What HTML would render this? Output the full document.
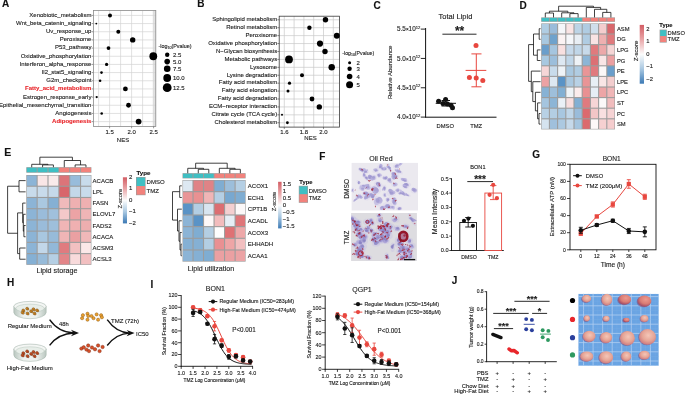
<!DOCTYPE html>
<html><head><meta charset="utf-8"><style>
html,body{margin:0;padding:0;background:#fff;width:685px;height:395px;overflow:hidden;}
svg{display:block;font-family:"Liberation Sans", sans-serif;will-change:transform;}
text{stroke:currentColor;stroke-width:0.12px;paint-order:stroke;}
</style></head><body>
<svg width="685" height="395" viewBox="0 0 685 395">
<rect x="0" y="0" width="685" height="395" fill="#fff"/>
<text x="2.00" y="6.90" font-size="10" text-anchor="start" fill="#111" color="#111" font-weight="bold" >A</text>
<rect x="93.40" y="10.50" width="62.40" height="116.00" fill="#ffffff" stroke="none" stroke-width="0.8" />
<defs><linearGradient id="gA" x1="0" x2="1" y1="0" y2="0"><stop offset="0" stop-color="#ffffff"/><stop offset="1" stop-color="#d6d6d6"/></linearGradient></defs>
<rect x="151.80" y="10.50" width="4.00" height="116.00" fill="url(#gA)" stroke="none" stroke-width="0.8" />
<line x1="98.60" y1="10.50" x2="98.60" y2="126.50" stroke="#d4d4d4" stroke-width="0.7" />
<line x1="109.60" y1="10.50" x2="109.60" y2="126.50" stroke="#d4d4d4" stroke-width="0.7" />
<line x1="120.60" y1="10.50" x2="120.60" y2="126.50" stroke="#d4d4d4" stroke-width="0.7" />
<line x1="131.60" y1="10.50" x2="131.60" y2="126.50" stroke="#d4d4d4" stroke-width="0.7" />
<line x1="142.60" y1="10.50" x2="142.60" y2="126.50" stroke="#d4d4d4" stroke-width="0.7" />
<line x1="153.60" y1="10.50" x2="153.60" y2="126.50" stroke="#d4d4d4" stroke-width="0.7" />
<line x1="93.40" y1="15.40" x2="155.80" y2="15.40" stroke="#d4d4d4" stroke-width="0.7" />
<line x1="91.60" y1="15.40" x2="93.40" y2="15.40" stroke="#555" stroke-width="0.6" />
<text x="91.40" y="16.80" font-size="6.0" text-anchor="end" fill="#1a1a1a" color="#1a1a1a" font-weight="normal" >Xenobiotic_metabolism</text>
<line x1="93.40" y1="23.57" x2="155.80" y2="23.57" stroke="#d4d4d4" stroke-width="0.7" />
<line x1="91.60" y1="23.57" x2="93.40" y2="23.57" stroke="#555" stroke-width="0.6" />
<text x="91.40" y="24.97" font-size="6.0" text-anchor="end" fill="#1a1a1a" color="#1a1a1a" font-weight="normal" >Wnt_beta_catenin_signaling</text>
<line x1="93.40" y1="31.74" x2="155.80" y2="31.74" stroke="#d4d4d4" stroke-width="0.7" />
<line x1="91.60" y1="31.74" x2="93.40" y2="31.74" stroke="#555" stroke-width="0.6" />
<text x="91.40" y="33.14" font-size="6.0" text-anchor="end" fill="#1a1a1a" color="#1a1a1a" font-weight="normal" >Uv_response_up</text>
<line x1="93.40" y1="39.91" x2="155.80" y2="39.91" stroke="#d4d4d4" stroke-width="0.7" />
<line x1="91.60" y1="39.91" x2="93.40" y2="39.91" stroke="#555" stroke-width="0.6" />
<text x="91.40" y="41.31" font-size="6.0" text-anchor="end" fill="#1a1a1a" color="#1a1a1a" font-weight="normal" >Peroxisome</text>
<line x1="93.40" y1="48.08" x2="155.80" y2="48.08" stroke="#d4d4d4" stroke-width="0.7" />
<line x1="91.60" y1="48.08" x2="93.40" y2="48.08" stroke="#555" stroke-width="0.6" />
<text x="91.40" y="49.48" font-size="6.0" text-anchor="end" fill="#1a1a1a" color="#1a1a1a" font-weight="normal" >P53_pathway</text>
<line x1="93.40" y1="56.25" x2="155.80" y2="56.25" stroke="#d4d4d4" stroke-width="0.7" />
<line x1="91.60" y1="56.25" x2="93.40" y2="56.25" stroke="#555" stroke-width="0.6" />
<text x="91.40" y="57.65" font-size="6.0" text-anchor="end" fill="#1a1a1a" color="#1a1a1a" font-weight="normal" >Oxidative_phosphorylation</text>
<line x1="93.40" y1="64.42" x2="155.80" y2="64.42" stroke="#d4d4d4" stroke-width="0.7" />
<line x1="91.60" y1="64.42" x2="93.40" y2="64.42" stroke="#555" stroke-width="0.6" />
<text x="91.40" y="65.82" font-size="6.0" text-anchor="end" fill="#1a1a1a" color="#1a1a1a" font-weight="normal" >Interferon_alpha_response</text>
<line x1="93.40" y1="72.59" x2="155.80" y2="72.59" stroke="#d4d4d4" stroke-width="0.7" />
<line x1="91.60" y1="72.59" x2="93.40" y2="72.59" stroke="#555" stroke-width="0.6" />
<text x="91.40" y="73.99" font-size="6.0" text-anchor="end" fill="#1a1a1a" color="#1a1a1a" font-weight="normal" >Il2_stat5_signaling</text>
<line x1="93.40" y1="80.76" x2="155.80" y2="80.76" stroke="#d4d4d4" stroke-width="0.7" />
<line x1="91.60" y1="80.76" x2="93.40" y2="80.76" stroke="#555" stroke-width="0.6" />
<text x="91.40" y="82.16" font-size="6.0" text-anchor="end" fill="#1a1a1a" color="#1a1a1a" font-weight="normal" >G2m_checkpoint</text>
<line x1="93.40" y1="88.93" x2="155.80" y2="88.93" stroke="#d4d4d4" stroke-width="0.7" />
<line x1="91.60" y1="88.93" x2="93.40" y2="88.93" stroke="#555" stroke-width="0.6" />
<text x="91.40" y="90.33" font-size="6.0" text-anchor="end" fill="#e8262b" color="#e8262b" font-weight="bold" >Fatty_acid_metabolism</text>
<line x1="93.40" y1="97.10" x2="155.80" y2="97.10" stroke="#d4d4d4" stroke-width="0.7" />
<line x1="91.60" y1="97.10" x2="93.40" y2="97.10" stroke="#555" stroke-width="0.6" />
<text x="91.40" y="98.50" font-size="6.0" text-anchor="end" fill="#1a1a1a" color="#1a1a1a" font-weight="normal" >Estrogen_response_early</text>
<line x1="93.40" y1="105.27" x2="155.80" y2="105.27" stroke="#d4d4d4" stroke-width="0.7" />
<line x1="91.60" y1="105.27" x2="93.40" y2="105.27" stroke="#555" stroke-width="0.6" />
<text x="91.40" y="106.67" font-size="6.0" text-anchor="end" fill="#1a1a1a" color="#1a1a1a" font-weight="normal" >Epithelial_mesenchymal_transition</text>
<line x1="93.40" y1="113.44" x2="155.80" y2="113.44" stroke="#d4d4d4" stroke-width="0.7" />
<line x1="91.60" y1="113.44" x2="93.40" y2="113.44" stroke="#555" stroke-width="0.6" />
<text x="91.40" y="114.84" font-size="6.0" text-anchor="end" fill="#1a1a1a" color="#1a1a1a" font-weight="normal" >Angiogenesis</text>
<line x1="93.40" y1="121.61" x2="155.80" y2="121.61" stroke="#d4d4d4" stroke-width="0.7" />
<line x1="91.60" y1="121.61" x2="93.40" y2="121.61" stroke="#555" stroke-width="0.6" />
<text x="91.40" y="123.01" font-size="6.0" text-anchor="end" fill="#e8262b" color="#e8262b" font-weight="bold" >Adipogenesis</text>
<rect x="93.40" y="10.50" width="62.40" height="116.00" fill="none" stroke="#8a8a8a" stroke-width="0.8" />
<circle cx="110.00" cy="15.40" r="2.00" fill="#000" stroke="none" stroke-width="0.8"/>
<circle cx="96.30" cy="23.57" r="0.90" fill="#000" stroke="none" stroke-width="0.8"/>
<circle cx="118.30" cy="31.74" r="2.00" fill="#000" stroke="none" stroke-width="0.8"/>
<circle cx="132.70" cy="39.91" r="2.70" fill="#000" stroke="none" stroke-width="0.8"/>
<circle cx="108.50" cy="48.08" r="1.90" fill="#000" stroke="none" stroke-width="0.8"/>
<circle cx="153.30" cy="56.25" r="3.90" fill="#000" stroke="none" stroke-width="0.8"/>
<circle cx="106.60" cy="64.42" r="1.60" fill="#000" stroke="none" stroke-width="0.8"/>
<circle cx="101.50" cy="72.59" r="1.30" fill="#000" stroke="none" stroke-width="0.8"/>
<circle cx="100.10" cy="80.76" r="1.30" fill="#000" stroke="none" stroke-width="0.8"/>
<circle cx="125.40" cy="88.93" r="2.40" fill="#000" stroke="none" stroke-width="0.8"/>
<circle cx="96.70" cy="97.10" r="1.10" fill="#000" stroke="none" stroke-width="0.8"/>
<circle cx="128.50" cy="105.27" r="2.40" fill="#000" stroke="none" stroke-width="0.8"/>
<circle cx="101.70" cy="113.44" r="1.30" fill="#000" stroke="none" stroke-width="0.8"/>
<circle cx="138.60" cy="121.61" r="2.90" fill="#000" stroke="none" stroke-width="0.8"/>
<line x1="109.60" y1="126.50" x2="109.60" y2="128.30" stroke="#555" stroke-width="0.6" />
<text x="109.60" y="134.20" font-size="6.0" text-anchor="middle" fill="#1a1a1a" color="#1a1a1a" font-weight="normal" >1.5</text>
<line x1="131.60" y1="126.50" x2="131.60" y2="128.30" stroke="#555" stroke-width="0.6" />
<text x="131.60" y="134.20" font-size="6.0" text-anchor="middle" fill="#1a1a1a" color="#1a1a1a" font-weight="normal" >2.0</text>
<line x1="153.60" y1="126.50" x2="153.60" y2="128.30" stroke="#555" stroke-width="0.6" />
<text x="153.60" y="134.20" font-size="6.0" text-anchor="middle" fill="#1a1a1a" color="#1a1a1a" font-weight="normal" >2.5</text>
<text x="123.00" y="141.90" font-size="6.0" text-anchor="middle" fill="#1a1a1a" color="#1a1a1a" font-weight="normal" >NES</text>
<text x="158.40" y="47.89" font-size="5.4" text-anchor="start" fill="#1a1a1a" color="#1a1a1a" font-weight="normal" >-log<tspan font-size="3.6" dy="1.2">10</tspan><tspan dy="-1.2">(Pvalue)</tspan></text>
<circle cx="167.20" cy="54.80" r="2.20" fill="#000" stroke="none" stroke-width="0.8"/>
<text x="173.00" y="56.90" font-size="6.0" text-anchor="start" fill="#1a1a1a" color="#1a1a1a" font-weight="normal" >2.5</text>
<circle cx="167.20" cy="61.60" r="2.80" fill="#000" stroke="none" stroke-width="0.8"/>
<text x="173.00" y="63.70" font-size="6.0" text-anchor="start" fill="#1a1a1a" color="#1a1a1a" font-weight="normal" >5.0</text>
<circle cx="167.20" cy="68.80" r="3.30" fill="#000" stroke="none" stroke-width="0.8"/>
<text x="173.00" y="70.90" font-size="6.0" text-anchor="start" fill="#1a1a1a" color="#1a1a1a" font-weight="normal" >7.5</text>
<circle cx="167.20" cy="78.00" r="3.90" fill="#000" stroke="none" stroke-width="0.8"/>
<text x="173.00" y="80.10" font-size="6.0" text-anchor="start" fill="#1a1a1a" color="#1a1a1a" font-weight="normal" >10.0</text>
<circle cx="167.20" cy="87.70" r="4.40" fill="#000" stroke="none" stroke-width="0.8"/>
<text x="173.00" y="89.80" font-size="6.0" text-anchor="start" fill="#1a1a1a" color="#1a1a1a" font-weight="normal" >12.5</text>
<text x="197.20" y="6.80" font-size="10" text-anchor="start" fill="#111" color="#111" font-weight="bold" >B</text>
<rect x="279.20" y="16.20" width="60.20" height="110.90" fill="#ffffff" stroke="none" stroke-width="0.8" />
<line x1="284.30" y1="16.20" x2="284.30" y2="127.10" stroke="#c8c8c8" stroke-width="0.7" />
<line x1="294.10" y1="16.20" x2="294.10" y2="127.10" stroke="#c8c8c8" stroke-width="0.7" />
<line x1="303.90" y1="16.20" x2="303.90" y2="127.10" stroke="#c8c8c8" stroke-width="0.7" />
<line x1="313.70" y1="16.20" x2="313.70" y2="127.10" stroke="#c8c8c8" stroke-width="0.7" />
<line x1="323.50" y1="16.20" x2="323.50" y2="127.10" stroke="#c8c8c8" stroke-width="0.7" />
<line x1="333.30" y1="16.20" x2="333.30" y2="127.10" stroke="#c8c8c8" stroke-width="0.7" />
<line x1="279.20" y1="19.80" x2="339.40" y2="19.80" stroke="#c8c8c8" stroke-width="0.7" />
<line x1="277.40" y1="19.80" x2="279.20" y2="19.80" stroke="#333" stroke-width="0.6" />
<text x="277.20" y="21.10" font-size="6.0" text-anchor="end" fill="#1a1a1a" color="#1a1a1a" font-weight="normal" >Sphingolipid metabolism</text>
<line x1="279.20" y1="27.72" x2="339.40" y2="27.72" stroke="#c8c8c8" stroke-width="0.7" />
<line x1="277.40" y1="27.72" x2="279.20" y2="27.72" stroke="#333" stroke-width="0.6" />
<text x="277.20" y="29.02" font-size="6.0" text-anchor="end" fill="#1a1a1a" color="#1a1a1a" font-weight="normal" >Retinol metabolism</text>
<line x1="279.20" y1="35.64" x2="339.40" y2="35.64" stroke="#c8c8c8" stroke-width="0.7" />
<line x1="277.40" y1="35.64" x2="279.20" y2="35.64" stroke="#333" stroke-width="0.6" />
<text x="277.20" y="36.94" font-size="6.0" text-anchor="end" fill="#1a1a1a" color="#1a1a1a" font-weight="normal" >Peroxisome</text>
<line x1="279.20" y1="43.56" x2="339.40" y2="43.56" stroke="#c8c8c8" stroke-width="0.7" />
<line x1="277.40" y1="43.56" x2="279.20" y2="43.56" stroke="#333" stroke-width="0.6" />
<text x="277.20" y="44.86" font-size="6.0" text-anchor="end" fill="#1a1a1a" color="#1a1a1a" font-weight="normal" >Oxidative phosphorylation</text>
<line x1="279.20" y1="51.48" x2="339.40" y2="51.48" stroke="#c8c8c8" stroke-width="0.7" />
<line x1="277.40" y1="51.48" x2="279.20" y2="51.48" stroke="#333" stroke-width="0.6" />
<text x="277.20" y="52.78" font-size="6.0" text-anchor="end" fill="#1a1a1a" color="#1a1a1a" font-weight="normal" >N−Glycan biosynthesis</text>
<line x1="279.20" y1="59.40" x2="339.40" y2="59.40" stroke="#c8c8c8" stroke-width="0.7" />
<line x1="277.40" y1="59.40" x2="279.20" y2="59.40" stroke="#333" stroke-width="0.6" />
<text x="277.20" y="60.70" font-size="6.0" text-anchor="end" fill="#1a1a1a" color="#1a1a1a" font-weight="normal" >Metabolic pathways</text>
<line x1="279.20" y1="67.32" x2="339.40" y2="67.32" stroke="#c8c8c8" stroke-width="0.7" />
<line x1="277.40" y1="67.32" x2="279.20" y2="67.32" stroke="#333" stroke-width="0.6" />
<text x="277.20" y="68.62" font-size="6.0" text-anchor="end" fill="#1a1a1a" color="#1a1a1a" font-weight="normal" >Lysosome</text>
<line x1="279.20" y1="75.24" x2="339.40" y2="75.24" stroke="#c8c8c8" stroke-width="0.7" />
<line x1="277.40" y1="75.24" x2="279.20" y2="75.24" stroke="#333" stroke-width="0.6" />
<text x="277.20" y="76.54" font-size="6.0" text-anchor="end" fill="#1a1a1a" color="#1a1a1a" font-weight="normal" >Lysine degradation</text>
<line x1="279.20" y1="83.16" x2="339.40" y2="83.16" stroke="#c8c8c8" stroke-width="0.7" />
<line x1="277.40" y1="83.16" x2="279.20" y2="83.16" stroke="#333" stroke-width="0.6" />
<text x="277.20" y="84.46" font-size="6.0" text-anchor="end" fill="#1a1a1a" color="#1a1a1a" font-weight="normal" >Fatty acid metabolism</text>
<line x1="279.20" y1="91.08" x2="339.40" y2="91.08" stroke="#c8c8c8" stroke-width="0.7" />
<line x1="277.40" y1="91.08" x2="279.20" y2="91.08" stroke="#333" stroke-width="0.6" />
<text x="277.20" y="92.38" font-size="6.0" text-anchor="end" fill="#1a1a1a" color="#1a1a1a" font-weight="normal" >Fatty acid elongation</text>
<line x1="279.20" y1="99.00" x2="339.40" y2="99.00" stroke="#c8c8c8" stroke-width="0.7" />
<line x1="277.40" y1="99.00" x2="279.20" y2="99.00" stroke="#333" stroke-width="0.6" />
<text x="277.20" y="100.30" font-size="6.0" text-anchor="end" fill="#1a1a1a" color="#1a1a1a" font-weight="normal" >Fatty acid degradation</text>
<line x1="279.20" y1="106.92" x2="339.40" y2="106.92" stroke="#c8c8c8" stroke-width="0.7" />
<line x1="277.40" y1="106.92" x2="279.20" y2="106.92" stroke="#333" stroke-width="0.6" />
<text x="277.20" y="108.22" font-size="6.0" text-anchor="end" fill="#1a1a1a" color="#1a1a1a" font-weight="normal" >ECM−receptor interaction</text>
<line x1="279.20" y1="114.84" x2="339.40" y2="114.84" stroke="#c8c8c8" stroke-width="0.7" />
<line x1="277.40" y1="114.84" x2="279.20" y2="114.84" stroke="#333" stroke-width="0.6" />
<text x="277.20" y="116.14" font-size="6.0" text-anchor="end" fill="#1a1a1a" color="#1a1a1a" font-weight="normal" >Citrate cycle (TCA cycle)</text>
<line x1="279.20" y1="122.76" x2="339.40" y2="122.76" stroke="#c8c8c8" stroke-width="0.7" />
<line x1="277.40" y1="122.76" x2="279.20" y2="122.76" stroke="#333" stroke-width="0.6" />
<text x="277.20" y="124.06" font-size="6.0" text-anchor="end" fill="#1a1a1a" color="#1a1a1a" font-weight="normal" >Cholesterol metabolism</text>
<rect x="279.20" y="16.20" width="60.20" height="110.90" fill="none" stroke="#3a3a3a" stroke-width="0.8" />
<circle cx="325.50" cy="19.80" r="2.70" fill="#000" stroke="none" stroke-width="0.8"/>
<circle cx="309.40" cy="27.72" r="2.20" fill="#000" stroke="none" stroke-width="0.8"/>
<circle cx="336.80" cy="35.64" r="3.00" fill="#000" stroke="none" stroke-width="0.8"/>
<circle cx="320.00" cy="43.56" r="3.10" fill="#000" stroke="none" stroke-width="0.8"/>
<circle cx="325.00" cy="51.48" r="2.70" fill="#000" stroke="none" stroke-width="0.8"/>
<circle cx="289.00" cy="59.40" r="3.90" fill="#000" stroke="none" stroke-width="0.8"/>
<circle cx="331.70" cy="67.32" r="3.20" fill="#000" stroke="none" stroke-width="0.8"/>
<circle cx="302.00" cy="75.24" r="2.00" fill="#000" stroke="none" stroke-width="0.8"/>
<circle cx="289.50" cy="83.16" r="1.60" fill="#000" stroke="none" stroke-width="0.8"/>
<circle cx="288.00" cy="91.08" r="1.50" fill="#000" stroke="none" stroke-width="0.8"/>
<circle cx="312.00" cy="99.00" r="2.40" fill="#000" stroke="none" stroke-width="0.8"/>
<circle cx="319.30" cy="106.92" r="2.70" fill="#000" stroke="none" stroke-width="0.8"/>
<circle cx="282.00" cy="114.84" r="1.00" fill="#000" stroke="none" stroke-width="0.8"/>
<circle cx="287.40" cy="122.76" r="1.40" fill="#000" stroke="none" stroke-width="0.8"/>
<line x1="284.30" y1="127.10" x2="284.30" y2="128.90" stroke="#333" stroke-width="0.6" />
<text x="284.30" y="133.80" font-size="6.0" text-anchor="middle" fill="#1a1a1a" color="#1a1a1a" font-weight="normal" >1.6</text>
<line x1="303.90" y1="127.10" x2="303.90" y2="128.90" stroke="#333" stroke-width="0.6" />
<text x="303.90" y="133.80" font-size="6.0" text-anchor="middle" fill="#1a1a1a" color="#1a1a1a" font-weight="normal" >1.8</text>
<line x1="323.50" y1="127.10" x2="323.50" y2="128.90" stroke="#333" stroke-width="0.6" />
<text x="323.50" y="133.80" font-size="6.0" text-anchor="middle" fill="#1a1a1a" color="#1a1a1a" font-weight="normal" >2.0</text>
<text x="310.50" y="140.10" font-size="6.0" text-anchor="middle" fill="#1a1a1a" color="#1a1a1a" font-weight="normal" >NES</text>
<text x="342.30" y="54.62" font-size="5.2" text-anchor="start" fill="#1a1a1a" color="#1a1a1a" font-weight="normal" >-log<tspan font-size="3.5" dy="1.2">10</tspan><tspan dy="-1.2">(Pvalue)</tspan></text>
<circle cx="349.60" cy="62.80" r="1.50" fill="#000" stroke="none" stroke-width="0.8"/>
<text x="356.50" y="64.90" font-size="6.0" text-anchor="start" fill="#1a1a1a" color="#1a1a1a" font-weight="normal" >2</text>
<circle cx="349.60" cy="68.80" r="2.20" fill="#000" stroke="none" stroke-width="0.8"/>
<text x="356.50" y="70.90" font-size="6.0" text-anchor="start" fill="#1a1a1a" color="#1a1a1a" font-weight="normal" >3</text>
<circle cx="349.60" cy="76.50" r="2.80" fill="#000" stroke="none" stroke-width="0.8"/>
<text x="356.50" y="78.60" font-size="6.0" text-anchor="start" fill="#1a1a1a" color="#1a1a1a" font-weight="normal" >4</text>
<circle cx="349.60" cy="84.70" r="3.50" fill="#000" stroke="none" stroke-width="0.8"/>
<text x="356.50" y="86.80" font-size="6.0" text-anchor="start" fill="#1a1a1a" color="#1a1a1a" font-weight="normal" >5</text>
<text x="373.50" y="8.80" font-size="10" text-anchor="start" fill="#111" color="#111" font-weight="bold" >C</text>
<text x="455.50" y="19.12" font-size="7.5" text-anchor="middle" fill="#1a1a1a" color="#1a1a1a" font-weight="normal" >Total Lipid</text>
<line x1="425.60" y1="28.00" x2="425.60" y2="117.60" stroke="#111" stroke-width="1.0" />
<line x1="425.20" y1="117.20" x2="496.50" y2="117.20" stroke="#111" stroke-width="1.0" />
<line x1="420.80" y1="29.11" x2="425.60" y2="29.11" stroke="#111" stroke-width="0.9" />
<text x="420.40" y="31.21" font-size="6.4" text-anchor="end" fill="#1a1a1a" color="#1a1a1a" font-weight="normal" >5.5<tspan font-size="4.6">×</tspan>10<tspan font-size="4.2" dy="-2.4">12</tspan></text>
<line x1="420.80" y1="58.44" x2="425.60" y2="58.44" stroke="#111" stroke-width="0.9" />
<text x="420.40" y="60.54" font-size="6.4" text-anchor="end" fill="#1a1a1a" color="#1a1a1a" font-weight="normal" >5.0<tspan font-size="4.6">×</tspan>10<tspan font-size="4.2" dy="-2.4">12</tspan></text>
<line x1="420.80" y1="87.77" x2="425.60" y2="87.77" stroke="#111" stroke-width="0.9" />
<text x="420.40" y="89.87" font-size="6.4" text-anchor="end" fill="#1a1a1a" color="#1a1a1a" font-weight="normal" >4.5<tspan font-size="4.6">×</tspan>10<tspan font-size="4.2" dy="-2.4">12</tspan></text>
<line x1="420.80" y1="117.10" x2="425.60" y2="117.10" stroke="#111" stroke-width="0.9" />
<text x="420.40" y="119.20" font-size="6.4" text-anchor="end" fill="#1a1a1a" color="#1a1a1a" font-weight="normal" >4.0<tspan font-size="4.6">×</tspan>10<tspan font-size="4.2" dy="-2.4">12</tspan></text>
<text transform="translate(391.80,72.30) rotate(-90)" x="0" y="0" font-size="6.0" text-anchor="middle" fill="#1a1a1a" color="#1a1a1a" font-weight="normal">Relative Abundance</text>
<line x1="442.40" y1="34.20" x2="476.50" y2="34.20" stroke="#111" stroke-width="0.9" />
<text x="459.60" y="35.30" font-size="12.0" text-anchor="middle" fill="#1a1a1a" color="#1a1a1a" font-weight="bold" >**</text>
<circle cx="438.60" cy="101.20" r="2.50" fill="#111" stroke="none" stroke-width="0.8"/>
<circle cx="445.60" cy="99.40" r="2.50" fill="#111" stroke="none" stroke-width="0.8"/>
<circle cx="443.00" cy="103.50" r="2.50" fill="#111" stroke="none" stroke-width="0.8"/>
<circle cx="451.00" cy="105.30" r="2.50" fill="#111" stroke="none" stroke-width="0.8"/>
<circle cx="452.50" cy="107.80" r="2.50" fill="#111" stroke="none" stroke-width="0.8"/>
<circle cx="447.50" cy="104.00" r="2.50" fill="#111" stroke="none" stroke-width="0.8"/>
<line x1="435.70" y1="103.30" x2="456.00" y2="103.30" stroke="#111" stroke-width="1.0" />
<line x1="445.80" y1="100.50" x2="445.80" y2="106.00" stroke="#111" stroke-width="1.0" />
<line x1="441.50" y1="100.50" x2="450.00" y2="100.50" stroke="#111" stroke-width="1.0" />
<line x1="441.50" y1="106.00" x2="450.00" y2="106.00" stroke="#111" stroke-width="1.0" />
<line x1="476.30" y1="53.90" x2="476.30" y2="86.80" stroke="#e8473f" stroke-width="1.0" />
<line x1="471.40" y1="53.90" x2="481.50" y2="53.90" stroke="#e8473f" stroke-width="1.0" />
<line x1="471.40" y1="86.80" x2="481.50" y2="86.80" stroke="#e8473f" stroke-width="1.0" />
<line x1="465.60" y1="70.40" x2="486.30" y2="70.40" stroke="#e8473f" stroke-width="1.0" />
<circle cx="476.00" cy="45.60" r="2.50" fill="#e8473f" stroke="none" stroke-width="0.8"/>
<circle cx="469.40" cy="77.50" r="2.50" fill="#e8473f" stroke="none" stroke-width="0.8"/>
<circle cx="476.20" cy="78.00" r="2.50" fill="#e8473f" stroke="none" stroke-width="0.8"/>
<circle cx="482.80" cy="80.50" r="2.50" fill="#e8473f" stroke="none" stroke-width="0.8"/>
<text x="445.30" y="128.03" font-size="5.8" text-anchor="middle" fill="#1a1a1a" color="#1a1a1a" font-weight="normal" >DMSO</text>
<text x="476.20" y="128.03" font-size="5.8" text-anchor="middle" fill="#1a1a1a" color="#1a1a1a" font-weight="normal" >TMZ</text>
<text x="519.60" y="9.00" font-size="10" text-anchor="start" fill="#111" color="#111" font-weight="bold" >D</text>
<rect x="541.20" y="23.40" width="73.80" height="106.00" fill="#9c9c9c" stroke="none" stroke-width="0.8" />
<rect x="541.75" y="23.95" width="7.10" height="9.50" fill="#b0cde3" stroke="none" stroke-width="0.8" />
<rect x="549.95" y="23.95" width="7.10" height="9.50" fill="#9abcda" stroke="none" stroke-width="0.8" />
<rect x="558.15" y="23.95" width="7.10" height="9.50" fill="#f5f7fa" stroke="none" stroke-width="0.8" />
<rect x="566.35" y="23.95" width="7.10" height="9.50" fill="#f9e4e4" stroke="none" stroke-width="0.8" />
<rect x="574.55" y="23.95" width="7.10" height="9.50" fill="#bcd4e6" stroke="none" stroke-width="0.8" />
<rect x="582.75" y="23.95" width="7.10" height="9.50" fill="#b0cce2" stroke="none" stroke-width="0.8" />
<rect x="590.95" y="23.95" width="7.10" height="9.50" fill="#d0dfec" stroke="none" stroke-width="0.8" />
<rect x="599.15" y="23.95" width="7.10" height="9.50" fill="#f4cdcd" stroke="none" stroke-width="0.8" />
<rect x="607.35" y="23.95" width="7.10" height="9.50" fill="#d9686c" stroke="none" stroke-width="0.8" />
<rect x="541.75" y="34.55" width="7.10" height="9.50" fill="#a8c8e0" stroke="none" stroke-width="0.8" />
<rect x="549.95" y="34.55" width="7.10" height="9.50" fill="#6fa2cc" stroke="none" stroke-width="0.8" />
<rect x="558.15" y="34.55" width="7.10" height="9.50" fill="#fbf3f3" stroke="none" stroke-width="0.8" />
<rect x="566.35" y="34.55" width="7.10" height="9.50" fill="#f5f7fa" stroke="none" stroke-width="0.8" />
<rect x="574.55" y="34.55" width="7.10" height="9.50" fill="#e8eef4" stroke="none" stroke-width="0.8" />
<rect x="582.75" y="34.55" width="7.10" height="9.50" fill="#b0cce2" stroke="none" stroke-width="0.8" />
<rect x="590.95" y="34.55" width="7.10" height="9.50" fill="#f9e3e3" stroke="none" stroke-width="0.8" />
<rect x="599.15" y="34.55" width="7.10" height="9.50" fill="#eeb0b0" stroke="none" stroke-width="0.8" />
<rect x="607.35" y="34.55" width="7.10" height="9.50" fill="#e07a7d" stroke="none" stroke-width="0.8" />
<rect x="541.75" y="45.15" width="7.10" height="9.50" fill="#6a9ecb" stroke="none" stroke-width="0.8" />
<rect x="549.95" y="45.15" width="7.10" height="9.50" fill="#a5c5df" stroke="none" stroke-width="0.8" />
<rect x="558.15" y="45.15" width="7.10" height="9.50" fill="#f8e0e0" stroke="none" stroke-width="0.8" />
<rect x="566.35" y="45.15" width="7.10" height="9.50" fill="#c6d9ea" stroke="none" stroke-width="0.8" />
<rect x="574.55" y="45.15" width="7.10" height="9.50" fill="#c0d6e8" stroke="none" stroke-width="0.8" />
<rect x="582.75" y="45.15" width="7.10" height="9.50" fill="#c8daea" stroke="none" stroke-width="0.8" />
<rect x="590.95" y="45.15" width="7.10" height="9.50" fill="#e07a7d" stroke="none" stroke-width="0.8" />
<rect x="599.15" y="45.15" width="7.10" height="9.50" fill="#eca8a9" stroke="none" stroke-width="0.8" />
<rect x="607.35" y="45.15" width="7.10" height="9.50" fill="#f5d5d5" stroke="none" stroke-width="0.8" />
<rect x="541.75" y="55.75" width="7.10" height="9.50" fill="#a8c8e0" stroke="none" stroke-width="0.8" />
<rect x="549.95" y="55.75" width="7.10" height="9.50" fill="#9cbedb" stroke="none" stroke-width="0.8" />
<rect x="558.15" y="55.75" width="7.10" height="9.50" fill="#dde8f2" stroke="none" stroke-width="0.8" />
<rect x="566.35" y="55.75" width="7.10" height="9.50" fill="#c0d6e8" stroke="none" stroke-width="0.8" />
<rect x="574.55" y="55.75" width="7.10" height="9.50" fill="#eef2f6" stroke="none" stroke-width="0.8" />
<rect x="582.75" y="55.75" width="7.10" height="9.50" fill="#8cb5d6" stroke="none" stroke-width="0.8" />
<rect x="590.95" y="55.75" width="7.10" height="9.50" fill="#dc7074" stroke="none" stroke-width="0.8" />
<rect x="599.15" y="55.75" width="7.10" height="9.50" fill="#f9e6e6" stroke="none" stroke-width="0.8" />
<rect x="607.35" y="55.75" width="7.10" height="9.50" fill="#eb9fa1" stroke="none" stroke-width="0.8" />
<rect x="541.75" y="66.35" width="7.10" height="9.50" fill="#f6d6d7" stroke="none" stroke-width="0.8" />
<rect x="549.95" y="66.35" width="7.10" height="9.50" fill="#c8dbeb" stroke="none" stroke-width="0.8" />
<rect x="558.15" y="66.35" width="7.10" height="9.50" fill="#eef3f7" stroke="none" stroke-width="0.8" />
<rect x="566.35" y="66.35" width="7.10" height="9.50" fill="#a9c8e0" stroke="none" stroke-width="0.8" />
<rect x="574.55" y="66.35" width="7.10" height="9.50" fill="#b0cce2" stroke="none" stroke-width="0.8" />
<rect x="582.75" y="66.35" width="7.10" height="9.50" fill="#e99597" stroke="none" stroke-width="0.8" />
<rect x="590.95" y="66.35" width="7.10" height="9.50" fill="#e07a7e" stroke="none" stroke-width="0.8" />
<rect x="599.15" y="66.35" width="7.10" height="9.50" fill="#fbf8f8" stroke="none" stroke-width="0.8" />
<rect x="607.35" y="66.35" width="7.10" height="9.50" fill="#6a9ecb" stroke="none" stroke-width="0.8" />
<rect x="541.75" y="76.95" width="7.10" height="9.50" fill="#eca2a4" stroke="none" stroke-width="0.8" />
<rect x="549.95" y="76.95" width="7.10" height="9.50" fill="#dde8f2" stroke="none" stroke-width="0.8" />
<rect x="558.15" y="76.95" width="7.10" height="9.50" fill="#5a93c6" stroke="none" stroke-width="0.8" />
<rect x="566.35" y="76.95" width="7.10" height="9.50" fill="#aac8e0" stroke="none" stroke-width="0.8" />
<rect x="574.55" y="76.95" width="7.10" height="9.50" fill="#b8d1e5" stroke="none" stroke-width="0.8" />
<rect x="582.75" y="76.95" width="7.10" height="9.50" fill="#e99496" stroke="none" stroke-width="0.8" />
<rect x="590.95" y="76.95" width="7.10" height="9.50" fill="#e8eff5" stroke="none" stroke-width="0.8" />
<rect x="599.15" y="76.95" width="7.10" height="9.50" fill="#f9e6e6" stroke="none" stroke-width="0.8" />
<rect x="607.35" y="76.95" width="7.10" height="9.50" fill="#f3cdce" stroke="none" stroke-width="0.8" />
<rect x="541.75" y="87.55" width="7.10" height="9.50" fill="#87b2d5" stroke="none" stroke-width="0.8" />
<rect x="549.95" y="87.55" width="7.10" height="9.50" fill="#9ebfdb" stroke="none" stroke-width="0.8" />
<rect x="558.15" y="87.55" width="7.10" height="9.50" fill="#82afd3" stroke="none" stroke-width="0.8" />
<rect x="566.35" y="87.55" width="7.10" height="9.50" fill="#eef3f7" stroke="none" stroke-width="0.8" />
<rect x="574.55" y="87.55" width="7.10" height="9.50" fill="#fbecec" stroke="none" stroke-width="0.8" />
<rect x="582.75" y="87.55" width="7.10" height="9.50" fill="#e99092" stroke="none" stroke-width="0.8" />
<rect x="590.95" y="87.55" width="7.10" height="9.50" fill="#e6eef5" stroke="none" stroke-width="0.8" />
<rect x="599.15" y="87.55" width="7.10" height="9.50" fill="#eda5a6" stroke="none" stroke-width="0.8" />
<rect x="607.35" y="87.55" width="7.10" height="9.50" fill="#f0b6b7" stroke="none" stroke-width="0.8" />
<rect x="541.75" y="98.15" width="7.10" height="9.50" fill="#a5c5df" stroke="none" stroke-width="0.8" />
<rect x="549.95" y="98.15" width="7.10" height="9.50" fill="#8cb5d6" stroke="none" stroke-width="0.8" />
<rect x="558.15" y="98.15" width="7.10" height="9.50" fill="#eaf0f6" stroke="none" stroke-width="0.8" />
<rect x="566.35" y="98.15" width="7.10" height="9.50" fill="#f8dddd" stroke="none" stroke-width="0.8" />
<rect x="574.55" y="98.15" width="7.10" height="9.50" fill="#82afd3" stroke="none" stroke-width="0.8" />
<rect x="582.75" y="98.15" width="7.10" height="9.50" fill="#e07a7e" stroke="none" stroke-width="0.8" />
<rect x="590.95" y="98.15" width="7.10" height="9.50" fill="#f7d5d6" stroke="none" stroke-width="0.8" />
<rect x="599.15" y="98.15" width="7.10" height="9.50" fill="#fbf9f9" stroke="none" stroke-width="0.8" />
<rect x="607.35" y="98.15" width="7.10" height="9.50" fill="#f1bcbd" stroke="none" stroke-width="0.8" />
<rect x="541.75" y="108.75" width="7.10" height="9.50" fill="#b8d1e5" stroke="none" stroke-width="0.8" />
<rect x="549.95" y="108.75" width="7.10" height="9.50" fill="#b3cee3" stroke="none" stroke-width="0.8" />
<rect x="558.15" y="108.75" width="7.10" height="9.50" fill="#a8c7e0" stroke="none" stroke-width="0.8" />
<rect x="566.35" y="108.75" width="7.10" height="9.50" fill="#c0d6e8" stroke="none" stroke-width="0.8" />
<rect x="574.55" y="108.75" width="7.10" height="9.50" fill="#9abcda" stroke="none" stroke-width="0.8" />
<rect x="582.75" y="108.75" width="7.10" height="9.50" fill="#dc6a6e" stroke="none" stroke-width="0.8" />
<rect x="590.95" y="108.75" width="7.10" height="9.50" fill="#f3c6c7" stroke="none" stroke-width="0.8" />
<rect x="599.15" y="108.75" width="7.10" height="9.50" fill="#f8dfe0" stroke="none" stroke-width="0.8" />
<rect x="607.35" y="108.75" width="7.10" height="9.50" fill="#f6d3d4" stroke="none" stroke-width="0.8" />
<rect x="541.75" y="119.35" width="7.10" height="9.50" fill="#d5e3ef" stroke="none" stroke-width="0.8" />
<rect x="549.95" y="119.35" width="7.10" height="9.50" fill="#a0c0dc" stroke="none" stroke-width="0.8" />
<rect x="558.15" y="119.35" width="7.10" height="9.50" fill="#acc9e1" stroke="none" stroke-width="0.8" />
<rect x="566.35" y="119.35" width="7.10" height="9.50" fill="#c5d9ea" stroke="none" stroke-width="0.8" />
<rect x="574.55" y="119.35" width="7.10" height="9.50" fill="#a5c5df" stroke="none" stroke-width="0.8" />
<rect x="582.75" y="119.35" width="7.10" height="9.50" fill="#dc6a6e" stroke="none" stroke-width="0.8" />
<rect x="590.95" y="119.35" width="7.10" height="9.50" fill="#fdf8f8" stroke="none" stroke-width="0.8" />
<rect x="599.15" y="119.35" width="7.10" height="9.50" fill="#f6d0d1" stroke="none" stroke-width="0.8" />
<rect x="607.35" y="119.35" width="7.10" height="9.50" fill="#f5cdce" stroke="none" stroke-width="0.8" />
<rect x="541.20" y="17.40" width="73.80" height="4.40" fill="#9c9c9c" stroke="none" stroke-width="0.8" />
<rect x="541.70" y="17.90" width="7.20" height="3.40" fill="#3fbfc3" stroke="none" stroke-width="0.8" />
<rect x="549.90" y="17.90" width="7.20" height="3.40" fill="#3fbfc3" stroke="none" stroke-width="0.8" />
<rect x="558.10" y="17.90" width="7.20" height="3.40" fill="#3fbfc3" stroke="none" stroke-width="0.8" />
<rect x="566.30" y="17.90" width="7.20" height="3.40" fill="#3fbfc3" stroke="none" stroke-width="0.8" />
<rect x="574.50" y="17.90" width="7.20" height="3.40" fill="#3fbfc3" stroke="none" stroke-width="0.8" />
<rect x="582.70" y="17.90" width="7.20" height="3.40" fill="#f2827c" stroke="none" stroke-width="0.8" />
<rect x="590.90" y="17.90" width="7.20" height="3.40" fill="#f2827c" stroke="none" stroke-width="0.8" />
<rect x="599.10" y="17.90" width="7.20" height="3.40" fill="#f2827c" stroke="none" stroke-width="0.8" />
<rect x="607.30" y="17.90" width="7.20" height="3.40" fill="#f2827c" stroke="none" stroke-width="0.8" />
<path d="M545.30,17.40 V13.00 H553.50 V17.40" stroke="#111" stroke-width="0.8" fill="none" />
<path d="M569.90,17.40 V13.60 H578.10 V17.40" stroke="#111" stroke-width="0.8" fill="none" />
<path d="M561.70,17.40 V12.80 H574.00 V13.60" stroke="#111" stroke-width="0.8" fill="none" />
<path d="M549.40,13.00 V11.20 H567.85 V12.80" stroke="#111" stroke-width="0.8" fill="none" />
<path d="M602.70,17.40 V12.40 H610.90 V17.40" stroke="#111" stroke-width="0.8" fill="none" />
<path d="M594.50,17.40 V9.30 H606.80 V12.40" stroke="#111" stroke-width="0.8" fill="none" />
<path d="M586.30,17.40 V7.40 H600.65 V9.30" stroke="#111" stroke-width="0.8" fill="none" />
<path d="M558.62,11.20 V6.20 H593.48 V7.40" stroke="#111" stroke-width="0.8" fill="none" />
<path d="M540.60,28.70 H539.20 V39.30 H540.60" stroke="#111" stroke-width="0.8" fill="none" />
<path d="M540.60,49.90 H537.30 V60.50 H540.60" stroke="#111" stroke-width="0.8" fill="none" />
<path d="M539.20,34.00 H533.50 V55.20 H537.30" stroke="#111" stroke-width="0.8" fill="none" />
<path d="M540.60,113.50 H539.00 V124.10 H540.60" stroke="#111" stroke-width="0.8" fill="none" />
<path d="M540.60,102.90 H537.60 V118.80 H539.00" stroke="#111" stroke-width="0.8" fill="none" />
<path d="M540.60,92.30 H535.40 V110.85 H537.60" stroke="#111" stroke-width="0.8" fill="none" />
<path d="M540.60,81.70 H532.80 V101.57 H535.40" stroke="#111" stroke-width="0.8" fill="none" />
<path d="M540.60,71.10 H531.30 V91.64 H532.80" stroke="#111" stroke-width="0.8" fill="none" />
<path d="M533.50,44.60 H528.60 V81.37 H531.30" stroke="#111" stroke-width="0.8" fill="none" />
<text x="617.00" y="30.73" font-size="5.8" text-anchor="start" fill="#1a1a1a" color="#1a1a1a" font-weight="normal" >ASM</text>
<text x="617.00" y="41.33" font-size="5.8" text-anchor="start" fill="#1a1a1a" color="#1a1a1a" font-weight="normal" >DG</text>
<text x="617.00" y="51.93" font-size="5.8" text-anchor="start" fill="#1a1a1a" color="#1a1a1a" font-weight="normal" >LPG</text>
<text x="617.00" y="62.53" font-size="5.8" text-anchor="start" fill="#1a1a1a" color="#1a1a1a" font-weight="normal" >PG</text>
<text x="617.00" y="73.13" font-size="5.8" text-anchor="start" fill="#1a1a1a" color="#1a1a1a" font-weight="normal" >PE</text>
<text x="617.00" y="83.73" font-size="5.8" text-anchor="start" fill="#1a1a1a" color="#1a1a1a" font-weight="normal" >LPE</text>
<text x="617.00" y="94.33" font-size="5.8" text-anchor="start" fill="#1a1a1a" color="#1a1a1a" font-weight="normal" >LPC</text>
<text x="617.00" y="104.93" font-size="5.8" text-anchor="start" fill="#1a1a1a" color="#1a1a1a" font-weight="normal" >ST</text>
<text x="617.00" y="115.53" font-size="5.8" text-anchor="start" fill="#1a1a1a" color="#1a1a1a" font-weight="normal" >PC</text>
<text x="617.00" y="126.13" font-size="5.8" text-anchor="start" fill="#1a1a1a" color="#1a1a1a" font-weight="normal" >SM</text>
<defs><linearGradient id="gD" x1="0" y1="0" x2="0" y2="1"><stop offset="0" stop-color="#d35d64"/><stop offset="0.25" stop-color="#e9a6a8"/><stop offset="0.5" stop-color="#fcfcfc"/><stop offset="0.75" stop-color="#a9c8e1"/><stop offset="1" stop-color="#3b79b5"/></linearGradient></defs>
<rect x="639.70" y="24.90" width="4.30" height="58.80" fill="url(#gD)" stroke="none" stroke-width="0.8" />
<text x="646.30" y="30.73" font-size="5.8" text-anchor="start" fill="#1a1a1a" color="#1a1a1a" font-weight="normal" >2</text>
<text x="646.30" y="43.03" font-size="5.8" text-anchor="start" fill="#1a1a1a" color="#1a1a1a" font-weight="normal" >1</text>
<text x="646.30" y="55.93" font-size="5.8" text-anchor="start" fill="#1a1a1a" color="#1a1a1a" font-weight="normal" >0</text>
<text x="646.30" y="68.23" font-size="5.8" text-anchor="start" fill="#1a1a1a" color="#1a1a1a" font-weight="normal" >−1</text>
<text x="646.30" y="81.03" font-size="5.8" text-anchor="start" fill="#1a1a1a" color="#1a1a1a" font-weight="normal" >−2</text>
<text transform="translate(637.80,51.00) rotate(-90)" x="0" y="0" font-size="6.1" text-anchor="middle" fill="#1a1a1a" color="#1a1a1a" font-weight="normal">Z-score</text>
<text x="659.30" y="27.20" font-size="5.8" text-anchor="start" fill="#111" color="#111" font-weight="bold" >Type</text>
<rect x="659.60" y="29.60" width="7.20" height="13.00" fill="#9c9c9c" stroke="none" stroke-width="0.8" />
<rect x="660.20" y="30.20" width="6.00" height="5.90" fill="#3fbfc3" stroke="none" stroke-width="0.8" />
<rect x="660.20" y="36.10" width="6.00" height="5.90" fill="#f2827c" stroke="none" stroke-width="0.8" />
<text x="667.60" y="35.24" font-size="5.8" text-anchor="start" fill="#1a1a1a" color="#1a1a1a" font-weight="normal" >DMSO</text>
<text x="667.60" y="41.14" font-size="5.8" text-anchor="start" fill="#1a1a1a" color="#1a1a1a" font-weight="normal" >TMZ</text>
<text x="4.30" y="155.80" font-size="10.5" text-anchor="start" fill="#111" color="#111" font-weight="bold" >E</text>
<rect x="26.30" y="175.00" width="65.10" height="89.84" fill="#9c9c9c" stroke="none" stroke-width="0.8" />
<rect x="26.85" y="175.55" width="9.75" height="10.13" fill="#8cb4d6" stroke="none" stroke-width="0.8" />
<rect x="37.70" y="175.55" width="9.75" height="10.13" fill="#f9e6e6" stroke="none" stroke-width="0.8" />
<rect x="48.55" y="175.55" width="9.75" height="10.13" fill="#f9eaea" stroke="none" stroke-width="0.8" />
<rect x="59.40" y="175.55" width="9.75" height="10.13" fill="#dc7479" stroke="none" stroke-width="0.8" />
<rect x="70.25" y="175.55" width="9.75" height="10.13" fill="#98bcdb" stroke="none" stroke-width="0.8" />
<rect x="81.10" y="175.55" width="9.75" height="10.13" fill="#c8dbeb" stroke="none" stroke-width="0.8" />
<rect x="26.85" y="186.78" width="9.75" height="10.13" fill="#c8dbeb" stroke="none" stroke-width="0.8" />
<rect x="37.70" y="186.78" width="9.75" height="10.13" fill="#c8dbeb" stroke="none" stroke-width="0.8" />
<rect x="48.55" y="186.78" width="9.75" height="10.13" fill="#c5d9ea" stroke="none" stroke-width="0.8" />
<rect x="59.40" y="186.78" width="9.75" height="10.13" fill="#d8666b" stroke="none" stroke-width="0.8" />
<rect x="70.25" y="186.78" width="9.75" height="10.13" fill="#c3d8e9" stroke="none" stroke-width="0.8" />
<rect x="81.10" y="186.78" width="9.75" height="10.13" fill="#c8dbeb" stroke="none" stroke-width="0.8" />
<rect x="26.85" y="198.01" width="9.75" height="10.13" fill="#8cb4d6" stroke="none" stroke-width="0.8" />
<rect x="37.70" y="198.01" width="9.75" height="10.13" fill="#aac8e0" stroke="none" stroke-width="0.8" />
<rect x="48.55" y="198.01" width="9.75" height="10.13" fill="#85b0d4" stroke="none" stroke-width="0.8" />
<rect x="59.40" y="198.01" width="9.75" height="10.13" fill="#f0babb" stroke="none" stroke-width="0.8" />
<rect x="70.25" y="198.01" width="9.75" height="10.13" fill="#eeb0b1" stroke="none" stroke-width="0.8" />
<rect x="81.10" y="198.01" width="9.75" height="10.13" fill="#eeb0b1" stroke="none" stroke-width="0.8" />
<rect x="26.85" y="209.24" width="9.75" height="10.13" fill="#8cb4d6" stroke="none" stroke-width="0.8" />
<rect x="37.70" y="209.24" width="9.75" height="10.13" fill="#9abcda" stroke="none" stroke-width="0.8" />
<rect x="48.55" y="209.24" width="9.75" height="10.13" fill="#a0c0dc" stroke="none" stroke-width="0.8" />
<rect x="59.40" y="209.24" width="9.75" height="10.13" fill="#f4c8c9" stroke="none" stroke-width="0.8" />
<rect x="70.25" y="209.24" width="9.75" height="10.13" fill="#eca3a5" stroke="none" stroke-width="0.8" />
<rect x="81.10" y="209.24" width="9.75" height="10.13" fill="#f0b5b6" stroke="none" stroke-width="0.8" />
<rect x="26.85" y="220.47" width="9.75" height="10.13" fill="#8cb4d6" stroke="none" stroke-width="0.8" />
<rect x="37.70" y="220.47" width="9.75" height="10.13" fill="#9abcda" stroke="none" stroke-width="0.8" />
<rect x="48.55" y="220.47" width="9.75" height="10.13" fill="#9ebfdb" stroke="none" stroke-width="0.8" />
<rect x="59.40" y="220.47" width="9.75" height="10.13" fill="#f0b5b6" stroke="none" stroke-width="0.8" />
<rect x="70.25" y="220.47" width="9.75" height="10.13" fill="#f0b0b1" stroke="none" stroke-width="0.8" />
<rect x="81.10" y="220.47" width="9.75" height="10.13" fill="#eeaeaf" stroke="none" stroke-width="0.8" />
<rect x="26.85" y="231.70" width="9.75" height="10.13" fill="#8cb4d6" stroke="none" stroke-width="0.8" />
<rect x="37.70" y="231.70" width="9.75" height="10.13" fill="#a8c7e0" stroke="none" stroke-width="0.8" />
<rect x="48.55" y="231.70" width="9.75" height="10.13" fill="#97bbd9" stroke="none" stroke-width="0.8" />
<rect x="59.40" y="231.70" width="9.75" height="10.13" fill="#f0b5b6" stroke="none" stroke-width="0.8" />
<rect x="70.25" y="231.70" width="9.75" height="10.13" fill="#eba0a2" stroke="none" stroke-width="0.8" />
<rect x="81.10" y="231.70" width="9.75" height="10.13" fill="#f0b8b9" stroke="none" stroke-width="0.8" />
<rect x="26.85" y="242.93" width="9.75" height="10.13" fill="#8cb4d6" stroke="none" stroke-width="0.8" />
<rect x="37.70" y="242.93" width="9.75" height="10.13" fill="#c2d7e9" stroke="none" stroke-width="0.8" />
<rect x="48.55" y="242.93" width="9.75" height="10.13" fill="#92b8d8" stroke="none" stroke-width="0.8" />
<rect x="59.40" y="242.93" width="9.75" height="10.13" fill="#e07b7f" stroke="none" stroke-width="0.8" />
<rect x="70.25" y="242.93" width="9.75" height="10.13" fill="#f2c0c1" stroke="none" stroke-width="0.8" />
<rect x="81.10" y="242.93" width="9.75" height="10.13" fill="#fbe8e8" stroke="none" stroke-width="0.8" />
<rect x="26.85" y="254.16" width="9.75" height="10.13" fill="#85b0d4" stroke="none" stroke-width="0.8" />
<rect x="37.70" y="254.16" width="9.75" height="10.13" fill="#97bbd9" stroke="none" stroke-width="0.8" />
<rect x="48.55" y="254.16" width="9.75" height="10.13" fill="#b5cfe4" stroke="none" stroke-width="0.8" />
<rect x="59.40" y="254.16" width="9.75" height="10.13" fill="#e38588" stroke="none" stroke-width="0.8" />
<rect x="70.25" y="254.16" width="9.75" height="10.13" fill="#f8dadb" stroke="none" stroke-width="0.8" />
<rect x="81.10" y="254.16" width="9.75" height="10.13" fill="#f2bfc0" stroke="none" stroke-width="0.8" />
<rect x="26.30" y="167.20" width="65.10" height="5.50" fill="#9c9c9c" stroke="none" stroke-width="0.8" />
<rect x="26.80" y="167.70" width="9.85" height="4.50" fill="#3fbfc3" stroke="none" stroke-width="0.8" />
<rect x="37.65" y="167.70" width="9.85" height="4.50" fill="#3fbfc3" stroke="none" stroke-width="0.8" />
<rect x="48.50" y="167.70" width="9.85" height="4.50" fill="#3fbfc3" stroke="none" stroke-width="0.8" />
<rect x="59.35" y="167.70" width="9.85" height="4.50" fill="#f2827c" stroke="none" stroke-width="0.8" />
<rect x="70.20" y="167.70" width="9.85" height="4.50" fill="#f2827c" stroke="none" stroke-width="0.8" />
<rect x="81.05" y="167.70" width="9.85" height="4.50" fill="#f2827c" stroke="none" stroke-width="0.8" />
<path d="M42.58,167.20 V164.90 H53.42 V167.20" stroke="#111" stroke-width="0.8" fill="none" />
<path d="M31.73,167.20 V164.30 H48.00 V164.90" stroke="#111" stroke-width="0.8" fill="none" />
<path d="M75.12,167.20 V164.90 H85.97 V167.20" stroke="#111" stroke-width="0.8" fill="none" />
<path d="M64.28,167.20 V160.50 H80.55 V164.90" stroke="#111" stroke-width="0.8" fill="none" />
<path d="M39.86,164.30 V157.20 H72.41 V160.50" stroke="#111" stroke-width="0.8" fill="none" />
<path d="M25.60,180.62 H19.00 V191.84 H25.60" stroke="#111" stroke-width="0.8" fill="none" />
<path d="M25.60,225.53 H23.90 V236.76 H25.60" stroke="#111" stroke-width="0.8" fill="none" />
<path d="M25.60,214.31 H23.30 V231.15 H23.90" stroke="#111" stroke-width="0.8" fill="none" />
<path d="M25.60,203.07 H22.70 V222.73 H23.30" stroke="#111" stroke-width="0.8" fill="none" />
<path d="M25.60,248.00 H19.70 V259.23 H25.60" stroke="#111" stroke-width="0.8" fill="none" />
<path d="M22.70,212.90 H17.60 V253.61 H19.70" stroke="#111" stroke-width="0.8" fill="none" />
<path d="M19.00,186.23 H7.60 V233.26 H17.60" stroke="#111" stroke-width="0.8" fill="none" />
<text x="92.60" y="182.72" font-size="6.0" text-anchor="start" fill="#1a1a1a" color="#1a1a1a" font-weight="normal" >ACACB</text>
<text x="92.60" y="193.94" font-size="6.0" text-anchor="start" fill="#1a1a1a" color="#1a1a1a" font-weight="normal" >LPL</text>
<text x="92.60" y="205.17" font-size="6.0" text-anchor="start" fill="#1a1a1a" color="#1a1a1a" font-weight="normal" >FASN</text>
<text x="92.60" y="216.41" font-size="6.0" text-anchor="start" fill="#1a1a1a" color="#1a1a1a" font-weight="normal" >ELOVL7</text>
<text x="92.60" y="227.63" font-size="6.0" text-anchor="start" fill="#1a1a1a" color="#1a1a1a" font-weight="normal" >FADS2</text>
<text x="92.60" y="238.86" font-size="6.0" text-anchor="start" fill="#1a1a1a" color="#1a1a1a" font-weight="normal" >ACACA</text>
<text x="92.60" y="250.09" font-size="6.0" text-anchor="start" fill="#1a1a1a" color="#1a1a1a" font-weight="normal" >ACSM3</text>
<text x="92.60" y="261.33" font-size="6.0" text-anchor="start" fill="#1a1a1a" color="#1a1a1a" font-weight="normal" >ACSL3</text>
<text x="57.00" y="272.52" font-size="7.2" text-anchor="middle" fill="#1a1a1a" color="#1a1a1a" font-weight="normal" >Lipid storage</text>
<defs><linearGradient id="gE1" x1="0" y1="0" x2="0" y2="1"><stop offset="0" stop-color="#d35d64"/><stop offset="0.25" stop-color="#e9a6a8"/><stop offset="0.5" stop-color="#fcfcfc"/><stop offset="0.75" stop-color="#a9c8e1"/><stop offset="1" stop-color="#3b79b5"/></linearGradient></defs>
<rect x="122.90" y="177.30" width="4.10" height="46.10" fill="url(#gE1)" stroke="none" stroke-width="0.8" />
<text x="129.00" y="179.00" font-size="6.0" text-anchor="start" fill="#1a1a1a" color="#1a1a1a" font-weight="normal" >2</text>
<text x="129.00" y="190.40" font-size="6.0" text-anchor="start" fill="#1a1a1a" color="#1a1a1a" font-weight="normal" >1</text>
<text x="129.00" y="201.90" font-size="6.0" text-anchor="start" fill="#1a1a1a" color="#1a1a1a" font-weight="normal" >0</text>
<text x="129.00" y="213.30" font-size="6.0" text-anchor="start" fill="#1a1a1a" color="#1a1a1a" font-weight="normal" >−1</text>
<text x="129.00" y="224.70" font-size="6.0" text-anchor="start" fill="#1a1a1a" color="#1a1a1a" font-weight="normal" >−2</text>
<text transform="translate(121.60,198.70) rotate(-90)" x="0" y="0" font-size="5.8" text-anchor="middle" fill="#1a1a1a" color="#1a1a1a" font-weight="normal">Z-score</text>
<text x="136.40" y="175.30" font-size="6.2" text-anchor="start" fill="#111" color="#111" font-weight="bold" >Type</text>
<rect x="136.00" y="177.00" width="9.60" height="18.20" fill="#9c9c9c" stroke="none" stroke-width="0.8" />
<rect x="136.60" y="177.60" width="8.40" height="8.50" fill="#3fbfc3" stroke="none" stroke-width="0.8" />
<rect x="136.60" y="186.10" width="8.40" height="8.50" fill="#f2827c" stroke="none" stroke-width="0.8" />
<text x="146.60" y="184.01" font-size="6.0" text-anchor="start" fill="#1a1a1a" color="#1a1a1a" font-weight="normal" >DMSO</text>
<text x="146.60" y="192.51" font-size="6.0" text-anchor="start" fill="#1a1a1a" color="#1a1a1a" font-weight="normal" >TMZ</text>
<rect x="182.50" y="180.00" width="63.12" height="81.62" fill="#9c9c9c" stroke="none" stroke-width="0.8" />
<rect x="183.05" y="180.55" width="9.42" height="10.56" fill="#dde8f2" stroke="none" stroke-width="0.8" />
<rect x="193.57" y="180.55" width="9.42" height="10.56" fill="#e08386" stroke="none" stroke-width="0.8" />
<rect x="204.09" y="180.55" width="9.42" height="10.56" fill="#e08386" stroke="none" stroke-width="0.8" />
<rect x="214.61" y="180.55" width="9.42" height="10.56" fill="#7fadd2" stroke="none" stroke-width="0.8" />
<rect x="225.13" y="180.55" width="9.42" height="10.56" fill="#9cbedb" stroke="none" stroke-width="0.8" />
<rect x="235.65" y="180.55" width="9.42" height="10.56" fill="#b5cfe4" stroke="none" stroke-width="0.8" />
<rect x="183.05" y="192.21" width="9.42" height="10.56" fill="#e99597" stroke="none" stroke-width="0.8" />
<rect x="193.57" y="192.21" width="9.42" height="10.56" fill="#e99192" stroke="none" stroke-width="0.8" />
<rect x="204.09" y="192.21" width="9.42" height="10.56" fill="#f0b5b6" stroke="none" stroke-width="0.8" />
<rect x="214.61" y="192.21" width="9.42" height="10.56" fill="#b5cfe4" stroke="none" stroke-width="0.8" />
<rect x="225.13" y="192.21" width="9.42" height="10.56" fill="#78a8d0" stroke="none" stroke-width="0.8" />
<rect x="235.65" y="192.21" width="9.42" height="10.56" fill="#7fadd2" stroke="none" stroke-width="0.8" />
<rect x="183.05" y="203.87" width="9.42" height="10.56" fill="#5a93c6" stroke="none" stroke-width="0.8" />
<rect x="193.57" y="203.87" width="9.42" height="10.56" fill="#b3cee3" stroke="none" stroke-width="0.8" />
<rect x="204.09" y="203.87" width="9.42" height="10.56" fill="#d8e5f0" stroke="none" stroke-width="0.8" />
<rect x="214.61" y="203.87" width="9.42" height="10.56" fill="#dc6e72" stroke="none" stroke-width="0.8" />
<rect x="225.13" y="203.87" width="9.42" height="10.56" fill="#f4cfd0" stroke="none" stroke-width="0.8" />
<rect x="235.65" y="203.87" width="9.42" height="10.56" fill="#fcf8f8" stroke="none" stroke-width="0.8" />
<rect x="183.05" y="215.53" width="9.42" height="10.56" fill="#8cb4d6" stroke="none" stroke-width="0.8" />
<rect x="193.57" y="215.53" width="9.42" height="10.56" fill="#5a93c6" stroke="none" stroke-width="0.8" />
<rect x="204.09" y="215.53" width="9.42" height="10.56" fill="#fdf8f8" stroke="none" stroke-width="0.8" />
<rect x="214.61" y="215.53" width="9.42" height="10.56" fill="#f2bcbd" stroke="none" stroke-width="0.8" />
<rect x="225.13" y="215.53" width="9.42" height="10.56" fill="#e6eef5" stroke="none" stroke-width="0.8" />
<rect x="235.65" y="215.53" width="9.42" height="10.56" fill="#df7679" stroke="none" stroke-width="0.8" />
<rect x="183.05" y="227.19" width="9.42" height="10.56" fill="#8cb4d6" stroke="none" stroke-width="0.8" />
<rect x="193.57" y="227.19" width="9.42" height="10.56" fill="#7fadd2" stroke="none" stroke-width="0.8" />
<rect x="204.09" y="227.19" width="9.42" height="10.56" fill="#b3cee3" stroke="none" stroke-width="0.8" />
<rect x="214.61" y="227.19" width="9.42" height="10.56" fill="#fdfdfd" stroke="none" stroke-width="0.8" />
<rect x="225.13" y="227.19" width="9.42" height="10.56" fill="#df7174" stroke="none" stroke-width="0.8" />
<rect x="235.65" y="227.19" width="9.42" height="10.56" fill="#eea8a9" stroke="none" stroke-width="0.8" />
<rect x="183.05" y="238.85" width="9.42" height="10.56" fill="#85b0d4" stroke="none" stroke-width="0.8" />
<rect x="193.57" y="238.85" width="9.42" height="10.56" fill="#85b0d4" stroke="none" stroke-width="0.8" />
<rect x="204.09" y="238.85" width="9.42" height="10.56" fill="#b3cee3" stroke="none" stroke-width="0.8" />
<rect x="214.61" y="238.85" width="9.42" height="10.56" fill="#e99092" stroke="none" stroke-width="0.8" />
<rect x="225.13" y="238.85" width="9.42" height="10.56" fill="#eea5a6" stroke="none" stroke-width="0.8" />
<rect x="235.65" y="238.85" width="9.42" height="10.56" fill="#f2bfc0" stroke="none" stroke-width="0.8" />
<rect x="183.05" y="250.51" width="9.42" height="10.56" fill="#8cb4d6" stroke="none" stroke-width="0.8" />
<rect x="193.57" y="250.51" width="9.42" height="10.56" fill="#85b0d4" stroke="none" stroke-width="0.8" />
<rect x="204.09" y="250.51" width="9.42" height="10.56" fill="#7fadd2" stroke="none" stroke-width="0.8" />
<rect x="214.61" y="250.51" width="9.42" height="10.56" fill="#eba0a2" stroke="none" stroke-width="0.8" />
<rect x="225.13" y="250.51" width="9.42" height="10.56" fill="#eba0a2" stroke="none" stroke-width="0.8" />
<rect x="235.65" y="250.51" width="9.42" height="10.56" fill="#eca3a5" stroke="none" stroke-width="0.8" />
<rect x="182.50" y="173.20" width="63.12" height="5.20" fill="#9c9c9c" stroke="none" stroke-width="0.8" />
<rect x="183.00" y="173.70" width="9.52" height="4.20" fill="#3fbfc3" stroke="none" stroke-width="0.8" />
<rect x="193.52" y="173.70" width="9.52" height="4.20" fill="#3fbfc3" stroke="none" stroke-width="0.8" />
<rect x="204.04" y="173.70" width="9.52" height="4.20" fill="#3fbfc3" stroke="none" stroke-width="0.8" />
<rect x="214.56" y="173.70" width="9.52" height="4.20" fill="#f2827c" stroke="none" stroke-width="0.8" />
<rect x="225.08" y="173.70" width="9.52" height="4.20" fill="#f2827c" stroke="none" stroke-width="0.8" />
<rect x="235.60" y="173.70" width="9.52" height="4.20" fill="#f2827c" stroke="none" stroke-width="0.8" />
<path d="M198.28,173.20 V169.30 H208.80 V173.20" stroke="#111" stroke-width="0.8" fill="none" />
<path d="M187.76,173.20 V168.30 H203.54 V169.30" stroke="#111" stroke-width="0.8" fill="none" />
<path d="M229.84,173.20 V169.30 H240.36 V173.20" stroke="#111" stroke-width="0.8" fill="none" />
<path d="M219.32,173.20 V168.30 H235.10 V169.30" stroke="#111" stroke-width="0.8" fill="none" />
<path d="M195.65,168.30 V163.20 H227.21 V168.30" stroke="#111" stroke-width="0.8" fill="none" />
<path d="M181.80,185.83 H179.70 V197.49 H181.80" stroke="#111" stroke-width="0.8" fill="none" />
<path d="M181.80,244.13 H181.00 V255.79 H181.80" stroke="#111" stroke-width="0.8" fill="none" />
<path d="M181.80,232.47 H180.00 V249.96 H181.00" stroke="#111" stroke-width="0.8" fill="none" />
<path d="M181.80,220.81 H179.00 V241.22 H180.00" stroke="#111" stroke-width="0.8" fill="none" />
<path d="M181.80,209.15 H177.50 V231.01 H179.00" stroke="#111" stroke-width="0.8" fill="none" />
<path d="M179.70,191.66 H172.50 V220.08 H177.50" stroke="#111" stroke-width="0.8" fill="none" />
<text x="247.80" y="187.93" font-size="6.0" text-anchor="start" fill="#1a1a1a" color="#1a1a1a" font-weight="normal" >ACOX1</text>
<text x="247.80" y="199.59" font-size="6.0" text-anchor="start" fill="#1a1a1a" color="#1a1a1a" font-weight="normal" >ECH1</text>
<text x="247.80" y="211.25" font-size="6.0" text-anchor="start" fill="#1a1a1a" color="#1a1a1a" font-weight="normal" >CPT1B</text>
<text x="247.80" y="222.91" font-size="6.0" text-anchor="start" fill="#1a1a1a" color="#1a1a1a" font-weight="normal" >ACADL</text>
<text x="247.80" y="234.57" font-size="6.0" text-anchor="start" fill="#1a1a1a" color="#1a1a1a" font-weight="normal" >ACOX3</text>
<text x="247.80" y="246.23" font-size="6.0" text-anchor="start" fill="#1a1a1a" color="#1a1a1a" font-weight="normal" >EHHADH</text>
<text x="247.80" y="257.89" font-size="6.0" text-anchor="start" fill="#1a1a1a" color="#1a1a1a" font-weight="normal" >ACAA1</text>
<text x="211.00" y="271.49" font-size="7.1" text-anchor="middle" fill="#1a1a1a" color="#1a1a1a" font-weight="normal" >Lipid utilization</text>
<defs><linearGradient id="gE2" x1="0" y1="0" x2="0" y2="1"><stop offset="0" stop-color="#d35d64"/><stop offset="0.25" stop-color="#e9a6a8"/><stop offset="0.5" stop-color="#fcfcfc"/><stop offset="0.75" stop-color="#a9c8e1"/><stop offset="1" stop-color="#3b79b5"/></linearGradient></defs>
<rect x="278.10" y="181.80" width="3.50" height="46.60" fill="url(#gE2)" stroke="none" stroke-width="0.8" />
<text x="282.80" y="185.90" font-size="6.0" text-anchor="start" fill="#1a1a1a" color="#1a1a1a" font-weight="normal" >1.5</text>
<text x="282.80" y="192.70" font-size="6.0" text-anchor="start" fill="#1a1a1a" color="#1a1a1a" font-weight="normal" >1</text>
<text x="282.80" y="199.60" font-size="6.0" text-anchor="start" fill="#1a1a1a" color="#1a1a1a" font-weight="normal" >0.5</text>
<text x="282.80" y="206.70" font-size="6.0" text-anchor="start" fill="#1a1a1a" color="#1a1a1a" font-weight="normal" >0</text>
<text x="282.80" y="213.50" font-size="6.0" text-anchor="start" fill="#1a1a1a" color="#1a1a1a" font-weight="normal" >−0.5</text>
<text x="282.80" y="220.70" font-size="6.0" text-anchor="start" fill="#1a1a1a" color="#1a1a1a" font-weight="normal" >−1</text>
<text x="282.80" y="227.60" font-size="6.0" text-anchor="start" fill="#1a1a1a" color="#1a1a1a" font-weight="normal" >−1.5</text>
<text transform="translate(275.60,201.50) rotate(-90)" x="0" y="0" font-size="5.8" text-anchor="middle" fill="#1a1a1a" color="#1a1a1a" font-weight="normal">Z-score</text>
<text x="299.30" y="183.80" font-size="5.8" text-anchor="start" fill="#111" color="#111" font-weight="bold" >Type</text>
<rect x="298.80" y="185.80" width="9.20" height="17.00" fill="#9c9c9c" stroke="none" stroke-width="0.8" />
<rect x="299.40" y="186.40" width="8.00" height="7.90" fill="#3fbfc3" stroke="none" stroke-width="0.8" />
<rect x="299.40" y="194.30" width="8.00" height="7.90" fill="#f2827c" stroke="none" stroke-width="0.8" />
<text x="308.70" y="192.51" font-size="6.0" text-anchor="start" fill="#1a1a1a" color="#1a1a1a" font-weight="normal" >DMSO</text>
<text x="308.70" y="200.41" font-size="6.0" text-anchor="start" fill="#1a1a1a" color="#1a1a1a" font-weight="normal" >TMZ</text>
<text x="319.20" y="160.30" font-size="10" text-anchor="start" fill="#111" color="#111" font-weight="bold" >F</text>
<text x="380.90" y="160.75" font-size="7.0" text-anchor="middle" fill="#1a1a1a" color="#1a1a1a" font-weight="normal" >Oil Red</text>
<text transform="translate(349.20,188.80) rotate(-90)" x="0" y="0" font-size="6.6" text-anchor="middle" fill="#1a1a1a" color="#1a1a1a" font-weight="normal">DMSO</text>
<text transform="translate(349.10,237.50) rotate(-90)" x="0" y="0" font-size="6.6" text-anchor="middle" fill="#1a1a1a" color="#1a1a1a" font-weight="normal">TMZ</text>
<defs><filter id="bl1" x="-20%" y="-20%" width="140%" height="140%"><feGaussianBlur stdDeviation="0.65"/></filter><filter id="bl2" x="-20%" y="-20%" width="140%" height="140%"><feGaussianBlur stdDeviation="0.55"/></filter><clipPath id="cpD"><rect x="351.6" y="162.9" width="66.4" height="47.6"/></clipPath><clipPath id="cpT"><rect x="351.1" y="213.0" width="65.8" height="48.0"/></clipPath></defs>
<rect x="351.60" y="162.90" width="66.40" height="47.60" fill="#ebe9ef" stroke="none" stroke-width="0.8" />
<g clip-path="url(#cpD)"><g filter="url(#bl1)"><ellipse cx="362.5" cy="170.3" rx="4.5" ry="2.4" transform="rotate(20 362.5 170.3)" fill="#d0cbe8" opacity="0.3"/><ellipse cx="365.5" cy="171.8" rx="3.5" ry="2.0" transform="rotate(0 365.5 171.8)" fill="#d0cbe8" opacity="0.3"/><ellipse cx="364.5" cy="175.5" rx="3.1" ry="2.1" transform="rotate(60 364.5 175.5)" fill="#d0cbe8" opacity="0.3"/><ellipse cx="366.5" cy="178.2" rx="2.8" ry="2.0" transform="rotate(40 366.5 178.2)" fill="#d0cbe8" opacity="0.3"/><ellipse cx="371.0" cy="177.8" rx="4.2" ry="3.3" transform="rotate(0 371.0 177.8)" fill="#d0cbe8" opacity="0.3"/><ellipse cx="373.6" cy="177.5" rx="3.5" ry="2.9" transform="rotate(0 373.6 177.5)" fill="#d0cbe8" opacity="0.3"/><ellipse cx="376.0" cy="170.6" rx="3.6" ry="2.1" transform="rotate(-20 376.0 170.6)" fill="#d0cbe8" opacity="0.3"/><ellipse cx="380.0" cy="166.6" rx="3.6" ry="2.1" transform="rotate(-30 380.0 166.6)" fill="#d0cbe8" opacity="0.3"/><ellipse cx="382.6" cy="168.8" rx="3.1" ry="2.1" transform="rotate(0 382.6 168.8)" fill="#d0cbe8" opacity="0.3"/><ellipse cx="379.3" cy="175.2" rx="3.4" ry="2.4" transform="rotate(30 379.3 175.2)" fill="#d0cbe8" opacity="0.3"/><ellipse cx="362.8" cy="186.3" rx="3.5" ry="2.4" transform="rotate(0 362.8 186.3)" fill="#d0cbe8" opacity="0.3"/><ellipse cx="367.4" cy="186.3" rx="3.9" ry="2.7" transform="rotate(0 367.4 186.3)" fill="#d0cbe8" opacity="0.3"/><ellipse cx="377.3" cy="183.7" rx="3.6" ry="2.7" transform="rotate(0 377.3 183.7)" fill="#d0cbe8" opacity="0.3"/><ellipse cx="379.3" cy="185.3" rx="3.4" ry="2.4" transform="rotate(0 379.3 185.3)" fill="#d0cbe8" opacity="0.3"/><ellipse cx="358.5" cy="182.5" rx="2.8" ry="1.6" transform="rotate(60 358.5 182.5)" fill="#d0cbe8" opacity="0.3"/><ellipse cx="389.2" cy="167.9" rx="5.0" ry="1.6" transform="rotate(55 389.2 167.9)" fill="#d0cbe8" opacity="0.3"/><ellipse cx="396.5" cy="166.0" rx="3.6" ry="2.4" transform="rotate(-20 396.5 166.0)" fill="#d0cbe8" opacity="0.3"/><ellipse cx="398.5" cy="171.5" rx="4.9" ry="1.9" transform="rotate(30 398.5 171.5)" fill="#d0cbe8" opacity="0.3"/><ellipse cx="395.2" cy="175.8" rx="4.2" ry="3.7" transform="rotate(0 395.2 175.8)" fill="#d0cbe8" opacity="0.3"/><ellipse cx="393.5" cy="174.0" rx="2.8" ry="2.4" transform="rotate(0 393.5 174.0)" fill="#d0cbe8" opacity="0.3"/><ellipse cx="389.9" cy="180.4" rx="3.4" ry="2.7" transform="rotate(0 389.9 180.4)" fill="#d0cbe8" opacity="0.3"/><ellipse cx="385.3" cy="168.6" rx="2.8" ry="2.1" transform="rotate(0 385.3 168.6)" fill="#d0cbe8" opacity="0.3"/><ellipse cx="385.3" cy="177.8" rx="2.8" ry="2.4" transform="rotate(0 385.3 177.8)" fill="#d0cbe8" opacity="0.3"/><ellipse cx="404.4" cy="180.1" rx="4.5" ry="1.9" transform="rotate(20 404.4 180.1)" fill="#d0cbe8" opacity="0.3"/><ellipse cx="406.4" cy="185.0" rx="4.8" ry="2.4" transform="rotate(-10 406.4 185.0)" fill="#d0cbe8" opacity="0.3"/><ellipse cx="394.5" cy="184.4" rx="3.4" ry="2.4" transform="rotate(0 394.5 184.4)" fill="#d0cbe8" opacity="0.3"/><ellipse cx="400.0" cy="164.2" rx="2.8" ry="1.3" transform="rotate(-40 400.0 164.2)" fill="#d0cbe8" opacity="0.3"/><ellipse cx="362.2" cy="188.3" rx="3.6" ry="2.7" transform="rotate(0 362.2 188.3)" fill="#d0cbe8" opacity="0.3"/><ellipse cx="367.4" cy="187.5" rx="3.6" ry="2.7" transform="rotate(0 367.4 187.5)" fill="#d0cbe8" opacity="0.3"/><ellipse cx="375.3" cy="190.0" rx="5.9" ry="5.1" transform="rotate(0 375.3 190.0)" fill="#d0cbe8" opacity="0.3"/><ellipse cx="366.1" cy="193.9" rx="4.2" ry="3.2" transform="rotate(0 366.1 193.9)" fill="#d0cbe8" opacity="0.3"/><ellipse cx="370.7" cy="194.6" rx="3.6" ry="3.2" transform="rotate(0 370.7 194.6)" fill="#d0cbe8" opacity="0.3"/><ellipse cx="373.4" cy="196.5" rx="3.4" ry="2.7" transform="rotate(0 373.4 196.5)" fill="#d0cbe8" opacity="0.3"/><ellipse cx="358.2" cy="196.5" rx="3.4" ry="2.4" transform="rotate(-20 358.2 196.5)" fill="#d0cbe8" opacity="0.3"/><ellipse cx="366.8" cy="197.8" rx="3.4" ry="2.7" transform="rotate(0 366.8 197.8)" fill="#d0cbe8" opacity="0.3"/><ellipse cx="378.0" cy="201.1" rx="4.8" ry="5.3" transform="rotate(0 378.0 201.1)" fill="#d0cbe8" opacity="0.3"/><ellipse cx="382.6" cy="207.7" rx="3.6" ry="2.7" transform="rotate(0 382.6 207.7)" fill="#d0cbe8" opacity="0.3"/><ellipse cx="352.5" cy="190.0" rx="1.4" ry="2.7" transform="rotate(0 352.5 190.0)" fill="#d0cbe8" opacity="0.3"/><ellipse cx="355.5" cy="199.5" rx="3.6" ry="1.1" transform="rotate(-40 355.5 199.5)" fill="#d0cbe8" opacity="0.3"/><ellipse cx="360.6" cy="196.8" rx="2.5" ry="2.0" transform="rotate(0 360.6 196.8)" fill="#d0cbe8" opacity="0.3"/><ellipse cx="391.2" cy="193.2" rx="5.0" ry="3.7" transform="rotate(0 391.2 193.2)" fill="#d0cbe8" opacity="0.3"/><ellipse cx="397.8" cy="190.6" rx="2.8" ry="2.7" transform="rotate(0 397.8 190.6)" fill="#d0cbe8" opacity="0.3"/><ellipse cx="402.0" cy="193.0" rx="4.9" ry="2.1" transform="rotate(15 402.0 193.0)" fill="#d0cbe8" opacity="0.3"/><ellipse cx="407.5" cy="195.0" rx="3.5" ry="1.2" transform="rotate(20 407.5 195.0)" fill="#d0cbe8" opacity="0.3"/><ellipse cx="414.3" cy="190.6" rx="3.6" ry="2.9" transform="rotate(0 414.3 190.6)" fill="#d0cbe8" opacity="0.3"/><ellipse cx="393.9" cy="201.8" rx="3.6" ry="4.5" transform="rotate(0 393.9 201.8)" fill="#d0cbe8" opacity="0.3"/><ellipse cx="388.0" cy="199.2" rx="3.1" ry="2.1" transform="rotate(-30 388.0 199.2)" fill="#d0cbe8" opacity="0.3"/><ellipse cx="387.3" cy="205.7" rx="5.0" ry="3.7" transform="rotate(0 387.3 205.7)" fill="#d0cbe8" opacity="0.3"/><ellipse cx="399.1" cy="208.4" rx="3.1" ry="2.1" transform="rotate(0 399.1 208.4)" fill="#d0cbe8" opacity="0.3"/><ellipse cx="405.7" cy="186.7" rx="3.4" ry="1.9" transform="rotate(0 405.7 186.7)" fill="#d0cbe8" opacity="0.3"/><ellipse cx="384.5" cy="188.0" rx="2.1" ry="3.3" transform="rotate(0 384.5 188.0)" fill="#d0cbe8" opacity="0.3"/><ellipse cx="384.5" cy="195.0" rx="2.0" ry="2.7" transform="rotate(0 384.5 195.0)" fill="#d0cbe8" opacity="0.3"/><ellipse cx="392.0" cy="207.5" rx="3.4" ry="2.1" transform="rotate(0 392.0 207.5)" fill="#d0cbe8" opacity="0.3"/><ellipse cx="363.9" cy="170.1" rx="2.0" ry="1.5" transform="rotate(-12 362.5 170.3)" fill="#c2bce3" opacity="0.85"/><ellipse cx="363.8" cy="169.8" rx="2.0" ry="1.3" transform="rotate(-1 362.5 170.3)" fill="#b9b2de" opacity="0.85"/><ellipse cx="361.1" cy="170.4" rx="2.8" ry="1.4" transform="rotate(27 362.5 170.3)" fill="#a59dd3" opacity="0.85"/><ellipse cx="362.0" cy="170.4" rx="1.9" ry="1.1" transform="rotate(20 362.5 170.3)" fill="#9189c8" opacity="0.5"/><ellipse cx="366.7" cy="171.1" rx="2.1" ry="1.0" transform="rotate(-28 365.5 171.8)" fill="#b9b2de" opacity="0.85"/><ellipse cx="365.7" cy="171.9" rx="2.0" ry="0.9" transform="rotate(6 365.5 171.8)" fill="#b9b2de" opacity="0.85"/><ellipse cx="365.2" cy="171.9" rx="1.5" ry="0.9" transform="rotate(-24 365.5 171.8)" fill="#ada6d8" opacity="0.85"/><ellipse cx="365.7" cy="171.7" rx="1.5" ry="0.9" transform="rotate(0 365.5 171.8)" fill="#9189c8" opacity="0.5"/><ellipse cx="364.4" cy="176.2" rx="1.6" ry="1.1" transform="rotate(34 364.5 175.5)" fill="#c2bce3" opacity="0.85"/><ellipse cx="363.6" cy="175.2" rx="1.6" ry="1.1" transform="rotate(56 364.5 175.5)" fill="#ada6d8" opacity="0.85"/><ellipse cx="363.7" cy="175.4" rx="1.8" ry="1.0" transform="rotate(59 364.5 175.5)" fill="#b9b2de" opacity="0.85"/><ellipse cx="363.9" cy="175.7" rx="1.3" ry="1.0" transform="rotate(60 364.5 175.5)" fill="#9189c8" opacity="0.5"/><ellipse cx="366.2" cy="178.0" rx="1.5" ry="1.3" transform="rotate(6 366.5 178.2)" fill="#c2bce3" opacity="0.85"/><ellipse cx="367.4" cy="178.2" rx="1.6" ry="0.9" transform="rotate(56 366.5 178.2)" fill="#b9b2de" opacity="0.85"/><ellipse cx="366.1" cy="178.0" rx="1.6" ry="0.9" transform="rotate(37 366.5 178.2)" fill="#a59dd3" opacity="0.85"/><ellipse cx="366.1" cy="177.7" rx="1.2" ry="0.9" transform="rotate(40 366.5 178.2)" fill="#9189c8" opacity="0.5"/><ellipse cx="370.2" cy="177.3" rx="2.5" ry="1.8" transform="rotate(33 371.0 177.8)" fill="#b9b2de" opacity="0.85"/><ellipse cx="369.7" cy="177.7" rx="2.3" ry="2.2" transform="rotate(26 371.0 177.8)" fill="#a59dd3" opacity="0.85"/><ellipse cx="371.6" cy="179.0" rx="2.4" ry="1.8" transform="rotate(-22 371.0 177.8)" fill="#c2bce3" opacity="0.85"/><ellipse cx="370.5" cy="177.4" rx="1.8" ry="1.5" transform="rotate(0 371.0 177.8)" fill="#9189c8" opacity="0.5"/><ellipse cx="372.4" cy="178.2" rx="1.6" ry="1.5" transform="rotate(-28 373.6 177.5)" fill="#ada6d8" opacity="0.85"/><ellipse cx="373.9" cy="177.1" rx="1.6" ry="1.9" transform="rotate(36 373.6 177.5)" fill="#c2bce3" opacity="0.85"/><ellipse cx="373.5" cy="178.3" rx="2.2" ry="1.8" transform="rotate(5 373.6 177.5)" fill="#b9b2de" opacity="0.85"/><ellipse cx="373.5" cy="177.4" rx="1.5" ry="1.3" transform="rotate(0 373.6 177.5)" fill="#9189c8" opacity="0.5"/><ellipse cx="376.3" cy="169.9" rx="1.6" ry="1.1" transform="rotate(-47 376.0 170.6)" fill="#a59dd3" opacity="0.85"/><ellipse cx="376.3" cy="170.0" rx="2.0" ry="1.2" transform="rotate(16 376.0 170.6)" fill="#c2bce3" opacity="0.85"/><ellipse cx="374.9" cy="170.1" rx="1.9" ry="1.3" transform="rotate(16 376.0 170.6)" fill="#b9b2de" opacity="0.85"/><ellipse cx="376.1" cy="170.6" rx="1.6" ry="1.0" transform="rotate(-20 376.0 170.6)" fill="#9189c8" opacity="0.5"/><ellipse cx="380.9" cy="167.4" rx="1.9" ry="1.2" transform="rotate(-63 380.0 166.6)" fill="#b9b2de" opacity="0.85"/><ellipse cx="380.6" cy="167.0" rx="1.9" ry="1.3" transform="rotate(-29 380.0 166.6)" fill="#b9b2de" opacity="0.85"/><ellipse cx="381.2" cy="166.6" rx="1.7" ry="1.2" transform="rotate(-68 380.0 166.6)" fill="#ada6d8" opacity="0.85"/><ellipse cx="380.0" cy="167.2" rx="1.6" ry="1.0" transform="rotate(-30 380.0 166.6)" fill="#9189c8" opacity="0.5"/><ellipse cx="383.0" cy="168.4" rx="1.6" ry="1.0" transform="rotate(22 382.6 168.8)" fill="#b9b2de" opacity="0.85"/><ellipse cx="382.9" cy="169.0" rx="1.8" ry="1.3" transform="rotate(-24 382.6 168.8)" fill="#c2bce3" opacity="0.85"/><ellipse cx="383.3" cy="169.2" rx="1.5" ry="1.2" transform="rotate(-12 382.6 168.8)" fill="#ada6d8" opacity="0.85"/><ellipse cx="382.0" cy="168.2" rx="1.3" ry="1.0" transform="rotate(0 382.6 168.8)" fill="#9189c8" opacity="0.5"/><ellipse cx="379.2" cy="174.6" rx="1.9" ry="1.3" transform="rotate(55 379.3 175.2)" fill="#c2bce3" opacity="0.85"/><ellipse cx="380.4" cy="175.0" rx="1.6" ry="1.2" transform="rotate(6 379.3 175.2)" fill="#c2bce3" opacity="0.85"/><ellipse cx="379.3" cy="176.1" rx="1.9" ry="1.1" transform="rotate(63 379.3 175.2)" fill="#ada6d8" opacity="0.85"/><ellipse cx="379.1" cy="175.4" rx="1.4" ry="1.1" transform="rotate(30 379.3 175.2)" fill="#9189c8" opacity="0.5"/><ellipse cx="363.8" cy="186.8" rx="2.1" ry="1.3" transform="rotate(-26 362.8 186.3)" fill="#b9b2de" opacity="0.85"/><ellipse cx="361.8" cy="187.1" rx="2.0" ry="1.3" transform="rotate(19 362.8 186.3)" fill="#c2bce3" opacity="0.85"/><ellipse cx="363.4" cy="185.7" rx="1.6" ry="1.2" transform="rotate(32 362.8 186.3)" fill="#b9b2de" opacity="0.85"/><ellipse cx="363.2" cy="185.9" rx="1.5" ry="1.1" transform="rotate(0 362.8 186.3)" fill="#9189c8" opacity="0.5"/><ellipse cx="367.8" cy="186.0" rx="2.1" ry="1.3" transform="rotate(-39 367.4 186.3)" fill="#a59dd3" opacity="0.85"/><ellipse cx="367.5" cy="187.2" rx="2.0" ry="1.7" transform="rotate(26 367.4 186.3)" fill="#b9b2de" opacity="0.85"/><ellipse cx="366.1" cy="185.7" rx="2.1" ry="1.7" transform="rotate(-14 367.4 186.3)" fill="#ada6d8" opacity="0.85"/><ellipse cx="367.5" cy="186.7" rx="1.7" ry="1.2" transform="rotate(0 367.4 186.3)" fill="#9189c8" opacity="0.5"/><ellipse cx="378.4" cy="183.4" rx="1.9" ry="1.6" transform="rotate(32 377.3 183.7)" fill="#b9b2de" opacity="0.85"/><ellipse cx="378.2" cy="184.5" rx="1.7" ry="1.3" transform="rotate(1 377.3 183.7)" fill="#a59dd3" opacity="0.85"/><ellipse cx="378.0" cy="183.9" rx="2.2" ry="1.3" transform="rotate(-29 377.3 183.7)" fill="#a59dd3" opacity="0.85"/><ellipse cx="377.4" cy="183.2" rx="1.6" ry="1.2" transform="rotate(0 377.3 183.7)" fill="#9189c8" opacity="0.5"/><ellipse cx="378.9" cy="185.3" rx="1.8" ry="1.5" transform="rotate(-32 379.3 185.3)" fill="#b9b2de" opacity="0.85"/><ellipse cx="378.7" cy="184.9" rx="2.0" ry="1.4" transform="rotate(5 379.3 185.3)" fill="#b9b2de" opacity="0.85"/><ellipse cx="379.2" cy="185.5" rx="1.8" ry="1.4" transform="rotate(15 379.3 185.3)" fill="#b9b2de" opacity="0.85"/><ellipse cx="379.2" cy="185.3" rx="1.4" ry="1.1" transform="rotate(0 379.3 185.3)" fill="#9189c8" opacity="0.5"/><ellipse cx="358.5" cy="182.2" rx="1.5" ry="1.0" transform="rotate(94 358.5 182.5)" fill="#a59dd3" opacity="0.85"/><ellipse cx="359.2" cy="182.1" rx="1.3" ry="0.9" transform="rotate(26 358.5 182.5)" fill="#ada6d8" opacity="0.85"/><ellipse cx="358.4" cy="182.2" rx="1.4" ry="0.8" transform="rotate(82 358.5 182.5)" fill="#ada6d8" opacity="0.85"/><ellipse cx="359.0" cy="182.7" rx="1.2" ry="0.7" transform="rotate(60 358.5 182.5)" fill="#9189c8" opacity="0.5"/><ellipse cx="387.9" cy="168.4" rx="3.2" ry="0.8" transform="rotate(91 389.2 167.9)" fill="#c2bce3" opacity="0.85"/><ellipse cx="390.6" cy="167.5" rx="2.9" ry="0.8" transform="rotate(72 389.2 167.9)" fill="#a59dd3" opacity="0.85"/><ellipse cx="388.6" cy="167.5" rx="2.5" ry="1.0" transform="rotate(17 389.2 167.9)" fill="#a59dd3" opacity="0.85"/><ellipse cx="389.3" cy="167.8" rx="2.2" ry="0.7" transform="rotate(55 389.2 167.9)" fill="#9189c8" opacity="0.5"/><ellipse cx="396.2" cy="166.0" rx="1.8" ry="1.6" transform="rotate(-51 396.5 166.0)" fill="#b9b2de" opacity="0.85"/><ellipse cx="397.7" cy="165.3" rx="1.8" ry="1.1" transform="rotate(2 396.5 166.0)" fill="#ada6d8" opacity="0.85"/><ellipse cx="397.2" cy="166.6" rx="2.2" ry="1.4" transform="rotate(16 396.5 166.0)" fill="#c2bce3" opacity="0.85"/><ellipse cx="396.4" cy="166.0" rx="1.6" ry="1.1" transform="rotate(-20 396.5 166.0)" fill="#9189c8" opacity="0.5"/><ellipse cx="399.2" cy="170.9" rx="2.2" ry="1.1" transform="rotate(24 398.5 171.5)" fill="#a59dd3" opacity="0.85"/><ellipse cx="397.7" cy="170.8" rx="2.2" ry="0.9" transform="rotate(39 398.5 171.5)" fill="#b9b2de" opacity="0.85"/><ellipse cx="397.0" cy="172.0" rx="2.6" ry="1.0" transform="rotate(34 398.5 171.5)" fill="#ada6d8" opacity="0.85"/><ellipse cx="399.0" cy="171.2" rx="2.1" ry="0.8" transform="rotate(30 398.5 171.5)" fill="#9189c8" opacity="0.5"/><ellipse cx="393.8" cy="176.4" rx="2.6" ry="2.5" transform="rotate(-19 395.2 175.8)" fill="#ada6d8" opacity="0.85"/><ellipse cx="394.3" cy="175.3" rx="2.1" ry="2.3" transform="rotate(-17 395.2 175.8)" fill="#ada6d8" opacity="0.85"/><ellipse cx="394.5" cy="176.7" rx="2.7" ry="1.7" transform="rotate(-39 395.2 175.8)" fill="#ada6d8" opacity="0.85"/><ellipse cx="395.2" cy="176.4" rx="1.8" ry="1.7" transform="rotate(0 395.2 175.8)" fill="#9189c8" opacity="0.5"/><ellipse cx="393.0" cy="173.9" rx="1.6" ry="1.4" transform="rotate(13 393.5 174.0)" fill="#a59dd3" opacity="0.85"/><ellipse cx="394.4" cy="173.7" rx="1.3" ry="1.2" transform="rotate(-24 393.5 174.0)" fill="#a59dd3" opacity="0.85"/><ellipse cx="393.3" cy="173.7" rx="1.2" ry="1.2" transform="rotate(-34 393.5 174.0)" fill="#ada6d8" opacity="0.85"/><ellipse cx="393.8" cy="173.7" rx="1.2" ry="1.1" transform="rotate(0 393.5 174.0)" fill="#9189c8" opacity="0.5"/><ellipse cx="388.8" cy="180.7" rx="1.7" ry="1.5" transform="rotate(38 389.9 180.4)" fill="#ada6d8" opacity="0.85"/><ellipse cx="390.4" cy="179.5" rx="1.6" ry="1.4" transform="rotate(-40 389.9 180.4)" fill="#ada6d8" opacity="0.85"/><ellipse cx="391.0" cy="181.3" rx="1.8" ry="1.3" transform="rotate(37 389.9 180.4)" fill="#c2bce3" opacity="0.85"/><ellipse cx="389.7" cy="180.2" rx="1.4" ry="1.2" transform="rotate(0 389.9 180.4)" fill="#9189c8" opacity="0.5"/><ellipse cx="385.0" cy="167.9" rx="1.4" ry="1.3" transform="rotate(-20 385.3 168.6)" fill="#b9b2de" opacity="0.85"/><ellipse cx="384.5" cy="169.1" rx="1.3" ry="1.2" transform="rotate(-8 385.3 168.6)" fill="#b9b2de" opacity="0.85"/><ellipse cx="384.9" cy="168.2" rx="1.6" ry="1.2" transform="rotate(20 385.3 168.6)" fill="#c2bce3" opacity="0.85"/><ellipse cx="385.5" cy="168.9" rx="1.2" ry="1.0" transform="rotate(0 385.3 168.6)" fill="#9189c8" opacity="0.5"/><ellipse cx="385.8" cy="178.2" rx="1.5" ry="1.2" transform="rotate(9 385.3 177.8)" fill="#a59dd3" opacity="0.85"/><ellipse cx="384.4" cy="178.4" rx="1.7" ry="1.4" transform="rotate(19 385.3 177.8)" fill="#ada6d8" opacity="0.85"/><ellipse cx="386.1" cy="178.3" rx="1.5" ry="1.5" transform="rotate(-39 385.3 177.8)" fill="#ada6d8" opacity="0.85"/><ellipse cx="385.5" cy="178.2" rx="1.2" ry="1.1" transform="rotate(0 385.3 177.8)" fill="#9189c8" opacity="0.5"/><ellipse cx="403.1" cy="179.5" rx="2.5" ry="1.2" transform="rotate(10 404.4 180.1)" fill="#ada6d8" opacity="0.85"/><ellipse cx="404.6" cy="180.3" rx="2.5" ry="1.1" transform="rotate(19 404.4 180.1)" fill="#a59dd3" opacity="0.85"/><ellipse cx="404.3" cy="179.5" rx="2.8" ry="1.2" transform="rotate(-13 404.4 180.1)" fill="#b9b2de" opacity="0.85"/><ellipse cx="404.4" cy="180.4" rx="1.9" ry="0.8" transform="rotate(20 404.4 180.1)" fill="#9189c8" opacity="0.5"/><ellipse cx="405.6" cy="184.2" rx="2.3" ry="1.5" transform="rotate(-34 406.4 185.0)" fill="#a59dd3" opacity="0.85"/><ellipse cx="406.4" cy="184.8" rx="2.5" ry="1.4" transform="rotate(11 406.4 185.0)" fill="#a59dd3" opacity="0.85"/><ellipse cx="405.0" cy="184.4" rx="2.3" ry="1.5" transform="rotate(-26 406.4 185.0)" fill="#ada6d8" opacity="0.85"/><ellipse cx="406.5" cy="184.4" rx="2.0" ry="1.1" transform="rotate(-10 406.4 185.0)" fill="#9189c8" opacity="0.5"/><ellipse cx="394.5" cy="185.3" rx="1.5" ry="1.2" transform="rotate(-1 394.5 184.4)" fill="#b9b2de" opacity="0.85"/><ellipse cx="394.4" cy="184.3" rx="1.5" ry="1.6" transform="rotate(-24 394.5 184.4)" fill="#c2bce3" opacity="0.85"/><ellipse cx="395.5" cy="183.5" rx="1.8" ry="1.5" transform="rotate(37 394.5 184.4)" fill="#b9b2de" opacity="0.85"/><ellipse cx="394.4" cy="184.1" rx="1.4" ry="1.1" transform="rotate(0 394.5 184.4)" fill="#9189c8" opacity="0.5"/><ellipse cx="400.8" cy="164.6" rx="1.2" ry="0.6" transform="rotate(-20 400.0 164.2)" fill="#ada6d8" opacity="0.85"/><ellipse cx="400.9" cy="163.8" rx="1.7" ry="0.8" transform="rotate(-9 400.0 164.2)" fill="#c2bce3" opacity="0.85"/><ellipse cx="399.5" cy="164.6" rx="1.5" ry="0.6" transform="rotate(-80 400.0 164.2)" fill="#c2bce3" opacity="0.85"/><ellipse cx="400.0" cy="164.1" rx="1.2" ry="0.6" transform="rotate(-40 400.0 164.2)" fill="#9189c8" opacity="0.5"/><ellipse cx="362.8" cy="188.1" rx="1.9" ry="1.3" transform="rotate(-13 362.2 188.3)" fill="#c2bce3" opacity="0.85"/><ellipse cx="362.9" cy="189.0" rx="1.7" ry="1.8" transform="rotate(17 362.2 188.3)" fill="#c2bce3" opacity="0.85"/><ellipse cx="361.6" cy="187.4" rx="1.9" ry="1.7" transform="rotate(-34 362.2 188.3)" fill="#c2bce3" opacity="0.85"/><ellipse cx="362.7" cy="188.6" rx="1.6" ry="1.2" transform="rotate(0 362.2 188.3)" fill="#9189c8" opacity="0.5"/><ellipse cx="366.8" cy="186.6" rx="2.1" ry="1.6" transform="rotate(-28 367.4 187.5)" fill="#b9b2de" opacity="0.85"/><ellipse cx="367.2" cy="187.1" rx="2.2" ry="1.7" transform="rotate(-6 367.4 187.5)" fill="#c2bce3" opacity="0.85"/><ellipse cx="368.2" cy="187.8" rx="2.3" ry="1.8" transform="rotate(4 367.4 187.5)" fill="#b9b2de" opacity="0.85"/><ellipse cx="367.7" cy="187.0" rx="1.6" ry="1.2" transform="rotate(0 367.4 187.5)" fill="#9189c8" opacity="0.5"/><ellipse cx="375.1" cy="191.0" rx="3.3" ry="2.6" transform="rotate(-36 375.3 190.0)" fill="#a59dd3" opacity="0.85"/><ellipse cx="373.9" cy="189.7" rx="2.9" ry="2.6" transform="rotate(19 375.3 190.0)" fill="#ada6d8" opacity="0.85"/><ellipse cx="374.9" cy="189.0" rx="3.1" ry="3.0" transform="rotate(-30 375.3 190.0)" fill="#c2bce3" opacity="0.85"/><ellipse cx="375.5" cy="189.5" rx="2.5" ry="2.3" transform="rotate(0 375.3 190.0)" fill="#9189c8" opacity="0.5"/><ellipse cx="366.3" cy="193.8" rx="2.1" ry="2.0" transform="rotate(-6 366.1 193.9)" fill="#a59dd3" opacity="0.85"/><ellipse cx="365.3" cy="193.1" rx="2.3" ry="1.7" transform="rotate(-11 366.1 193.9)" fill="#ada6d8" opacity="0.85"/><ellipse cx="367.3" cy="194.5" rx="2.2" ry="1.7" transform="rotate(2 366.1 193.9)" fill="#ada6d8" opacity="0.85"/><ellipse cx="366.0" cy="193.7" rx="1.8" ry="1.4" transform="rotate(0 366.1 193.9)" fill="#9189c8" opacity="0.5"/><ellipse cx="370.7" cy="194.8" rx="1.8" ry="1.9" transform="rotate(2 370.7 194.6)" fill="#b9b2de" opacity="0.85"/><ellipse cx="369.6" cy="195.6" rx="1.9" ry="1.9" transform="rotate(-5 370.7 194.6)" fill="#ada6d8" opacity="0.85"/><ellipse cx="371.6" cy="195.5" rx="1.6" ry="1.5" transform="rotate(17 370.7 194.6)" fill="#c2bce3" opacity="0.85"/><ellipse cx="371.2" cy="194.6" rx="1.6" ry="1.4" transform="rotate(0 370.7 194.6)" fill="#9189c8" opacity="0.5"/><ellipse cx="372.2" cy="196.3" rx="2.1" ry="1.7" transform="rotate(28 373.4 196.5)" fill="#a59dd3" opacity="0.85"/><ellipse cx="372.8" cy="195.7" rx="1.6" ry="1.5" transform="rotate(15 373.4 196.5)" fill="#a59dd3" opacity="0.85"/><ellipse cx="372.4" cy="197.1" rx="1.4" ry="1.3" transform="rotate(6 373.4 196.5)" fill="#a59dd3" opacity="0.85"/><ellipse cx="372.8" cy="196.8" rx="1.4" ry="1.2" transform="rotate(0 373.4 196.5)" fill="#9189c8" opacity="0.5"/><ellipse cx="358.5" cy="196.6" rx="1.8" ry="1.5" transform="rotate(-52 358.2 196.5)" fill="#ada6d8" opacity="0.85"/><ellipse cx="358.3" cy="196.6" rx="1.7" ry="1.2" transform="rotate(-12 358.2 196.5)" fill="#c2bce3" opacity="0.85"/><ellipse cx="358.3" cy="197.4" rx="1.6" ry="1.3" transform="rotate(7 358.2 196.5)" fill="#b9b2de" opacity="0.85"/><ellipse cx="357.9" cy="196.5" rx="1.4" ry="1.1" transform="rotate(-20 358.2 196.5)" fill="#9189c8" opacity="0.5"/><ellipse cx="365.7" cy="197.6" rx="1.9" ry="1.2" transform="rotate(-24 366.8 197.8)" fill="#ada6d8" opacity="0.85"/><ellipse cx="365.8" cy="197.3" rx="1.7" ry="1.4" transform="rotate(-1 366.8 197.8)" fill="#a59dd3" opacity="0.85"/><ellipse cx="367.3" cy="197.5" rx="1.7" ry="1.2" transform="rotate(-17 366.8 197.8)" fill="#c2bce3" opacity="0.85"/><ellipse cx="367.2" cy="197.3" rx="1.4" ry="1.2" transform="rotate(0 366.8 197.8)" fill="#9189c8" opacity="0.5"/><ellipse cx="379.6" cy="200.3" rx="2.9" ry="2.7" transform="rotate(-22 378.0 201.1)" fill="#a59dd3" opacity="0.85"/><ellipse cx="376.7" cy="201.6" rx="2.7" ry="3.5" transform="rotate(-1 378.0 201.1)" fill="#c2bce3" opacity="0.85"/><ellipse cx="379.5" cy="199.7" rx="2.4" ry="2.7" transform="rotate(38 378.0 201.1)" fill="#b9b2de" opacity="0.85"/><ellipse cx="377.6" cy="200.6" rx="2.0" ry="2.4" transform="rotate(0 378.0 201.1)" fill="#9189c8" opacity="0.5"/><ellipse cx="381.8" cy="207.6" rx="2.1" ry="1.4" transform="rotate(-31 382.6 207.7)" fill="#b9b2de" opacity="0.85"/><ellipse cx="383.7" cy="207.4" rx="1.7" ry="1.8" transform="rotate(20 382.6 207.7)" fill="#b9b2de" opacity="0.85"/><ellipse cx="382.1" cy="208.2" rx="2.2" ry="1.8" transform="rotate(-5 382.6 207.7)" fill="#b9b2de" opacity="0.85"/><ellipse cx="382.1" cy="207.2" rx="1.6" ry="1.2" transform="rotate(0 382.6 207.7)" fill="#9189c8" opacity="0.5"/><ellipse cx="352.4" cy="190.9" rx="0.6" ry="1.8" transform="rotate(-23 352.5 190.0)" fill="#b9b2de" opacity="0.85"/><ellipse cx="352.8" cy="189.6" rx="0.8" ry="1.3" transform="rotate(16 352.5 190.0)" fill="#c2bce3" opacity="0.85"/><ellipse cx="352.4" cy="190.8" rx="0.7" ry="1.4" transform="rotate(32 352.5 190.0)" fill="#ada6d8" opacity="0.85"/><ellipse cx="351.9" cy="189.9" rx="0.6" ry="1.2" transform="rotate(0 352.5 190.0)" fill="#9189c8" opacity="0.5"/><ellipse cx="354.3" cy="199.1" rx="1.6" ry="0.7" transform="rotate(-59 355.5 199.5)" fill="#a59dd3" opacity="0.85"/><ellipse cx="356.5" cy="199.4" rx="1.8" ry="0.7" transform="rotate(-31 355.5 199.5)" fill="#b9b2de" opacity="0.85"/><ellipse cx="356.1" cy="199.7" rx="2.3" ry="0.6" transform="rotate(-22 355.5 199.5)" fill="#c2bce3" opacity="0.85"/><ellipse cx="355.6" cy="199.9" rx="1.6" ry="0.5" transform="rotate(-40 355.5 199.5)" fill="#9189c8" opacity="0.5"/><ellipse cx="359.7" cy="196.4" rx="1.3" ry="1.3" transform="rotate(36 360.6 196.8)" fill="#b9b2de" opacity="0.85"/><ellipse cx="361.1" cy="197.4" rx="1.5" ry="1.0" transform="rotate(-0 360.6 196.8)" fill="#a59dd3" opacity="0.85"/><ellipse cx="361.1" cy="197.2" rx="1.5" ry="1.2" transform="rotate(9 360.6 196.8)" fill="#b9b2de" opacity="0.85"/><ellipse cx="360.4" cy="196.6" rx="1.1" ry="0.9" transform="rotate(0 360.6 196.8)" fill="#9189c8" opacity="0.5"/><ellipse cx="392.2" cy="193.5" rx="2.7" ry="2.0" transform="rotate(-27 391.2 193.2)" fill="#c2bce3" opacity="0.85"/><ellipse cx="389.6" cy="191.9" rx="2.8" ry="2.0" transform="rotate(38 391.2 193.2)" fill="#a59dd3" opacity="0.85"/><ellipse cx="393.0" cy="192.5" rx="2.3" ry="1.8" transform="rotate(-0 391.2 193.2)" fill="#b9b2de" opacity="0.85"/><ellipse cx="391.5" cy="193.1" rx="2.2" ry="1.7" transform="rotate(0 391.2 193.2)" fill="#9189c8" opacity="0.5"/><ellipse cx="397.1" cy="190.5" rx="1.7" ry="1.3" transform="rotate(3 397.8 190.6)" fill="#ada6d8" opacity="0.85"/><ellipse cx="398.4" cy="190.2" rx="1.4" ry="1.4" transform="rotate(-20 397.8 190.6)" fill="#b9b2de" opacity="0.85"/><ellipse cx="397.2" cy="190.1" rx="1.3" ry="1.3" transform="rotate(31 397.8 190.6)" fill="#c2bce3" opacity="0.85"/><ellipse cx="397.9" cy="190.4" rx="1.2" ry="1.2" transform="rotate(0 397.8 190.6)" fill="#9189c8" opacity="0.5"/><ellipse cx="401.1" cy="192.6" rx="2.7" ry="1.3" transform="rotate(-17 402.0 193.0)" fill="#a59dd3" opacity="0.85"/><ellipse cx="403.7" cy="192.4" rx="2.6" ry="1.4" transform="rotate(42 402.0 193.0)" fill="#a59dd3" opacity="0.85"/><ellipse cx="400.4" cy="192.7" rx="2.2" ry="1.1" transform="rotate(53 402.0 193.0)" fill="#c2bce3" opacity="0.85"/><ellipse cx="402.1" cy="193.5" rx="2.1" ry="1.0" transform="rotate(15 402.0 193.0)" fill="#9189c8" opacity="0.5"/><ellipse cx="407.5" cy="194.7" rx="2.0" ry="0.7" transform="rotate(33 407.5 195.0)" fill="#c2bce3" opacity="0.85"/><ellipse cx="406.5" cy="195.1" rx="2.0" ry="0.6" transform="rotate(9 407.5 195.0)" fill="#b9b2de" opacity="0.85"/><ellipse cx="406.4" cy="195.4" rx="1.5" ry="0.7" transform="rotate(53 407.5 195.0)" fill="#ada6d8" opacity="0.85"/><ellipse cx="407.9" cy="195.4" rx="1.5" ry="0.5" transform="rotate(20 407.5 195.0)" fill="#9189c8" opacity="0.5"/><ellipse cx="414.8" cy="189.9" rx="1.8" ry="1.5" transform="rotate(24 414.3 190.6)" fill="#a59dd3" opacity="0.85"/><ellipse cx="413.2" cy="189.7" rx="1.9" ry="1.7" transform="rotate(11 414.3 190.6)" fill="#a59dd3" opacity="0.85"/><ellipse cx="414.7" cy="190.4" rx="1.8" ry="2.0" transform="rotate(13 414.3 190.6)" fill="#b9b2de" opacity="0.85"/><ellipse cx="414.2" cy="190.1" rx="1.6" ry="1.3" transform="rotate(0 414.3 190.6)" fill="#9189c8" opacity="0.5"/><ellipse cx="393.7" cy="200.2" rx="2.2" ry="2.9" transform="rotate(12 393.9 201.8)" fill="#c2bce3" opacity="0.85"/><ellipse cx="394.5" cy="200.8" rx="1.6" ry="3.0" transform="rotate(-6 393.9 201.8)" fill="#a59dd3" opacity="0.85"/><ellipse cx="393.7" cy="203.1" rx="1.9" ry="2.2" transform="rotate(-39 393.9 201.8)" fill="#b9b2de" opacity="0.85"/><ellipse cx="394.0" cy="202.0" rx="1.6" ry="2.0" transform="rotate(0 393.9 201.8)" fill="#9189c8" opacity="0.5"/><ellipse cx="387.1" cy="199.4" rx="1.6" ry="1.2" transform="rotate(-58 388.0 199.2)" fill="#a59dd3" opacity="0.85"/><ellipse cx="387.3" cy="198.7" rx="1.4" ry="1.1" transform="rotate(-10 388.0 199.2)" fill="#c2bce3" opacity="0.85"/><ellipse cx="387.6" cy="199.7" rx="1.3" ry="1.4" transform="rotate(-45 388.0 199.2)" fill="#ada6d8" opacity="0.85"/><ellipse cx="388.1" cy="199.4" rx="1.3" ry="1.0" transform="rotate(-30 388.0 199.2)" fill="#9189c8" opacity="0.5"/><ellipse cx="388.8" cy="206.0" rx="3.1" ry="1.8" transform="rotate(23 387.3 205.7)" fill="#b9b2de" opacity="0.85"/><ellipse cx="387.7" cy="206.0" rx="2.4" ry="2.1" transform="rotate(5 387.3 205.7)" fill="#ada6d8" opacity="0.85"/><ellipse cx="386.9" cy="205.8" rx="2.6" ry="1.8" transform="rotate(-20 387.3 205.7)" fill="#b9b2de" opacity="0.85"/><ellipse cx="387.6" cy="206.2" rx="2.2" ry="1.7" transform="rotate(0 387.3 205.7)" fill="#9189c8" opacity="0.5"/><ellipse cx="399.9" cy="208.9" rx="1.8" ry="1.3" transform="rotate(-14 399.1 208.4)" fill="#b9b2de" opacity="0.85"/><ellipse cx="399.3" cy="208.5" rx="1.7" ry="1.1" transform="rotate(-6 399.1 208.4)" fill="#a59dd3" opacity="0.85"/><ellipse cx="398.9" cy="208.7" rx="1.6" ry="1.2" transform="rotate(-38 399.1 208.4)" fill="#ada6d8" opacity="0.85"/><ellipse cx="399.2" cy="208.4" rx="1.3" ry="1.0" transform="rotate(0 399.1 208.4)" fill="#9189c8" opacity="0.5"/><ellipse cx="405.6" cy="186.9" rx="2.0" ry="1.2" transform="rotate(25 405.7 186.7)" fill="#ada6d8" opacity="0.85"/><ellipse cx="404.8" cy="186.2" rx="1.8" ry="0.9" transform="rotate(-5 405.7 186.7)" fill="#a59dd3" opacity="0.85"/><ellipse cx="404.6" cy="186.2" rx="2.1" ry="1.0" transform="rotate(18 405.7 186.7)" fill="#b9b2de" opacity="0.85"/><ellipse cx="405.2" cy="187.0" rx="1.4" ry="0.8" transform="rotate(0 405.7 186.7)" fill="#9189c8" opacity="0.5"/><ellipse cx="384.7" cy="188.7" rx="0.9" ry="1.5" transform="rotate(9 384.5 188.0)" fill="#a59dd3" opacity="0.85"/><ellipse cx="384.0" cy="189.2" rx="1.1" ry="2.2" transform="rotate(33 384.5 188.0)" fill="#b9b2de" opacity="0.85"/><ellipse cx="384.8" cy="188.6" rx="1.0" ry="2.1" transform="rotate(9 384.5 188.0)" fill="#ada6d8" opacity="0.85"/><ellipse cx="384.2" cy="187.8" rx="0.9" ry="1.5" transform="rotate(0 384.5 188.0)" fill="#9189c8" opacity="0.5"/><ellipse cx="385.1" cy="194.9" rx="0.9" ry="1.8" transform="rotate(-2 384.5 195.0)" fill="#c2bce3" opacity="0.85"/><ellipse cx="384.7" cy="194.5" rx="1.0" ry="1.3" transform="rotate(-8 384.5 195.0)" fill="#c2bce3" opacity="0.85"/><ellipse cx="384.8" cy="195.8" rx="0.9" ry="1.7" transform="rotate(-31 384.5 195.0)" fill="#c2bce3" opacity="0.85"/><ellipse cx="384.5" cy="195.2" rx="0.8" ry="1.2" transform="rotate(0 384.5 195.0)" fill="#9189c8" opacity="0.5"/><ellipse cx="393.1" cy="207.4" rx="1.8" ry="1.3" transform="rotate(32 392.0 207.5)" fill="#c2bce3" opacity="0.85"/><ellipse cx="393.2" cy="207.7" rx="1.7" ry="1.3" transform="rotate(-19 392.0 207.5)" fill="#c2bce3" opacity="0.85"/><ellipse cx="392.2" cy="207.3" rx="2.0" ry="1.2" transform="rotate(-26 392.0 207.5)" fill="#c2bce3" opacity="0.85"/><ellipse cx="392.3" cy="207.0" rx="1.4" ry="1.0" transform="rotate(0 392.0 207.5)" fill="#9189c8" opacity="0.5"/></g><g filter="url(#bl2)"><circle cx="362.0" cy="169.4" r="0.55" fill="#a32236" opacity="0.65"/><circle cx="362.3" cy="169.9" r="0.56" fill="#a32236" opacity="0.65"/><circle cx="361.2" cy="169.0" r="0.41" fill="#a32236" opacity="0.65"/><circle cx="368.7" cy="180.6" r="0.63" fill="#a32236" opacity="0.65"/><circle cx="369.4" cy="181.2" r="0.54" fill="#a32236" opacity="0.65"/><circle cx="368.9" cy="180.7" r="0.51" fill="#a32236" opacity="0.65"/><circle cx="369.5" cy="180.7" r="0.37" fill="#a32236" opacity="0.65"/><circle cx="370.0" cy="180.5" r="0.47" fill="#a32236" opacity="0.65"/><circle cx="370.3" cy="180.5" r="0.48" fill="#a32236" opacity="0.65"/><circle cx="379.3" cy="183.9" r="0.70" fill="#a32236" opacity="0.65"/><circle cx="378.8" cy="184.0" r="0.48" fill="#a32236" opacity="0.65"/><circle cx="379.5" cy="185.3" r="0.66" fill="#a32236" opacity="0.65"/><circle cx="371.8" cy="189.4" r="0.60" fill="#a32236" opacity="0.65"/><circle cx="372.3" cy="190.1" r="0.73" fill="#a32236" opacity="0.65"/><circle cx="372.3" cy="189.9" r="0.94" fill="#a32236" opacity="0.65"/><circle cx="373.2" cy="188.7" r="0.69" fill="#a32236" opacity="0.65"/><circle cx="372.0" cy="189.3" r="0.56" fill="#a32236" opacity="0.65"/><circle cx="372.3" cy="188.4" r="0.66" fill="#a32236" opacity="0.65"/><circle cx="364.0" cy="193.3" r="0.63" fill="#a32236" opacity="0.65"/><circle cx="364.2" cy="192.7" r="0.55" fill="#a32236" opacity="0.65"/><circle cx="364.8" cy="193.4" r="0.60" fill="#a32236" opacity="0.65"/><circle cx="367.6" cy="194.9" r="0.47" fill="#a32236" opacity="0.65"/><circle cx="367.4" cy="195.8" r="0.59" fill="#a32236" opacity="0.65"/><circle cx="368.4" cy="194.4" r="0.60" fill="#a32236" opacity="0.65"/><circle cx="357.3" cy="195.8" r="0.65" fill="#a32236" opacity="0.65"/><circle cx="356.8" cy="195.4" r="0.48" fill="#a32236" opacity="0.65"/><circle cx="356.4" cy="195.1" r="0.54" fill="#a32236" opacity="0.65"/><circle cx="373.1" cy="199.5" r="0.60" fill="#a32236" opacity="0.65"/><circle cx="373.0" cy="198.8" r="0.53" fill="#a32236" opacity="0.65"/><circle cx="372.6" cy="199.7" r="0.53" fill="#a32236" opacity="0.65"/><circle cx="375.4" cy="206.6" r="0.55" fill="#a32236" opacity="0.65"/><circle cx="375.3" cy="206.9" r="0.35" fill="#a32236" opacity="0.65"/><circle cx="375.4" cy="206.0" r="0.51" fill="#a32236" opacity="0.65"/><circle cx="383.9" cy="209.4" r="0.48" fill="#a32236" opacity="0.65"/><circle cx="383.8" cy="208.7" r="0.46" fill="#a32236" opacity="0.65"/><circle cx="383.9" cy="209.2" r="0.57" fill="#a32236" opacity="0.65"/><circle cx="387.5" cy="165.2" r="0.38" fill="#a32236" opacity="0.65"/><circle cx="387.7" cy="164.8" r="0.45" fill="#a32236" opacity="0.65"/><circle cx="387.2" cy="164.9" r="0.40" fill="#a32236" opacity="0.65"/><circle cx="390.9" cy="170.8" r="0.48" fill="#a32236" opacity="0.65"/><circle cx="390.6" cy="171.8" r="0.38" fill="#a32236" opacity="0.65"/><circle cx="390.5" cy="170.6" r="0.55" fill="#a32236" opacity="0.65"/><circle cx="396.5" cy="177.0" r="0.56" fill="#a32236" opacity="0.65"/><circle cx="395.8" cy="178.2" r="0.76" fill="#a32236" opacity="0.65"/><circle cx="397.2" cy="178.3" r="0.57" fill="#a32236" opacity="0.65"/><circle cx="395.0" cy="173.3" r="0.60" fill="#a32236" opacity="0.65"/><circle cx="395.4" cy="174.1" r="0.42" fill="#a32236" opacity="0.65"/><circle cx="395.5" cy="174.2" r="0.63" fill="#a32236" opacity="0.65"/><circle cx="393.6" cy="182.6" r="0.37" fill="#a32236" opacity="0.65"/><circle cx="393.5" cy="183.5" r="0.52" fill="#a32236" opacity="0.65"/><circle cx="394.4" cy="183.5" r="0.48" fill="#a32236" opacity="0.65"/><circle cx="392.2" cy="198.5" r="0.48" fill="#a32236" opacity="0.65"/><circle cx="393.1" cy="198.7" r="0.54" fill="#a32236" opacity="0.65"/><circle cx="392.5" cy="198.3" r="0.52" fill="#a32236" opacity="0.65"/><circle cx="395.4" cy="200.5" r="0.61" fill="#a32236" opacity="0.65"/><circle cx="395.4" cy="201.0" r="0.65" fill="#a32236" opacity="0.65"/><circle cx="396.5" cy="200.3" r="0.51" fill="#a32236" opacity="0.65"/><circle cx="389.1" cy="206.9" r="0.66" fill="#a32236" opacity="0.65"/><circle cx="389.0" cy="207.4" r="0.60" fill="#a32236" opacity="0.65"/><circle cx="388.8" cy="207.7" r="0.47" fill="#a32236" opacity="0.65"/><circle cx="385.2" cy="208.5" r="0.40" fill="#a32236" opacity="0.65"/><circle cx="384.2" cy="209.4" r="0.63" fill="#a32236" opacity="0.65"/><circle cx="383.9" cy="209.0" r="0.52" fill="#a32236" opacity="0.65"/><circle cx="366.4" cy="187.6" r="0.39" fill="#a32236" opacity="0.65"/><circle cx="365.8" cy="188.4" r="0.35" fill="#a32236" opacity="0.65"/><circle cx="366.5" cy="187.7" r="0.34" fill="#a32236" opacity="0.65"/><circle cx="399.7" cy="169.0" r="0.27" fill="#a32236" opacity="0.65"/><circle cx="399.6" cy="168.6" r="0.37" fill="#a32236" opacity="0.65"/><circle cx="399.7" cy="169.3" r="0.34" fill="#a32236" opacity="0.65"/><circle cx="374.8" cy="194.9" r="0.37" fill="#a32236" opacity="0.65"/><circle cx="375.5" cy="194.5" r="0.46" fill="#a32236" opacity="0.65"/><circle cx="374.4" cy="194.6" r="0.35" fill="#a32236" opacity="0.65"/><circle cx="355.4" cy="190.0" r="0.31" fill="#a32236" opacity="0.65"/><circle cx="355.4" cy="189.7" r="0.32" fill="#a32236" opacity="0.65"/><circle cx="355.0" cy="190.3" r="0.36" fill="#a32236" opacity="0.65"/></g></g>
<rect x="351.10" y="213.00" width="65.80" height="48.00" fill="#dddce0" stroke="none" stroke-width="0.8" />
<g clip-path="url(#cpT)"><g filter="url(#bl1)"><ellipse cx="352.3" cy="218.6" rx="4.4" ry="3.2" transform="rotate(30 352.3 218.6)" fill="#c4bee2" opacity="0.35"/><ellipse cx="355.0" cy="221.5" rx="5.1" ry="3.9" transform="rotate(40 355.0 221.5)" fill="#c4bee2" opacity="0.35"/><ellipse cx="357.6" cy="225.2" rx="5.1" ry="4.2" transform="rotate(40 357.6 225.2)" fill="#c4bee2" opacity="0.35"/><ellipse cx="356.3" cy="229.1" rx="4.4" ry="3.9" transform="rotate(0 356.3 229.1)" fill="#c4bee2" opacity="0.35"/><ellipse cx="359.6" cy="233.7" rx="5.1" ry="4.2" transform="rotate(30 359.6 233.7)" fill="#c4bee2" opacity="0.35"/><ellipse cx="362.0" cy="236.0" rx="5.1" ry="4.0" transform="rotate(30 362.0 236.0)" fill="#c4bee2" opacity="0.35"/><ellipse cx="364.2" cy="237.0" rx="4.2" ry="4.0" transform="rotate(0 364.2 237.0)" fill="#c4bee2" opacity="0.35"/><ellipse cx="360.5" cy="229.5" rx="3.7" ry="3.2" transform="rotate(0 360.5 229.5)" fill="#c4bee2" opacity="0.35"/><ellipse cx="354.5" cy="226.0" rx="3.4" ry="2.6" transform="rotate(0 354.5 226.0)" fill="#c4bee2" opacity="0.35"/><ellipse cx="358.5" cy="222.0" rx="3.4" ry="2.4" transform="rotate(0 358.5 222.0)" fill="#c4bee2" opacity="0.35"/><ellipse cx="367.4" cy="221.9" rx="4.4" ry="3.2" transform="rotate(0 367.4 221.9)" fill="#c4bee2" opacity="0.35"/><ellipse cx="370.7" cy="220.6" rx="3.7" ry="2.6" transform="rotate(0 370.7 220.6)" fill="#c4bee2" opacity="0.35"/><ellipse cx="372.0" cy="223.2" rx="3.4" ry="2.6" transform="rotate(0 372.0 223.2)" fill="#c4bee2" opacity="0.35"/><ellipse cx="366.8" cy="230.4" rx="4.1" ry="3.2" transform="rotate(0 366.8 230.4)" fill="#c4bee2" opacity="0.35"/><ellipse cx="368.1" cy="227.8" rx="3.7" ry="2.9" transform="rotate(0 368.1 227.8)" fill="#c4bee2" opacity="0.35"/><ellipse cx="371.4" cy="231.1" rx="3.7" ry="2.9" transform="rotate(0 371.4 231.1)" fill="#c4bee2" opacity="0.35"/><ellipse cx="374.7" cy="234.4" rx="4.1" ry="2.9" transform="rotate(0 374.7 234.4)" fill="#c4bee2" opacity="0.35"/><ellipse cx="379.3" cy="215.3" rx="3.4" ry="2.4" transform="rotate(0 379.3 215.3)" fill="#c4bee2" opacity="0.35"/><ellipse cx="380.0" cy="220.6" rx="4.1" ry="3.2" transform="rotate(0 380.0 220.6)" fill="#c4bee2" opacity="0.35"/><ellipse cx="381.6" cy="229.4" rx="6.0" ry="5.2" transform="rotate(0 381.6 229.4)" fill="#c4bee2" opacity="0.35"/><ellipse cx="384.2" cy="230.7" rx="6.0" ry="4.8" transform="rotate(0 384.2 230.7)" fill="#c4bee2" opacity="0.35"/><ellipse cx="386.6" cy="225.2" rx="5.1" ry="4.2" transform="rotate(0 386.6 225.2)" fill="#c4bee2" opacity="0.35"/><ellipse cx="390.6" cy="227.1" rx="4.4" ry="3.9" transform="rotate(0 390.6 227.1)" fill="#c4bee2" opacity="0.35"/><ellipse cx="387.3" cy="231.7" rx="5.1" ry="4.2" transform="rotate(0 387.3 231.7)" fill="#c4bee2" opacity="0.35"/><ellipse cx="388.0" cy="236.0" rx="4.8" ry="3.9" transform="rotate(0 388.0 236.0)" fill="#c4bee2" opacity="0.35"/><ellipse cx="385.0" cy="240.0" rx="4.4" ry="3.6" transform="rotate(0 385.0 240.0)" fill="#c4bee2" opacity="0.35"/><ellipse cx="380.0" cy="241.0" rx="4.1" ry="3.2" transform="rotate(0 380.0 241.0)" fill="#c4bee2" opacity="0.35"/><ellipse cx="376.0" cy="243.5" rx="4.2" ry="3.2" transform="rotate(0 376.0 243.5)" fill="#c4bee2" opacity="0.35"/><ellipse cx="378.0" cy="236.0" rx="4.1" ry="3.2" transform="rotate(0 378.0 236.0)" fill="#c4bee2" opacity="0.35"/><ellipse cx="375.0" cy="239.0" rx="3.4" ry="2.6" transform="rotate(0 375.0 239.0)" fill="#c4bee2" opacity="0.35"/><ellipse cx="395.2" cy="219.2" rx="4.4" ry="3.6" transform="rotate(0 395.2 219.2)" fill="#c4bee2" opacity="0.35"/><ellipse cx="397.2" cy="228.4" rx="4.1" ry="3.2" transform="rotate(0 397.2 228.4)" fill="#c4bee2" opacity="0.35"/><ellipse cx="405.7" cy="226.5" rx="4.1" ry="2.9" transform="rotate(0 405.7 226.5)" fill="#c4bee2" opacity="0.35"/><ellipse cx="412.0" cy="219.5" rx="7.6" ry="1.9" transform="rotate(60 412.0 219.5)" fill="#c4bee2" opacity="0.35"/><ellipse cx="399.0" cy="244.0" rx="4.8" ry="3.9" transform="rotate(0 399.0 244.0)" fill="#c4bee2" opacity="0.35"/><ellipse cx="403.0" cy="247.0" rx="5.1" ry="4.2" transform="rotate(0 403.0 247.0)" fill="#c4bee2" opacity="0.35"/><ellipse cx="407.0" cy="249.0" rx="5.1" ry="4.2" transform="rotate(0 407.0 249.0)" fill="#c4bee2" opacity="0.35"/><ellipse cx="404.0" cy="252.0" rx="5.1" ry="4.2" transform="rotate(0 404.0 252.0)" fill="#c4bee2" opacity="0.35"/><ellipse cx="409.0" cy="252.0" rx="4.4" ry="3.9" transform="rotate(0 409.0 252.0)" fill="#c4bee2" opacity="0.35"/><ellipse cx="406.0" cy="256.0" rx="5.1" ry="3.9" transform="rotate(0 406.0 256.0)" fill="#c4bee2" opacity="0.35"/><ellipse cx="402.0" cy="257.5" rx="4.4" ry="3.2" transform="rotate(0 402.0 257.5)" fill="#c4bee2" opacity="0.35"/><ellipse cx="410.0" cy="257.0" rx="4.1" ry="3.2" transform="rotate(0 410.0 257.0)" fill="#c4bee2" opacity="0.35"/><ellipse cx="412.0" cy="246.0" rx="3.7" ry="3.2" transform="rotate(0 412.0 246.0)" fill="#c4bee2" opacity="0.35"/><ellipse cx="400.0" cy="251.0" rx="3.7" ry="3.2" transform="rotate(0 400.0 251.0)" fill="#c4bee2" opacity="0.35"/><ellipse cx="398.5" cy="240.0" rx="3.7" ry="3.2" transform="rotate(0 398.5 240.0)" fill="#c4bee2" opacity="0.35"/><ellipse cx="409.5" cy="241.0" rx="3.7" ry="3.2" transform="rotate(0 409.5 241.0)" fill="#c4bee2" opacity="0.35"/><ellipse cx="360.0" cy="243.0" rx="4.8" ry="3.9" transform="rotate(0 360.0 243.0)" fill="#c4bee2" opacity="0.35"/><ellipse cx="362.0" cy="246.5" rx="5.1" ry="4.2" transform="rotate(0 362.0 246.5)" fill="#c4bee2" opacity="0.35"/><ellipse cx="360.0" cy="250.0" rx="5.4" ry="4.8" transform="rotate(0 360.0 250.0)" fill="#c4bee2" opacity="0.35"/><ellipse cx="358.0" cy="254.0" rx="5.1" ry="4.2" transform="rotate(0 358.0 254.0)" fill="#c4bee2" opacity="0.35"/><ellipse cx="362.0" cy="256.0" rx="4.4" ry="3.6" transform="rotate(0 362.0 256.0)" fill="#c4bee2" opacity="0.35"/><ellipse cx="355.0" cy="245.0" rx="3.7" ry="2.9" transform="rotate(0 355.0 245.0)" fill="#c4bee2" opacity="0.35"/><ellipse cx="364.0" cy="241.0" rx="4.1" ry="3.2" transform="rotate(0 364.0 241.0)" fill="#c4bee2" opacity="0.35"/><ellipse cx="360.9" cy="238.0" rx="4.1" ry="3.2" transform="rotate(0 360.9 238.0)" fill="#c4bee2" opacity="0.35"/><ellipse cx="364.8" cy="236.7" rx="3.4" ry="2.9" transform="rotate(0 364.8 236.7)" fill="#c4bee2" opacity="0.35"/><ellipse cx="368.1" cy="257.7" rx="4.1" ry="2.6" transform="rotate(0 368.1 257.7)" fill="#c4bee2" opacity="0.35"/><ellipse cx="374.0" cy="239.5" rx="4.8" ry="3.6" transform="rotate(0 374.0 239.5)" fill="#c4bee2" opacity="0.35"/><ellipse cx="378.0" cy="238.0" rx="4.4" ry="3.6" transform="rotate(0 378.0 238.0)" fill="#c4bee2" opacity="0.35"/><ellipse cx="382.0" cy="237.0" rx="4.4" ry="3.2" transform="rotate(0 382.0 237.0)" fill="#c4bee2" opacity="0.35"/><ellipse cx="376.5" cy="242.5" rx="3.7" ry="2.9" transform="rotate(0 376.5 242.5)" fill="#c4bee2" opacity="0.35"/><ellipse cx="384.0" cy="239.0" rx="4.1" ry="3.2" transform="rotate(0 384.0 239.0)" fill="#c4bee2" opacity="0.35"/><ellipse cx="386.0" cy="241.0" rx="3.7" ry="2.9" transform="rotate(0 386.0 241.0)" fill="#c4bee2" opacity="0.35"/><ellipse cx="392.6" cy="247.2" rx="2.4" ry="4.8" transform="rotate(0 392.6 247.2)" fill="#c4bee2" opacity="0.35"/><ellipse cx="386.6" cy="256.5" rx="2.4" ry="4.0" transform="rotate(0 386.6 256.5)" fill="#c4bee2" opacity="0.35"/><ellipse cx="351.9" cy="218.3" rx="1.7" ry="1.7" transform="rotate(43 352.3 218.6)" fill="#ada5d8" opacity="0.85"/><ellipse cx="351.4" cy="218.5" rx="2.2" ry="1.5" transform="rotate(0 352.3 218.6)" fill="#b6aedc" opacity="0.85"/><ellipse cx="352.7" cy="219.0" rx="2.0" ry="1.4" transform="rotate(50 352.3 218.6)" fill="#9890cb" opacity="0.85"/><ellipse cx="352.7" cy="218.7" rx="1.6" ry="1.2" transform="rotate(30 352.3 218.6)" fill="#8079bd" opacity="0.6"/><ellipse cx="356.4" cy="222.0" rx="2.3" ry="1.7" transform="rotate(19 355.0 221.5)" fill="#a199d1" opacity="0.85"/><ellipse cx="354.3" cy="222.6" rx="2.7" ry="1.6" transform="rotate(53 355.0 221.5)" fill="#a199d1" opacity="0.85"/><ellipse cx="354.7" cy="222.7" rx="2.5" ry="2.0" transform="rotate(35 355.0 221.5)" fill="#a199d1" opacity="0.85"/><ellipse cx="354.6" cy="221.7" rx="1.8" ry="1.4" transform="rotate(40 355.0 221.5)" fill="#8079bd" opacity="0.6"/><ellipse cx="356.9" cy="226.2" rx="2.2" ry="1.6" transform="rotate(68 357.6 225.2)" fill="#ada5d8" opacity="0.85"/><ellipse cx="358.2" cy="225.2" rx="2.4" ry="1.9" transform="rotate(11 357.6 225.2)" fill="#9890cb" opacity="0.85"/><ellipse cx="356.1" cy="224.5" rx="2.6" ry="2.1" transform="rotate(47 357.6 225.2)" fill="#9890cb" opacity="0.85"/><ellipse cx="357.8" cy="225.6" rx="1.8" ry="1.6" transform="rotate(40 357.6 225.2)" fill="#8079bd" opacity="0.6"/><ellipse cx="356.8" cy="229.4" rx="1.9" ry="1.7" transform="rotate(10 356.3 229.1)" fill="#a199d1" opacity="0.85"/><ellipse cx="357.3" cy="228.5" rx="1.9" ry="2.0" transform="rotate(-27 356.3 229.1)" fill="#ada5d8" opacity="0.85"/><ellipse cx="356.3" cy="227.9" rx="2.2" ry="1.8" transform="rotate(13 356.3 229.1)" fill="#9890cb" opacity="0.85"/><ellipse cx="356.7" cy="229.6" rx="1.6" ry="1.4" transform="rotate(0 356.3 229.1)" fill="#8079bd" opacity="0.6"/><ellipse cx="360.4" cy="233.4" rx="2.2" ry="2.3" transform="rotate(-7 359.6 233.7)" fill="#b6aedc" opacity="0.85"/><ellipse cx="358.6" cy="234.4" rx="2.6" ry="2.0" transform="rotate(-2 359.6 233.7)" fill="#a199d1" opacity="0.85"/><ellipse cx="359.7" cy="234.3" rx="2.3" ry="2.1" transform="rotate(56 359.6 233.7)" fill="#9890cb" opacity="0.85"/><ellipse cx="359.6" cy="233.6" rx="1.8" ry="1.6" transform="rotate(30 359.6 233.7)" fill="#8079bd" opacity="0.6"/><ellipse cx="361.1" cy="236.5" rx="2.2" ry="2.1" transform="rotate(-0 362.0 236.0)" fill="#9890cb" opacity="0.85"/><ellipse cx="362.4" cy="235.4" rx="2.1" ry="1.5" transform="rotate(-4 362.0 236.0)" fill="#b6aedc" opacity="0.85"/><ellipse cx="362.4" cy="236.4" rx="2.3" ry="1.6" transform="rotate(14 362.0 236.0)" fill="#9890cb" opacity="0.85"/><ellipse cx="361.9" cy="236.5" rx="1.8" ry="1.5" transform="rotate(30 362.0 236.0)" fill="#8079bd" opacity="0.6"/><ellipse cx="365.4" cy="238.2" rx="1.8" ry="1.6" transform="rotate(34 364.2 237.0)" fill="#a199d1" opacity="0.85"/><ellipse cx="365.0" cy="237.3" rx="1.9" ry="1.9" transform="rotate(-22 364.2 237.0)" fill="#ada5d8" opacity="0.85"/><ellipse cx="363.8" cy="237.3" rx="2.1" ry="2.1" transform="rotate(-3 364.2 237.0)" fill="#a199d1" opacity="0.85"/><ellipse cx="364.0" cy="237.1" rx="1.5" ry="1.5" transform="rotate(0 364.2 237.0)" fill="#8079bd" opacity="0.6"/><ellipse cx="361.1" cy="229.4" rx="1.8" ry="1.3" transform="rotate(16 360.5 229.5)" fill="#a199d1" opacity="0.85"/><ellipse cx="361.6" cy="229.9" rx="1.6" ry="1.7" transform="rotate(24 360.5 229.5)" fill="#b6aedc" opacity="0.85"/><ellipse cx="359.9" cy="229.1" rx="1.6" ry="1.5" transform="rotate(11 360.5 229.5)" fill="#b6aedc" opacity="0.85"/><ellipse cx="360.7" cy="229.3" rx="1.3" ry="1.2" transform="rotate(0 360.5 229.5)" fill="#8079bd" opacity="0.6"/><ellipse cx="355.2" cy="225.3" rx="1.7" ry="1.4" transform="rotate(23 354.5 226.0)" fill="#b6aedc" opacity="0.85"/><ellipse cx="354.6" cy="225.8" rx="1.5" ry="1.3" transform="rotate(-23 354.5 226.0)" fill="#a199d1" opacity="0.85"/><ellipse cx="354.8" cy="225.6" rx="1.3" ry="1.0" transform="rotate(-21 354.5 226.0)" fill="#ada5d8" opacity="0.85"/><ellipse cx="354.8" cy="225.8" rx="1.2" ry="1.0" transform="rotate(0 354.5 226.0)" fill="#8079bd" opacity="0.6"/><ellipse cx="357.9" cy="221.9" rx="1.5" ry="1.2" transform="rotate(15 358.5 222.0)" fill="#a199d1" opacity="0.85"/><ellipse cx="358.8" cy="222.6" rx="1.7" ry="1.3" transform="rotate(-24 358.5 222.0)" fill="#ada5d8" opacity="0.85"/><ellipse cx="358.6" cy="222.4" rx="1.5" ry="1.3" transform="rotate(4 358.5 222.0)" fill="#a199d1" opacity="0.85"/><ellipse cx="358.2" cy="221.7" rx="1.2" ry="0.9" transform="rotate(0 358.5 222.0)" fill="#8079bd" opacity="0.6"/><ellipse cx="367.3" cy="222.0" rx="1.9" ry="1.7" transform="rotate(16 367.4 221.9)" fill="#a199d1" opacity="0.85"/><ellipse cx="367.4" cy="222.0" rx="2.2" ry="1.2" transform="rotate(27 367.4 221.9)" fill="#a199d1" opacity="0.85"/><ellipse cx="367.9" cy="221.9" rx="1.8" ry="1.5" transform="rotate(-6 367.4 221.9)" fill="#9890cb" opacity="0.85"/><ellipse cx="368.0" cy="222.1" rx="1.6" ry="1.2" transform="rotate(0 367.4 221.9)" fill="#8079bd" opacity="0.6"/><ellipse cx="371.0" cy="220.8" rx="1.3" ry="1.3" transform="rotate(15 370.7 220.6)" fill="#a199d1" opacity="0.85"/><ellipse cx="371.4" cy="220.0" rx="1.6" ry="1.3" transform="rotate(-28 370.7 220.6)" fill="#b6aedc" opacity="0.85"/><ellipse cx="371.2" cy="220.8" rx="1.5" ry="1.4" transform="rotate(-11 370.7 220.6)" fill="#a199d1" opacity="0.85"/><ellipse cx="370.7" cy="220.6" rx="1.3" ry="1.0" transform="rotate(0 370.7 220.6)" fill="#8079bd" opacity="0.6"/><ellipse cx="371.6" cy="222.9" rx="1.4" ry="1.0" transform="rotate(-17 372.0 223.2)" fill="#a199d1" opacity="0.85"/><ellipse cx="372.7" cy="223.0" rx="1.5" ry="1.1" transform="rotate(1 372.0 223.2)" fill="#b6aedc" opacity="0.85"/><ellipse cx="372.3" cy="223.7" rx="1.4" ry="1.1" transform="rotate(-16 372.0 223.2)" fill="#a199d1" opacity="0.85"/><ellipse cx="372.1" cy="223.4" rx="1.2" ry="1.0" transform="rotate(0 372.0 223.2)" fill="#8079bd" opacity="0.6"/><ellipse cx="366.6" cy="230.5" rx="1.7" ry="1.5" transform="rotate(-8 366.8 230.4)" fill="#ada5d8" opacity="0.85"/><ellipse cx="365.6" cy="229.8" rx="2.1" ry="1.6" transform="rotate(13 366.8 230.4)" fill="#ada5d8" opacity="0.85"/><ellipse cx="367.1" cy="230.7" rx="1.9" ry="1.6" transform="rotate(14 366.8 230.4)" fill="#9890cb" opacity="0.85"/><ellipse cx="366.5" cy="230.6" rx="1.4" ry="1.2" transform="rotate(0 366.8 230.4)" fill="#8079bd" opacity="0.6"/><ellipse cx="368.4" cy="227.2" rx="1.8" ry="1.5" transform="rotate(-6 368.1 227.8)" fill="#9890cb" opacity="0.85"/><ellipse cx="369.0" cy="228.1" rx="1.6" ry="1.5" transform="rotate(23 368.1 227.8)" fill="#ada5d8" opacity="0.85"/><ellipse cx="368.9" cy="227.2" rx="1.3" ry="1.1" transform="rotate(5 368.1 227.8)" fill="#b6aedc" opacity="0.85"/><ellipse cx="368.2" cy="228.3" rx="1.3" ry="1.1" transform="rotate(0 368.1 227.8)" fill="#8079bd" opacity="0.6"/><ellipse cx="371.5" cy="230.3" rx="1.4" ry="1.5" transform="rotate(6 371.4 231.1)" fill="#9890cb" opacity="0.85"/><ellipse cx="371.3" cy="230.2" rx="1.6" ry="1.4" transform="rotate(35 371.4 231.1)" fill="#9890cb" opacity="0.85"/><ellipse cx="371.3" cy="230.9" rx="1.4" ry="1.4" transform="rotate(-23 371.4 231.1)" fill="#a199d1" opacity="0.85"/><ellipse cx="371.0" cy="230.5" rx="1.3" ry="1.1" transform="rotate(0 371.4 231.1)" fill="#8079bd" opacity="0.6"/><ellipse cx="373.5" cy="234.7" rx="2.2" ry="1.5" transform="rotate(-23 374.7 234.4)" fill="#ada5d8" opacity="0.85"/><ellipse cx="373.8" cy="233.5" rx="2.0" ry="1.2" transform="rotate(19 374.7 234.4)" fill="#ada5d8" opacity="0.85"/><ellipse cx="375.7" cy="234.2" rx="2.0" ry="1.5" transform="rotate(-28 374.7 234.4)" fill="#a199d1" opacity="0.85"/><ellipse cx="375.0" cy="234.2" rx="1.4" ry="1.1" transform="rotate(0 374.7 234.4)" fill="#8079bd" opacity="0.6"/><ellipse cx="379.2" cy="215.9" rx="1.4" ry="1.3" transform="rotate(17 379.3 215.3)" fill="#9890cb" opacity="0.85"/><ellipse cx="378.4" cy="215.9" rx="1.6" ry="1.2" transform="rotate(-9 379.3 215.3)" fill="#ada5d8" opacity="0.85"/><ellipse cx="379.8" cy="214.8" rx="1.7" ry="1.1" transform="rotate(-35 379.3 215.3)" fill="#b6aedc" opacity="0.85"/><ellipse cx="379.1" cy="215.4" rx="1.2" ry="0.9" transform="rotate(0 379.3 215.3)" fill="#8079bd" opacity="0.6"/><ellipse cx="379.9" cy="219.9" rx="2.1" ry="1.3" transform="rotate(36 380.0 220.6)" fill="#9890cb" opacity="0.85"/><ellipse cx="380.3" cy="220.4" rx="1.7" ry="1.7" transform="rotate(36 380.0 220.6)" fill="#a199d1" opacity="0.85"/><ellipse cx="379.5" cy="219.7" rx="2.1" ry="1.6" transform="rotate(26 380.0 220.6)" fill="#b6aedc" opacity="0.85"/><ellipse cx="379.8" cy="220.7" rx="1.4" ry="1.2" transform="rotate(0 380.0 220.6)" fill="#8079bd" opacity="0.6"/><ellipse cx="382.8" cy="229.7" rx="2.4" ry="2.3" transform="rotate(31 381.6 229.4)" fill="#ada5d8" opacity="0.85"/><ellipse cx="381.2" cy="229.0" rx="2.9" ry="2.1" transform="rotate(-4 381.6 229.4)" fill="#9890cb" opacity="0.85"/><ellipse cx="381.0" cy="228.7" rx="2.3" ry="2.8" transform="rotate(21 381.6 229.4)" fill="#ada5d8" opacity="0.85"/><ellipse cx="381.9" cy="229.1" rx="2.1" ry="1.9" transform="rotate(0 381.6 229.4)" fill="#8079bd" opacity="0.6"/><ellipse cx="385.3" cy="231.8" rx="2.7" ry="2.0" transform="rotate(28 384.2 230.7)" fill="#a199d1" opacity="0.85"/><ellipse cx="383.7" cy="229.5" rx="2.7" ry="2.5" transform="rotate(-24 384.2 230.7)" fill="#9890cb" opacity="0.85"/><ellipse cx="383.5" cy="229.4" rx="2.5" ry="2.4" transform="rotate(34 384.2 230.7)" fill="#a199d1" opacity="0.85"/><ellipse cx="384.3" cy="230.1" rx="2.1" ry="1.8" transform="rotate(0 384.2 230.7)" fill="#8079bd" opacity="0.6"/><ellipse cx="386.5" cy="224.1" rx="2.5" ry="2.2" transform="rotate(-21 386.6 225.2)" fill="#9890cb" opacity="0.85"/><ellipse cx="387.8" cy="225.3" rx="2.2" ry="2.0" transform="rotate(-25 386.6 225.2)" fill="#b6aedc" opacity="0.85"/><ellipse cx="385.4" cy="226.0" rx="2.1" ry="2.0" transform="rotate(-11 386.6 225.2)" fill="#a199d1" opacity="0.85"/><ellipse cx="386.9" cy="225.6" rx="1.8" ry="1.6" transform="rotate(0 386.6 225.2)" fill="#8079bd" opacity="0.6"/><ellipse cx="389.4" cy="228.3" rx="1.9" ry="1.5" transform="rotate(11 390.6 227.1)" fill="#a199d1" opacity="0.85"/><ellipse cx="389.7" cy="227.3" rx="1.8" ry="1.8" transform="rotate(-38 390.6 227.1)" fill="#ada5d8" opacity="0.85"/><ellipse cx="389.8" cy="228.0" rx="2.0" ry="1.9" transform="rotate(-23 390.6 227.1)" fill="#ada5d8" opacity="0.85"/><ellipse cx="391.1" cy="226.8" rx="1.6" ry="1.4" transform="rotate(0 390.6 227.1)" fill="#8079bd" opacity="0.6"/><ellipse cx="388.6" cy="232.4" rx="2.5" ry="2.3" transform="rotate(-20 387.3 231.7)" fill="#ada5d8" opacity="0.85"/><ellipse cx="386.8" cy="233.0" rx="2.1" ry="1.6" transform="rotate(-37 387.3 231.7)" fill="#ada5d8" opacity="0.85"/><ellipse cx="388.4" cy="231.6" rx="2.7" ry="2.3" transform="rotate(-35 387.3 231.7)" fill="#b6aedc" opacity="0.85"/><ellipse cx="387.4" cy="231.6" rx="1.8" ry="1.6" transform="rotate(0 387.3 231.7)" fill="#8079bd" opacity="0.6"/><ellipse cx="388.6" cy="235.0" rx="1.9" ry="1.6" transform="rotate(-33 388.0 236.0)" fill="#ada5d8" opacity="0.85"/><ellipse cx="387.1" cy="236.8" rx="2.0" ry="1.6" transform="rotate(18 388.0 236.0)" fill="#9890cb" opacity="0.85"/><ellipse cx="386.7" cy="235.4" rx="2.0" ry="2.1" transform="rotate(32 388.0 236.0)" fill="#a199d1" opacity="0.85"/><ellipse cx="388.4" cy="235.5" rx="1.7" ry="1.4" transform="rotate(0 388.0 236.0)" fill="#8079bd" opacity="0.6"/><ellipse cx="383.8" cy="239.2" rx="2.1" ry="1.9" transform="rotate(14 385.0 240.0)" fill="#9890cb" opacity="0.85"/><ellipse cx="385.2" cy="239.9" rx="2.1" ry="1.6" transform="rotate(-10 385.0 240.0)" fill="#b6aedc" opacity="0.85"/><ellipse cx="384.0" cy="240.0" rx="1.7" ry="1.5" transform="rotate(-29 385.0 240.0)" fill="#9890cb" opacity="0.85"/><ellipse cx="385.2" cy="239.4" rx="1.6" ry="1.3" transform="rotate(0 385.0 240.0)" fill="#8079bd" opacity="0.6"/><ellipse cx="380.7" cy="240.3" rx="2.0" ry="1.2" transform="rotate(9 380.0 241.0)" fill="#a199d1" opacity="0.85"/><ellipse cx="380.9" cy="240.3" rx="1.8" ry="1.3" transform="rotate(34 380.0 241.0)" fill="#b6aedc" opacity="0.85"/><ellipse cx="380.3" cy="240.9" rx="1.7" ry="1.7" transform="rotate(-2 380.0 241.0)" fill="#ada5d8" opacity="0.85"/><ellipse cx="380.2" cy="240.6" rx="1.4" ry="1.2" transform="rotate(0 380.0 241.0)" fill="#8079bd" opacity="0.6"/><ellipse cx="376.6" cy="242.9" rx="1.8" ry="1.7" transform="rotate(-5 376.0 243.5)" fill="#a199d1" opacity="0.85"/><ellipse cx="375.4" cy="243.3" rx="1.6" ry="1.4" transform="rotate(27 376.0 243.5)" fill="#a199d1" opacity="0.85"/><ellipse cx="376.8" cy="243.0" rx="1.6" ry="1.5" transform="rotate(-1 376.0 243.5)" fill="#b6aedc" opacity="0.85"/><ellipse cx="375.6" cy="243.5" rx="1.5" ry="1.2" transform="rotate(0 376.0 243.5)" fill="#8079bd" opacity="0.6"/><ellipse cx="378.1" cy="236.7" rx="1.5" ry="1.7" transform="rotate(38 378.0 236.0)" fill="#a199d1" opacity="0.85"/><ellipse cx="379.2" cy="237.0" rx="2.1" ry="1.3" transform="rotate(-17 378.0 236.0)" fill="#9890cb" opacity="0.85"/><ellipse cx="376.9" cy="236.5" rx="1.7" ry="1.8" transform="rotate(-39 378.0 236.0)" fill="#a199d1" opacity="0.85"/><ellipse cx="378.4" cy="235.8" rx="1.4" ry="1.2" transform="rotate(0 378.0 236.0)" fill="#8079bd" opacity="0.6"/><ellipse cx="374.9" cy="239.5" rx="1.8" ry="1.1" transform="rotate(-11 375.0 239.0)" fill="#a199d1" opacity="0.85"/><ellipse cx="375.8" cy="238.5" rx="1.5" ry="1.0" transform="rotate(-26 375.0 239.0)" fill="#ada5d8" opacity="0.85"/><ellipse cx="375.4" cy="238.5" rx="1.2" ry="1.0" transform="rotate(9 375.0 239.0)" fill="#a199d1" opacity="0.85"/><ellipse cx="375.0" cy="238.7" rx="1.2" ry="1.0" transform="rotate(0 375.0 239.0)" fill="#8079bd" opacity="0.6"/><ellipse cx="394.3" cy="219.6" rx="2.1" ry="1.4" transform="rotate(-15 395.2 219.2)" fill="#a199d1" opacity="0.85"/><ellipse cx="394.1" cy="219.7" rx="1.9" ry="1.8" transform="rotate(-36 395.2 219.2)" fill="#ada5d8" opacity="0.85"/><ellipse cx="394.8" cy="220.0" rx="2.2" ry="1.6" transform="rotate(-39 395.2 219.2)" fill="#b6aedc" opacity="0.85"/><ellipse cx="395.7" cy="219.2" rx="1.6" ry="1.3" transform="rotate(0 395.2 219.2)" fill="#8079bd" opacity="0.6"/><ellipse cx="396.6" cy="228.5" rx="2.1" ry="1.2" transform="rotate(16 397.2 228.4)" fill="#b6aedc" opacity="0.85"/><ellipse cx="396.9" cy="229.3" rx="2.1" ry="1.2" transform="rotate(-11 397.2 228.4)" fill="#ada5d8" opacity="0.85"/><ellipse cx="398.0" cy="229.1" rx="1.7" ry="1.6" transform="rotate(-9 397.2 228.4)" fill="#a199d1" opacity="0.85"/><ellipse cx="397.5" cy="227.9" rx="1.4" ry="1.2" transform="rotate(0 397.2 228.4)" fill="#8079bd" opacity="0.6"/><ellipse cx="406.8" cy="226.5" rx="1.8" ry="1.4" transform="rotate(3 405.7 226.5)" fill="#ada5d8" opacity="0.85"/><ellipse cx="405.1" cy="225.8" rx="1.9" ry="1.2" transform="rotate(-15 405.7 226.5)" fill="#ada5d8" opacity="0.85"/><ellipse cx="404.5" cy="227.3" rx="2.0" ry="1.2" transform="rotate(27 405.7 226.5)" fill="#ada5d8" opacity="0.85"/><ellipse cx="405.9" cy="226.5" rx="1.4" ry="1.1" transform="rotate(0 405.7 226.5)" fill="#8079bd" opacity="0.6"/><ellipse cx="412.9" cy="219.0" rx="3.9" ry="1.0" transform="rotate(24 412.0 219.5)" fill="#a199d1" opacity="0.85"/><ellipse cx="411.8" cy="219.6" rx="3.7" ry="0.8" transform="rotate(30 412.0 219.5)" fill="#ada5d8" opacity="0.85"/><ellipse cx="412.2" cy="219.2" rx="3.0" ry="1.0" transform="rotate(57 412.0 219.5)" fill="#a199d1" opacity="0.85"/><ellipse cx="411.9" cy="220.0" rx="2.7" ry="0.7" transform="rotate(60 412.0 219.5)" fill="#8079bd" opacity="0.6"/><ellipse cx="400.2" cy="243.7" rx="2.0" ry="2.0" transform="rotate(2 399.0 244.0)" fill="#ada5d8" opacity="0.85"/><ellipse cx="400.3" cy="242.9" rx="2.0" ry="1.7" transform="rotate(27 399.0 244.0)" fill="#9890cb" opacity="0.85"/><ellipse cx="400.0" cy="244.2" rx="2.5" ry="1.7" transform="rotate(-8 399.0 244.0)" fill="#9890cb" opacity="0.85"/><ellipse cx="399.1" cy="243.8" rx="1.7" ry="1.4" transform="rotate(0 399.0 244.0)" fill="#8079bd" opacity="0.6"/><ellipse cx="404.4" cy="248.1" rx="2.0" ry="1.9" transform="rotate(11 403.0 247.0)" fill="#a199d1" opacity="0.85"/><ellipse cx="401.8" cy="246.2" rx="2.1" ry="1.7" transform="rotate(14 403.0 247.0)" fill="#b6aedc" opacity="0.85"/><ellipse cx="401.9" cy="248.2" rx="2.5" ry="2.3" transform="rotate(11 403.0 247.0)" fill="#a199d1" opacity="0.85"/><ellipse cx="403.4" cy="247.5" rx="1.8" ry="1.6" transform="rotate(0 403.0 247.0)" fill="#8079bd" opacity="0.6"/><ellipse cx="405.6" cy="249.4" rx="2.0" ry="2.1" transform="rotate(-18 407.0 249.0)" fill="#ada5d8" opacity="0.85"/><ellipse cx="407.4" cy="248.4" rx="2.3" ry="1.9" transform="rotate(36 407.0 249.0)" fill="#ada5d8" opacity="0.85"/><ellipse cx="405.8" cy="248.6" rx="2.0" ry="1.6" transform="rotate(37 407.0 249.0)" fill="#b6aedc" opacity="0.85"/><ellipse cx="407.5" cy="249.5" rx="1.8" ry="1.6" transform="rotate(0 407.0 249.0)" fill="#8079bd" opacity="0.6"/><ellipse cx="403.9" cy="252.1" rx="1.9" ry="1.7" transform="rotate(-29 404.0 252.0)" fill="#ada5d8" opacity="0.85"/><ellipse cx="405.2" cy="252.2" rx="2.0" ry="2.1" transform="rotate(19 404.0 252.0)" fill="#b6aedc" opacity="0.85"/><ellipse cx="405.0" cy="252.3" rx="2.3" ry="2.1" transform="rotate(-24 404.0 252.0)" fill="#b6aedc" opacity="0.85"/><ellipse cx="404.3" cy="252.0" rx="1.8" ry="1.6" transform="rotate(0 404.0 252.0)" fill="#8079bd" opacity="0.6"/><ellipse cx="409.3" cy="251.9" rx="1.8" ry="1.6" transform="rotate(-22 409.0 252.0)" fill="#b6aedc" opacity="0.85"/><ellipse cx="410.2" cy="251.8" rx="2.3" ry="1.6" transform="rotate(36 409.0 252.0)" fill="#9890cb" opacity="0.85"/><ellipse cx="409.1" cy="252.0" rx="1.8" ry="2.2" transform="rotate(-16 409.0 252.0)" fill="#b6aedc" opacity="0.85"/><ellipse cx="409.3" cy="251.6" rx="1.6" ry="1.4" transform="rotate(0 409.0 252.0)" fill="#8079bd" opacity="0.6"/><ellipse cx="406.3" cy="255.6" rx="2.4" ry="1.8" transform="rotate(27 406.0 256.0)" fill="#ada5d8" opacity="0.85"/><ellipse cx="406.7" cy="255.1" rx="2.0" ry="2.1" transform="rotate(19 406.0 256.0)" fill="#b6aedc" opacity="0.85"/><ellipse cx="405.8" cy="256.4" rx="1.9" ry="1.6" transform="rotate(9 406.0 256.0)" fill="#a199d1" opacity="0.85"/><ellipse cx="405.7" cy="256.4" rx="1.8" ry="1.4" transform="rotate(0 406.0 256.0)" fill="#8079bd" opacity="0.6"/><ellipse cx="402.6" cy="258.0" rx="2.2" ry="1.5" transform="rotate(23 402.0 257.5)" fill="#ada5d8" opacity="0.85"/><ellipse cx="401.8" cy="256.7" rx="1.9" ry="1.5" transform="rotate(-31 402.0 257.5)" fill="#a199d1" opacity="0.85"/><ellipse cx="403.2" cy="257.6" rx="1.9" ry="1.7" transform="rotate(30 402.0 257.5)" fill="#9890cb" opacity="0.85"/><ellipse cx="402.1" cy="257.4" rx="1.6" ry="1.2" transform="rotate(0 402.0 257.5)" fill="#8079bd" opacity="0.6"/><ellipse cx="410.5" cy="256.6" rx="1.7" ry="1.4" transform="rotate(2 410.0 257.0)" fill="#9890cb" opacity="0.85"/><ellipse cx="410.4" cy="256.0" rx="2.0" ry="1.8" transform="rotate(-10 410.0 257.0)" fill="#9890cb" opacity="0.85"/><ellipse cx="409.2" cy="256.6" rx="1.5" ry="1.5" transform="rotate(7 410.0 257.0)" fill="#b6aedc" opacity="0.85"/><ellipse cx="409.5" cy="257.5" rx="1.4" ry="1.2" transform="rotate(0 410.0 257.0)" fill="#8079bd" opacity="0.6"/><ellipse cx="413.0" cy="246.2" rx="1.5" ry="1.4" transform="rotate(38 412.0 246.0)" fill="#b6aedc" opacity="0.85"/><ellipse cx="411.0" cy="245.5" rx="1.9" ry="1.4" transform="rotate(3 412.0 246.0)" fill="#ada5d8" opacity="0.85"/><ellipse cx="412.1" cy="247.0" rx="1.7" ry="1.5" transform="rotate(15 412.0 246.0)" fill="#b6aedc" opacity="0.85"/><ellipse cx="411.9" cy="245.8" rx="1.3" ry="1.2" transform="rotate(0 412.0 246.0)" fill="#8079bd" opacity="0.6"/><ellipse cx="399.9" cy="250.0" rx="1.4" ry="1.3" transform="rotate(-7 400.0 251.0)" fill="#b6aedc" opacity="0.85"/><ellipse cx="400.3" cy="251.9" rx="1.4" ry="1.3" transform="rotate(-6 400.0 251.0)" fill="#9890cb" opacity="0.85"/><ellipse cx="399.9" cy="251.2" rx="2.0" ry="1.4" transform="rotate(2 400.0 251.0)" fill="#9890cb" opacity="0.85"/><ellipse cx="400.4" cy="250.6" rx="1.3" ry="1.2" transform="rotate(0 400.0 251.0)" fill="#8079bd" opacity="0.6"/><ellipse cx="398.2" cy="239.2" rx="1.5" ry="1.3" transform="rotate(12 398.5 240.0)" fill="#b6aedc" opacity="0.85"/><ellipse cx="398.9" cy="240.6" rx="2.0" ry="1.7" transform="rotate(-6 398.5 240.0)" fill="#b6aedc" opacity="0.85"/><ellipse cx="398.6" cy="240.6" rx="1.5" ry="1.7" transform="rotate(-7 398.5 240.0)" fill="#a199d1" opacity="0.85"/><ellipse cx="398.0" cy="240.1" rx="1.3" ry="1.2" transform="rotate(0 398.5 240.0)" fill="#8079bd" opacity="0.6"/><ellipse cx="409.2" cy="242.0" rx="1.7" ry="1.2" transform="rotate(-7 409.5 241.0)" fill="#ada5d8" opacity="0.85"/><ellipse cx="409.1" cy="241.4" rx="1.3" ry="1.4" transform="rotate(27 409.5 241.0)" fill="#ada5d8" opacity="0.85"/><ellipse cx="409.9" cy="240.4" rx="1.6" ry="1.5" transform="rotate(-19 409.5 241.0)" fill="#ada5d8" opacity="0.85"/><ellipse cx="409.7" cy="241.0" rx="1.3" ry="1.2" transform="rotate(0 409.5 241.0)" fill="#8079bd" opacity="0.6"/><ellipse cx="360.2" cy="242.8" rx="1.8" ry="1.6" transform="rotate(21 360.0 243.0)" fill="#a199d1" opacity="0.85"/><ellipse cx="358.7" cy="242.0" rx="2.5" ry="1.8" transform="rotate(-3 360.0 243.0)" fill="#ada5d8" opacity="0.85"/><ellipse cx="360.9" cy="241.9" rx="1.7" ry="2.0" transform="rotate(-14 360.0 243.0)" fill="#9890cb" opacity="0.85"/><ellipse cx="360.3" cy="242.8" rx="1.7" ry="1.4" transform="rotate(0 360.0 243.0)" fill="#8079bd" opacity="0.6"/><ellipse cx="360.6" cy="246.8" rx="2.6" ry="2.3" transform="rotate(-35 362.0 246.5)" fill="#a199d1" opacity="0.85"/><ellipse cx="361.8" cy="246.2" rx="1.8" ry="2.3" transform="rotate(7 362.0 246.5)" fill="#a199d1" opacity="0.85"/><ellipse cx="361.8" cy="246.8" rx="2.0" ry="1.6" transform="rotate(34 362.0 246.5)" fill="#ada5d8" opacity="0.85"/><ellipse cx="362.4" cy="246.3" rx="1.8" ry="1.6" transform="rotate(0 362.0 246.5)" fill="#8079bd" opacity="0.6"/><ellipse cx="359.4" cy="250.3" rx="2.8" ry="2.2" transform="rotate(36 360.0 250.0)" fill="#9890cb" opacity="0.85"/><ellipse cx="360.6" cy="250.5" rx="2.5" ry="2.2" transform="rotate(-8 360.0 250.0)" fill="#a199d1" opacity="0.85"/><ellipse cx="358.5" cy="251.1" rx="2.0" ry="2.0" transform="rotate(-10 360.0 250.0)" fill="#9890cb" opacity="0.85"/><ellipse cx="359.4" cy="250.5" rx="1.9" ry="1.8" transform="rotate(0 360.0 250.0)" fill="#8079bd" opacity="0.6"/><ellipse cx="358.2" cy="253.0" rx="2.3" ry="1.9" transform="rotate(-8 358.0 254.0)" fill="#9890cb" opacity="0.85"/><ellipse cx="359.4" cy="253.8" rx="2.6" ry="2.0" transform="rotate(-9 358.0 254.0)" fill="#ada5d8" opacity="0.85"/><ellipse cx="357.4" cy="253.3" rx="1.8" ry="2.1" transform="rotate(-13 358.0 254.0)" fill="#9890cb" opacity="0.85"/><ellipse cx="357.6" cy="254.2" rx="1.8" ry="1.6" transform="rotate(0 358.0 254.0)" fill="#8079bd" opacity="0.6"/><ellipse cx="361.2" cy="256.1" rx="2.2" ry="1.7" transform="rotate(-3 362.0 256.0)" fill="#ada5d8" opacity="0.85"/><ellipse cx="361.1" cy="255.7" rx="2.1" ry="1.6" transform="rotate(37 362.0 256.0)" fill="#a199d1" opacity="0.85"/><ellipse cx="361.5" cy="255.9" rx="1.7" ry="1.9" transform="rotate(14 362.0 256.0)" fill="#a199d1" opacity="0.85"/><ellipse cx="362.5" cy="256.6" rx="1.6" ry="1.3" transform="rotate(0 362.0 256.0)" fill="#8079bd" opacity="0.6"/><ellipse cx="355.2" cy="244.8" rx="1.5" ry="1.4" transform="rotate(-23 355.0 245.0)" fill="#9890cb" opacity="0.85"/><ellipse cx="355.4" cy="244.3" rx="1.9" ry="1.5" transform="rotate(21 355.0 245.0)" fill="#ada5d8" opacity="0.85"/><ellipse cx="355.3" cy="245.1" rx="1.5" ry="1.3" transform="rotate(-33 355.0 245.0)" fill="#ada5d8" opacity="0.85"/><ellipse cx="354.6" cy="245.4" rx="1.3" ry="1.1" transform="rotate(0 355.0 245.0)" fill="#8079bd" opacity="0.6"/><ellipse cx="363.3" cy="241.8" rx="1.5" ry="1.7" transform="rotate(24 364.0 241.0)" fill="#b6aedc" opacity="0.85"/><ellipse cx="363.3" cy="241.4" rx="1.5" ry="1.4" transform="rotate(25 364.0 241.0)" fill="#b6aedc" opacity="0.85"/><ellipse cx="363.5" cy="240.8" rx="2.1" ry="1.7" transform="rotate(31 364.0 241.0)" fill="#9890cb" opacity="0.85"/><ellipse cx="364.4" cy="240.6" rx="1.4" ry="1.2" transform="rotate(0 364.0 241.0)" fill="#8079bd" opacity="0.6"/><ellipse cx="360.1" cy="237.7" rx="2.0" ry="1.6" transform="rotate(32 360.9 238.0)" fill="#b6aedc" opacity="0.85"/><ellipse cx="361.3" cy="238.4" rx="1.6" ry="1.7" transform="rotate(-12 360.9 238.0)" fill="#ada5d8" opacity="0.85"/><ellipse cx="360.1" cy="237.2" rx="2.1" ry="1.6" transform="rotate(17 360.9 238.0)" fill="#ada5d8" opacity="0.85"/><ellipse cx="360.3" cy="237.4" rx="1.4" ry="1.2" transform="rotate(0 360.9 238.0)" fill="#8079bd" opacity="0.6"/><ellipse cx="364.7" cy="237.2" rx="1.3" ry="1.5" transform="rotate(4 364.8 236.7)" fill="#a199d1" opacity="0.85"/><ellipse cx="364.9" cy="236.2" rx="1.5" ry="1.4" transform="rotate(34 364.8 236.7)" fill="#a199d1" opacity="0.85"/><ellipse cx="365.7" cy="236.0" rx="1.7" ry="1.4" transform="rotate(32 364.8 236.7)" fill="#b6aedc" opacity="0.85"/><ellipse cx="365.3" cy="236.8" rx="1.2" ry="1.1" transform="rotate(0 364.8 236.7)" fill="#8079bd" opacity="0.6"/><ellipse cx="369.2" cy="258.0" rx="1.5" ry="1.1" transform="rotate(22 368.1 257.7)" fill="#ada5d8" opacity="0.85"/><ellipse cx="368.7" cy="257.0" rx="1.9" ry="1.1" transform="rotate(20 368.1 257.7)" fill="#b6aedc" opacity="0.85"/><ellipse cx="367.6" cy="257.0" rx="2.1" ry="1.2" transform="rotate(34 368.1 257.7)" fill="#a199d1" opacity="0.85"/><ellipse cx="368.3" cy="258.0" rx="1.4" ry="1.0" transform="rotate(0 368.1 257.7)" fill="#8079bd" opacity="0.6"/><ellipse cx="374.0" cy="239.9" rx="1.9" ry="1.8" transform="rotate(28 374.0 239.5)" fill="#9890cb" opacity="0.85"/><ellipse cx="374.0" cy="238.8" rx="2.5" ry="1.9" transform="rotate(5 374.0 239.5)" fill="#a199d1" opacity="0.85"/><ellipse cx="374.1" cy="240.5" rx="2.2" ry="1.7" transform="rotate(-20 374.0 239.5)" fill="#a199d1" opacity="0.85"/><ellipse cx="373.5" cy="239.3" rx="1.7" ry="1.3" transform="rotate(0 374.0 239.5)" fill="#8079bd" opacity="0.6"/><ellipse cx="376.9" cy="238.3" rx="1.7" ry="1.8" transform="rotate(-1 378.0 238.0)" fill="#9890cb" opacity="0.85"/><ellipse cx="377.3" cy="237.4" rx="2.0" ry="1.6" transform="rotate(35 378.0 238.0)" fill="#9890cb" opacity="0.85"/><ellipse cx="378.5" cy="237.2" rx="2.1" ry="1.7" transform="rotate(-21 378.0 238.0)" fill="#b6aedc" opacity="0.85"/><ellipse cx="378.2" cy="237.5" rx="1.6" ry="1.3" transform="rotate(0 378.0 238.0)" fill="#8079bd" opacity="0.6"/><ellipse cx="382.7" cy="236.3" rx="2.1" ry="1.6" transform="rotate(-3 382.0 237.0)" fill="#9890cb" opacity="0.85"/><ellipse cx="382.9" cy="236.2" rx="1.8" ry="1.4" transform="rotate(-23 382.0 237.0)" fill="#9890cb" opacity="0.85"/><ellipse cx="383.0" cy="236.6" rx="1.6" ry="1.4" transform="rotate(37 382.0 237.0)" fill="#ada5d8" opacity="0.85"/><ellipse cx="381.6" cy="236.9" rx="1.6" ry="1.2" transform="rotate(0 382.0 237.0)" fill="#8079bd" opacity="0.6"/><ellipse cx="376.0" cy="242.6" rx="1.4" ry="1.3" transform="rotate(38 376.5 242.5)" fill="#b6aedc" opacity="0.85"/><ellipse cx="375.6" cy="242.9" rx="2.0" ry="1.4" transform="rotate(-31 376.5 242.5)" fill="#9890cb" opacity="0.85"/><ellipse cx="377.5" cy="242.5" rx="1.8" ry="1.3" transform="rotate(-11 376.5 242.5)" fill="#9890cb" opacity="0.85"/><ellipse cx="376.0" cy="242.2" rx="1.3" ry="1.1" transform="rotate(0 376.5 242.5)" fill="#8079bd" opacity="0.6"/><ellipse cx="384.4" cy="238.2" rx="2.0" ry="1.2" transform="rotate(-8 384.0 239.0)" fill="#b6aedc" opacity="0.85"/><ellipse cx="383.5" cy="238.4" rx="1.9" ry="1.7" transform="rotate(34 384.0 239.0)" fill="#a199d1" opacity="0.85"/><ellipse cx="383.0" cy="239.4" rx="1.7" ry="1.6" transform="rotate(-10 384.0 239.0)" fill="#a199d1" opacity="0.85"/><ellipse cx="384.2" cy="238.8" rx="1.4" ry="1.2" transform="rotate(0 384.0 239.0)" fill="#8079bd" opacity="0.6"/><ellipse cx="385.7" cy="241.1" rx="1.6" ry="1.5" transform="rotate(-21 386.0 241.0)" fill="#a199d1" opacity="0.85"/><ellipse cx="385.1" cy="241.5" rx="1.9" ry="1.6" transform="rotate(-8 386.0 241.0)" fill="#ada5d8" opacity="0.85"/><ellipse cx="387.0" cy="241.0" rx="1.6" ry="1.2" transform="rotate(-16 386.0 241.0)" fill="#ada5d8" opacity="0.85"/><ellipse cx="386.1" cy="240.5" rx="1.3" ry="1.1" transform="rotate(0 386.0 241.0)" fill="#8079bd" opacity="0.6"/><ellipse cx="392.1" cy="247.0" rx="1.2" ry="1.9" transform="rotate(-37 392.6 247.2)" fill="#a199d1" opacity="0.85"/><ellipse cx="392.6" cy="246.4" rx="1.0" ry="1.8" transform="rotate(9 392.6 247.2)" fill="#9890cb" opacity="0.85"/><ellipse cx="392.1" cy="245.9" rx="0.9" ry="2.4" transform="rotate(31 392.6 247.2)" fill="#9890cb" opacity="0.85"/><ellipse cx="392.1" cy="246.6" rx="0.8" ry="1.8" transform="rotate(0 392.6 247.2)" fill="#8079bd" opacity="0.6"/><ellipse cx="387.2" cy="255.7" rx="1.0" ry="1.8" transform="rotate(5 386.6 256.5)" fill="#a199d1" opacity="0.85"/><ellipse cx="386.7" cy="256.4" rx="1.1" ry="1.9" transform="rotate(-6 386.6 256.5)" fill="#b6aedc" opacity="0.85"/><ellipse cx="387.3" cy="257.7" rx="1.1" ry="2.1" transform="rotate(-35 386.6 256.5)" fill="#a199d1" opacity="0.85"/><ellipse cx="386.8" cy="256.6" rx="0.8" ry="1.5" transform="rotate(0 386.6 256.5)" fill="#8079bd" opacity="0.6"/></g><g filter="url(#bl2)"><circle cx="354.6" cy="221.4" r="0.86" fill="#a32236" opacity="0.8"/><circle cx="355.0" cy="221.5" r="0.65" fill="#a32236" opacity="0.8"/><circle cx="354.7" cy="222.0" r="0.56" fill="#a32236" opacity="0.8"/><circle cx="356.9" cy="225.6" r="0.76" fill="#a32236" opacity="0.8"/><circle cx="356.6" cy="225.6" r="0.73" fill="#a32236" opacity="0.8"/><circle cx="357.8" cy="225.0" r="0.79" fill="#a32236" opacity="0.8"/><circle cx="356.4" cy="228.9" r="0.59" fill="#a32236" opacity="0.8"/><circle cx="355.6" cy="230.0" r="0.73" fill="#a32236" opacity="0.8"/><circle cx="355.4" cy="229.9" r="0.63" fill="#a32236" opacity="0.8"/><circle cx="358.6" cy="233.8" r="0.69" fill="#a32236" opacity="0.8"/><circle cx="359.6" cy="233.8" r="0.68" fill="#a32236" opacity="0.8"/><circle cx="359.8" cy="232.8" r="0.78" fill="#a32236" opacity="0.8"/><circle cx="364.4" cy="234.9" r="0.62" fill="#a32236" opacity="0.8"/><circle cx="363.3" cy="235.6" r="0.76" fill="#a32236" opacity="0.8"/><circle cx="364.3" cy="236.1" r="0.73" fill="#a32236" opacity="0.8"/><circle cx="352.9" cy="220.3" r="0.57" fill="#a32236" opacity="0.8"/><circle cx="352.9" cy="220.0" r="0.49" fill="#a32236" opacity="0.8"/><circle cx="353.0" cy="220.2" r="0.54" fill="#a32236" opacity="0.8"/><circle cx="359.2" cy="230.4" r="0.59" fill="#a32236" opacity="0.8"/><circle cx="358.1" cy="230.6" r="0.49" fill="#a32236" opacity="0.8"/><circle cx="358.0" cy="231.2" r="0.45" fill="#a32236" opacity="0.8"/><circle cx="361.2" cy="236.8" r="0.50" fill="#a32236" opacity="0.8"/><circle cx="362.1" cy="236.7" r="0.61" fill="#a32236" opacity="0.8"/><circle cx="361.6" cy="237.2" r="0.61" fill="#a32236" opacity="0.8"/><circle cx="355.5" cy="224.3" r="0.42" fill="#a32236" opacity="0.8"/><circle cx="356.4" cy="224.3" r="0.52" fill="#a32236" opacity="0.8"/><circle cx="355.5" cy="223.8" r="0.50" fill="#a32236" opacity="0.8"/><circle cx="372.9" cy="223.6" r="0.51" fill="#a32236" opacity="0.8"/><circle cx="372.2" cy="222.4" r="0.66" fill="#a32236" opacity="0.8"/><circle cx="372.6" cy="222.4" r="0.78" fill="#a32236" opacity="0.8"/><circle cx="371.8" cy="230.6" r="0.56" fill="#a32236" opacity="0.8"/><circle cx="371.3" cy="231.8" r="0.67" fill="#a32236" opacity="0.8"/><circle cx="370.6" cy="230.1" r="0.53" fill="#a32236" opacity="0.8"/><circle cx="375.4" cy="233.7" r="0.73" fill="#a32236" opacity="0.8"/><circle cx="374.2" cy="234.8" r="0.68" fill="#a32236" opacity="0.8"/><circle cx="373.9" cy="235.2" r="0.73" fill="#a32236" opacity="0.8"/><circle cx="366.2" cy="228.4" r="0.47" fill="#a32236" opacity="0.8"/><circle cx="365.4" cy="227.8" r="0.33" fill="#a32236" opacity="0.8"/><circle cx="366.0" cy="228.4" r="0.44" fill="#a32236" opacity="0.8"/><circle cx="368.4" cy="232.6" r="0.45" fill="#a32236" opacity="0.8"/><circle cx="369.2" cy="232.9" r="0.39" fill="#a32236" opacity="0.8"/><circle cx="368.6" cy="233.4" r="0.37" fill="#a32236" opacity="0.8"/><circle cx="380.0" cy="215.5" r="0.52" fill="#a32236" opacity="0.8"/><circle cx="379.0" cy="214.7" r="0.77" fill="#a32236" opacity="0.8"/><circle cx="379.5" cy="214.4" r="0.55" fill="#a32236" opacity="0.8"/><circle cx="380.9" cy="228.3" r="0.94" fill="#a32236" opacity="0.8"/><circle cx="381.0" cy="228.0" r="0.70" fill="#a32236" opacity="0.8"/><circle cx="381.5" cy="227.9" r="0.71" fill="#a32236" opacity="0.8"/><circle cx="383.9" cy="227.2" r="0.62" fill="#a32236" opacity="0.8"/><circle cx="383.1" cy="226.4" r="0.70" fill="#a32236" opacity="0.8"/><circle cx="383.5" cy="226.0" r="0.69" fill="#a32236" opacity="0.8"/><circle cx="386.8" cy="225.3" r="1.02" fill="#a32236" opacity="0.8"/><circle cx="387.9" cy="224.0" r="0.87" fill="#a32236" opacity="0.8"/><circle cx="387.3" cy="226.2" r="0.95" fill="#a32236" opacity="0.8"/><circle cx="388.3" cy="223.8" r="0.61" fill="#a32236" opacity="0.8"/><circle cx="387.6" cy="224.1" r="0.76" fill="#a32236" opacity="0.8"/><circle cx="388.9" cy="223.9" r="0.59" fill="#a32236" opacity="0.8"/><circle cx="385.5" cy="230.0" r="0.65" fill="#a32236" opacity="0.8"/><circle cx="385.3" cy="229.2" r="0.67" fill="#a32236" opacity="0.8"/><circle cx="384.8" cy="228.6" r="0.60" fill="#a32236" opacity="0.8"/><circle cx="390.2" cy="228.1" r="0.64" fill="#a32236" opacity="0.8"/><circle cx="390.3" cy="226.6" r="0.57" fill="#a32236" opacity="0.8"/><circle cx="390.3" cy="226.4" r="0.50" fill="#a32236" opacity="0.8"/><circle cx="387.7" cy="232.9" r="0.57" fill="#a32236" opacity="0.8"/><circle cx="387.1" cy="232.6" r="0.50" fill="#a32236" opacity="0.8"/><circle cx="386.2" cy="232.6" r="0.53" fill="#a32236" opacity="0.8"/><circle cx="383.4" cy="232.1" r="0.62" fill="#a32236" opacity="0.8"/><circle cx="382.7" cy="232.7" r="0.54" fill="#a32236" opacity="0.8"/><circle cx="382.3" cy="231.5" r="0.54" fill="#a32236" opacity="0.8"/><circle cx="380.9" cy="225.2" r="0.66" fill="#a32236" opacity="0.8"/><circle cx="379.9" cy="226.2" r="0.47" fill="#a32236" opacity="0.8"/><circle cx="380.0" cy="226.2" r="0.52" fill="#a32236" opacity="0.8"/><circle cx="388.6" cy="237.2" r="0.44" fill="#a32236" opacity="0.8"/><circle cx="388.6" cy="238.3" r="0.45" fill="#a32236" opacity="0.8"/><circle cx="388.8" cy="237.5" r="0.54" fill="#a32236" opacity="0.8"/><circle cx="378.6" cy="233.2" r="0.45" fill="#a32236" opacity="0.8"/><circle cx="378.4" cy="233.7" r="0.54" fill="#a32236" opacity="0.8"/><circle cx="377.3" cy="233.5" r="0.61" fill="#a32236" opacity="0.8"/><circle cx="381.7" cy="237.8" r="0.50" fill="#a32236" opacity="0.8"/><circle cx="382.1" cy="239.2" r="0.62" fill="#a32236" opacity="0.8"/><circle cx="382.8" cy="238.0" r="0.54" fill="#a32236" opacity="0.8"/><circle cx="396.4" cy="218.1" r="0.62" fill="#a32236" opacity="0.8"/><circle cx="396.3" cy="217.5" r="0.52" fill="#a32236" opacity="0.8"/><circle cx="395.7" cy="216.9" r="0.69" fill="#a32236" opacity="0.8"/><circle cx="402.1" cy="225.8" r="0.68" fill="#a32236" opacity="0.8"/><circle cx="401.9" cy="225.7" r="0.50" fill="#a32236" opacity="0.8"/><circle cx="403.3" cy="225.9" r="0.80" fill="#a32236" opacity="0.8"/><circle cx="407.4" cy="228.0" r="0.72" fill="#a32236" opacity="0.8"/><circle cx="408.0" cy="227.0" r="0.55" fill="#a32236" opacity="0.8"/><circle cx="407.6" cy="228.3" r="0.53" fill="#a32236" opacity="0.8"/><circle cx="410.1" cy="215.2" r="0.46" fill="#a32236" opacity="0.8"/><circle cx="409.8" cy="215.4" r="0.49" fill="#a32236" opacity="0.8"/><circle cx="409.8" cy="215.1" r="0.51" fill="#a32236" opacity="0.8"/><circle cx="414.2" cy="223.8" r="0.44" fill="#a32236" opacity="0.8"/><circle cx="414.8" cy="223.3" r="0.44" fill="#a32236" opacity="0.8"/><circle cx="415.1" cy="223.4" r="0.35" fill="#a32236" opacity="0.8"/><circle cx="402.4" cy="245.5" r="0.54" fill="#a32236" opacity="0.8"/><circle cx="401.4" cy="244.6" r="0.70" fill="#a32236" opacity="0.8"/><circle cx="402.9" cy="244.3" r="0.80" fill="#a32236" opacity="0.8"/><circle cx="409.7" cy="247.1" r="0.58" fill="#a32236" opacity="0.8"/><circle cx="409.3" cy="245.7" r="0.57" fill="#a32236" opacity="0.8"/><circle cx="410.3" cy="246.6" r="0.61" fill="#a32236" opacity="0.8"/><circle cx="406.1" cy="253.5" r="0.65" fill="#a32236" opacity="0.8"/><circle cx="404.2" cy="254.4" r="0.93" fill="#a32236" opacity="0.8"/><circle cx="404.2" cy="252.7" r="0.88" fill="#a32236" opacity="0.8"/><circle cx="406.4" cy="257.5" r="0.71" fill="#a32236" opacity="0.8"/><circle cx="407.3" cy="256.1" r="0.81" fill="#a32236" opacity="0.8"/><circle cx="406.9" cy="256.0" r="0.85" fill="#a32236" opacity="0.8"/><circle cx="400.9" cy="259.6" r="0.62" fill="#a32236" opacity="0.8"/><circle cx="402.1" cy="258.8" r="0.91" fill="#a32236" opacity="0.8"/><circle cx="400.7" cy="259.2" r="0.75" fill="#a32236" opacity="0.8"/><circle cx="399.7" cy="248.7" r="0.55" fill="#a32236" opacity="0.8"/><circle cx="398.6" cy="247.6" r="0.46" fill="#a32236" opacity="0.8"/><circle cx="398.9" cy="247.6" r="0.45" fill="#a32236" opacity="0.8"/><circle cx="404.4" cy="249.7" r="0.47" fill="#a32236" opacity="0.8"/><circle cx="404.8" cy="249.0" r="0.54" fill="#a32236" opacity="0.8"/><circle cx="403.5" cy="250.1" r="0.61" fill="#a32236" opacity="0.8"/><circle cx="407.6" cy="250.9" r="0.60" fill="#a32236" opacity="0.8"/><circle cx="407.7" cy="250.2" r="0.52" fill="#a32236" opacity="0.8"/><circle cx="408.6" cy="250.0" r="0.56" fill="#a32236" opacity="0.8"/><circle cx="411.1" cy="253.9" r="0.47" fill="#a32236" opacity="0.8"/><circle cx="411.5" cy="253.6" r="0.54" fill="#a32236" opacity="0.8"/><circle cx="410.8" cy="254.4" r="0.53" fill="#a32236" opacity="0.8"/><circle cx="397.0" cy="255.6" r="0.64" fill="#a32236" opacity="0.8"/><circle cx="397.2" cy="254.2" r="0.43" fill="#a32236" opacity="0.8"/><circle cx="398.3" cy="254.2" r="0.62" fill="#a32236" opacity="0.8"/><circle cx="405.5" cy="244.3" r="0.37" fill="#a32236" opacity="0.8"/><circle cx="405.5" cy="244.3" r="0.37" fill="#a32236" opacity="0.8"/><circle cx="405.8" cy="244.6" r="0.50" fill="#a32236" opacity="0.8"/><circle cx="354.4" cy="244.9" r="0.51" fill="#a32236" opacity="0.8"/><circle cx="353.1" cy="244.5" r="0.71" fill="#a32236" opacity="0.8"/><circle cx="352.7" cy="243.9" r="0.57" fill="#a32236" opacity="0.8"/><circle cx="353.4" cy="253.5" r="0.56" fill="#a32236" opacity="0.8"/><circle cx="354.7" cy="254.0" r="0.84" fill="#a32236" opacity="0.8"/><circle cx="352.8" cy="254.4" r="0.59" fill="#a32236" opacity="0.8"/><circle cx="358.7" cy="256.3" r="0.78" fill="#a32236" opacity="0.8"/><circle cx="358.1" cy="257.5" r="0.72" fill="#a32236" opacity="0.8"/><circle cx="358.0" cy="256.7" r="0.71" fill="#a32236" opacity="0.8"/><circle cx="366.3" cy="256.7" r="0.56" fill="#a32236" opacity="0.8"/><circle cx="366.4" cy="257.8" r="0.72" fill="#a32236" opacity="0.8"/><circle cx="365.0" cy="256.4" r="0.58" fill="#a32236" opacity="0.8"/><circle cx="369.2" cy="257.5" r="0.65" fill="#a32236" opacity="0.8"/><circle cx="369.9" cy="258.5" r="0.61" fill="#a32236" opacity="0.8"/><circle cx="369.1" cy="258.8" r="0.70" fill="#a32236" opacity="0.8"/><circle cx="361.6" cy="252.6" r="0.71" fill="#a32236" opacity="0.8"/><circle cx="362.5" cy="253.2" r="0.72" fill="#a32236" opacity="0.8"/><circle cx="361.3" cy="252.1" r="0.63" fill="#a32236" opacity="0.8"/><circle cx="373.6" cy="239.8" r="0.62" fill="#a32236" opacity="0.8"/><circle cx="372.5" cy="239.3" r="0.80" fill="#a32236" opacity="0.8"/><circle cx="371.7" cy="240.2" r="0.78" fill="#a32236" opacity="0.8"/><circle cx="374.6" cy="238.2" r="0.49" fill="#a32236" opacity="0.8"/><circle cx="374.6" cy="237.5" r="0.43" fill="#a32236" opacity="0.8"/><circle cx="375.5" cy="238.5" r="0.62" fill="#a32236" opacity="0.8"/><circle cx="379.3" cy="240.3" r="0.48" fill="#a32236" opacity="0.8"/><circle cx="380.2" cy="240.1" r="0.48" fill="#a32236" opacity="0.8"/><circle cx="380.8" cy="239.2" r="0.58" fill="#a32236" opacity="0.8"/><circle cx="385.2" cy="237.0" r="0.68" fill="#a32236" opacity="0.8"/><circle cx="385.5" cy="236.5" r="0.69" fill="#a32236" opacity="0.8"/><circle cx="385.0" cy="236.8" r="0.71" fill="#a32236" opacity="0.8"/><circle cx="386.8" cy="239.0" r="0.55" fill="#a32236" opacity="0.8"/><circle cx="387.3" cy="238.7" r="0.55" fill="#a32236" opacity="0.8"/><circle cx="387.1" cy="238.6" r="0.55" fill="#a32236" opacity="0.8"/><circle cx="386.1" cy="257.3" r="0.64" fill="#a32236" opacity="0.8"/><circle cx="387.0" cy="256.5" r="0.64" fill="#a32236" opacity="0.8"/><circle cx="386.0" cy="255.8" r="0.78" fill="#a32236" opacity="0.8"/><circle cx="386.6" cy="258.0" r="0.53" fill="#a32236" opacity="0.8"/><circle cx="387.1" cy="257.6" r="0.44" fill="#a32236" opacity="0.8"/><circle cx="387.1" cy="257.9" r="0.55" fill="#a32236" opacity="0.8"/><circle cx="354.6" cy="232.7" r="0.68" fill="#a32236" opacity="0.8"/><circle cx="353.2" cy="231.8" r="0.67" fill="#a32236" opacity="0.8"/><circle cx="354.6" cy="231.3" r="0.49" fill="#a32236" opacity="0.8"/><circle cx="356.6" cy="235.3" r="0.55" fill="#a32236" opacity="0.8"/><circle cx="357.5" cy="236.0" r="0.57" fill="#a32236" opacity="0.8"/><circle cx="356.3" cy="235.8" r="0.72" fill="#a32236" opacity="0.8"/><circle cx="352.8" cy="223.9" r="0.51" fill="#a32236" opacity="0.8"/><circle cx="353.0" cy="224.4" r="0.44" fill="#a32236" opacity="0.8"/><circle cx="352.8" cy="223.8" r="0.52" fill="#a32236" opacity="0.8"/><circle cx="359.6" cy="226.8" r="0.48" fill="#a32236" opacity="0.8"/><circle cx="359.8" cy="226.2" r="0.45" fill="#a32236" opacity="0.8"/><circle cx="360.1" cy="226.3" r="0.44" fill="#a32236" opacity="0.8"/><circle cx="363.3" cy="230.7" r="0.42" fill="#a32236" opacity="0.8"/><circle cx="362.6" cy="231.5" r="0.37" fill="#a32236" opacity="0.8"/><circle cx="363.2" cy="231.5" r="0.39" fill="#a32236" opacity="0.8"/><circle cx="382.8" cy="223.1" r="0.75" fill="#a32236" opacity="0.8"/><circle cx="382.7" cy="221.5" r="0.70" fill="#a32236" opacity="0.8"/><circle cx="382.7" cy="223.0" r="0.65" fill="#a32236" opacity="0.8"/><circle cx="380.8" cy="234.8" r="0.74" fill="#a32236" opacity="0.8"/><circle cx="380.7" cy="234.3" r="0.67" fill="#a32236" opacity="0.8"/><circle cx="381.8" cy="233.9" r="0.79" fill="#a32236" opacity="0.8"/><circle cx="379.0" cy="226.7" r="0.77" fill="#a32236" opacity="0.8"/><circle cx="378.1" cy="226.1" r="0.80" fill="#a32236" opacity="0.8"/><circle cx="378.2" cy="227.1" r="0.71" fill="#a32236" opacity="0.8"/><circle cx="385.6" cy="236.4" r="0.41" fill="#a32236" opacity="0.8"/><circle cx="385.1" cy="235.9" r="0.51" fill="#a32236" opacity="0.8"/><circle cx="385.5" cy="235.9" r="0.51" fill="#a32236" opacity="0.8"/><circle cx="391.6" cy="230.9" r="0.52" fill="#a32236" opacity="0.8"/><circle cx="391.0" cy="231.5" r="0.56" fill="#a32236" opacity="0.8"/><circle cx="391.4" cy="230.8" r="0.41" fill="#a32236" opacity="0.8"/><circle cx="400.4" cy="242.1" r="0.73" fill="#a32236" opacity="0.8"/><circle cx="400.5" cy="241.2" r="0.57" fill="#a32236" opacity="0.8"/><circle cx="399.2" cy="242.6" r="0.53" fill="#a32236" opacity="0.8"/><circle cx="402.3" cy="250.5" r="0.60" fill="#a32236" opacity="0.8"/><circle cx="402.2" cy="250.3" r="0.64" fill="#a32236" opacity="0.8"/><circle cx="403.0" cy="249.2" r="0.64" fill="#a32236" opacity="0.8"/><circle cx="408.9" cy="249.1" r="0.64" fill="#a32236" opacity="0.8"/><circle cx="409.5" cy="249.6" r="0.43" fill="#a32236" opacity="0.8"/><circle cx="408.7" cy="249.0" r="0.40" fill="#a32236" opacity="0.8"/><circle cx="405.0" cy="257.5" r="0.58" fill="#a32236" opacity="0.8"/><circle cx="403.6" cy="257.5" r="0.76" fill="#a32236" opacity="0.8"/><circle cx="404.1" cy="258.0" r="0.63" fill="#a32236" opacity="0.8"/><circle cx="399.3" cy="253.7" r="0.61" fill="#a32236" opacity="0.8"/><circle cx="400.5" cy="254.6" r="0.46" fill="#a32236" opacity="0.8"/><circle cx="399.5" cy="253.3" r="0.53" fill="#a32236" opacity="0.8"/><circle cx="411.8" cy="250.9" r="0.45" fill="#a32236" opacity="0.8"/><circle cx="412.1" cy="250.8" r="0.52" fill="#a32236" opacity="0.8"/><circle cx="411.6" cy="251.6" r="0.47" fill="#a32236" opacity="0.8"/><circle cx="407.4" cy="244.7" r="0.46" fill="#a32236" opacity="0.8"/><circle cx="407.9" cy="245.1" r="0.42" fill="#a32236" opacity="0.8"/><circle cx="407.7" cy="245.4" r="0.41" fill="#a32236" opacity="0.8"/><circle cx="398.4" cy="259.5" r="0.61" fill="#a32236" opacity="0.8"/><circle cx="397.9" cy="259.8" r="0.57" fill="#a32236" opacity="0.8"/><circle cx="398.7" cy="258.2" r="0.57" fill="#a32236" opacity="0.8"/><circle cx="357.3" cy="247.2" r="0.68" fill="#a32236" opacity="0.8"/><circle cx="356.2" cy="248.2" r="0.50" fill="#a32236" opacity="0.8"/><circle cx="357.8" cy="248.1" r="0.67" fill="#a32236" opacity="0.8"/><circle cx="363.0" cy="249.3" r="0.56" fill="#a32236" opacity="0.8"/><circle cx="362.7" cy="248.5" r="0.60" fill="#a32236" opacity="0.8"/><circle cx="362.4" cy="249.7" r="0.45" fill="#a32236" opacity="0.8"/><circle cx="355.4" cy="250.4" r="0.59" fill="#a32236" opacity="0.8"/><circle cx="356.7" cy="250.9" r="0.56" fill="#a32236" opacity="0.8"/><circle cx="355.6" cy="251.6" r="0.56" fill="#a32236" opacity="0.8"/><circle cx="362.4" cy="252.7" r="0.64" fill="#a32236" opacity="0.8"/><circle cx="362.2" cy="254.1" r="0.53" fill="#a32236" opacity="0.8"/><circle cx="362.5" cy="253.6" r="0.54" fill="#a32236" opacity="0.8"/><circle cx="360.1" cy="256.9" r="0.62" fill="#a32236" opacity="0.8"/><circle cx="359.7" cy="258.0" r="0.44" fill="#a32236" opacity="0.8"/><circle cx="360.5" cy="258.3" r="0.49" fill="#a32236" opacity="0.8"/><circle cx="375.3" cy="240.8" r="0.55" fill="#a32236" opacity="0.8"/><circle cx="375.6" cy="241.1" r="0.42" fill="#a32236" opacity="0.8"/><circle cx="375.9" cy="241.4" r="0.50" fill="#a32236" opacity="0.8"/><circle cx="370.3" cy="224.5" r="0.52" fill="#a32236" opacity="0.8"/><circle cx="369.5" cy="225.6" r="0.56" fill="#a32236" opacity="0.8"/><circle cx="370.6" cy="225.0" r="0.41" fill="#a32236" opacity="0.8"/><circle cx="392.8" cy="216.4" r="0.52" fill="#a32236" opacity="0.8"/><circle cx="393.7" cy="215.3" r="0.52" fill="#a32236" opacity="0.8"/><circle cx="393.6" cy="216.2" r="0.53" fill="#a32236" opacity="0.8"/><circle cx="380.9" cy="218.0" r="0.41" fill="#a32236" opacity="0.8"/><circle cx="382.1" cy="219.0" r="0.40" fill="#a32236" opacity="0.8"/><circle cx="382.1" cy="217.8" r="0.48" fill="#a32236" opacity="0.8"/><ellipse cx="403.3" cy="236.4" rx="4.0" ry="4.5" fill="#b07a98" stroke="#95192c" stroke-width="2.6"/><path d="M399.5,233 Q398.8,238 401.5,241.5" stroke="#8a1528" stroke-width="1.6" fill="none"/><circle cx="404.5" cy="235.5" r="1.2" fill="#a0304a"/><circle cx="367.4" cy="221.9" r="1.6" fill="none" stroke="#a8223a" stroke-width="0.9"/><circle cx="360.9" cy="253.3" r="2.4" fill="none" stroke="#a8253a" stroke-width="1.0"/><path d="M378,229 Q381,224 385,227" fill="none" stroke="#a8223a" stroke-width="1.3"/></g></g>
<line x1="404.00" y1="259.60" x2="415.20" y2="259.60" stroke="#111" stroke-width="1.3" />
<text x="477.90" y="168.66" font-size="5.6" text-anchor="middle" fill="#1a1a1a" color="#1a1a1a" font-weight="normal" >BON1</text>
<line x1="451.50" y1="178.30" x2="451.50" y2="250.90" stroke="#111" stroke-width="0.9" />
<line x1="451.10" y1="250.50" x2="503.80" y2="250.50" stroke="#111" stroke-width="0.9" />
<line x1="449.30" y1="250.50" x2="451.50" y2="250.50" stroke="#111" stroke-width="0.8" />
<text x="448.60" y="252.46" font-size="5.6" text-anchor="end" fill="#1a1a1a" color="#1a1a1a" font-weight="normal" >0.0</text>
<line x1="449.30" y1="236.14" x2="451.50" y2="236.14" stroke="#111" stroke-width="0.8" />
<text x="448.60" y="238.10" font-size="5.6" text-anchor="end" fill="#1a1a1a" color="#1a1a1a" font-weight="normal" >0.1</text>
<line x1="449.30" y1="221.78" x2="451.50" y2="221.78" stroke="#111" stroke-width="0.8" />
<text x="448.60" y="223.74" font-size="5.6" text-anchor="end" fill="#1a1a1a" color="#1a1a1a" font-weight="normal" >0.2</text>
<line x1="449.30" y1="207.42" x2="451.50" y2="207.42" stroke="#111" stroke-width="0.8" />
<text x="448.60" y="209.38" font-size="5.6" text-anchor="end" fill="#1a1a1a" color="#1a1a1a" font-weight="normal" >0.3</text>
<line x1="449.30" y1="193.06" x2="451.50" y2="193.06" stroke="#111" stroke-width="0.8" />
<text x="448.60" y="195.02" font-size="5.6" text-anchor="end" fill="#1a1a1a" color="#1a1a1a" font-weight="normal" >0.4</text>
<line x1="449.30" y1="178.70" x2="451.50" y2="178.70" stroke="#111" stroke-width="0.8" />
<text x="448.60" y="180.66" font-size="5.6" text-anchor="end" fill="#1a1a1a" color="#1a1a1a" font-weight="normal" >0.5</text>
<text transform="translate(437.10,211.40) rotate(-90)" x="0" y="0" font-size="7.0" text-anchor="middle" fill="#1a1a1a" color="#1a1a1a" font-weight="normal">Mean Intensity</text>
<rect x="459.80" y="222.50" width="16.70" height="28.00" fill="#fff" stroke="#111" stroke-width="0.9" />
<rect x="484.90" y="193.06" width="16.70" height="57.44" fill="#fff" stroke="#e8473f" stroke-width="0.9" />
<line x1="468.20" y1="217.50" x2="468.20" y2="227.00" stroke="#111" stroke-width="0.9" />
<line x1="465.20" y1="217.50" x2="471.20" y2="217.50" stroke="#111" stroke-width="0.9" />
<line x1="465.20" y1="227.00" x2="471.20" y2="227.00" stroke="#111" stroke-width="0.9" />
<line x1="493.20" y1="185.60" x2="493.20" y2="199.60" stroke="#e8473f" stroke-width="0.9" />
<line x1="490.00" y1="185.60" x2="496.40" y2="185.60" stroke="#e8473f" stroke-width="0.9" />
<line x1="490.00" y1="199.60" x2="496.40" y2="199.60" stroke="#e8473f" stroke-width="0.9" />
<circle cx="464.00" cy="220.80" r="2.10" fill="#111" stroke="none" stroke-width="0.8"/>
<circle cx="468.40" cy="218.60" r="2.10" fill="#111" stroke="none" stroke-width="0.8"/>
<circle cx="472.90" cy="225.80" r="2.10" fill="#111" stroke="none" stroke-width="0.8"/>
<circle cx="493.20" cy="184.80" r="2.10" fill="#e8473f" stroke="none" stroke-width="0.8"/>
<circle cx="489.60" cy="194.80" r="2.10" fill="#e8473f" stroke="none" stroke-width="0.8"/>
<circle cx="496.90" cy="198.20" r="2.10" fill="#e8473f" stroke="none" stroke-width="0.8"/>
<line x1="467.30" y1="181.60" x2="493.00" y2="181.60" stroke="#111" stroke-width="0.9" />
<text x="480.00" y="183.00" font-size="10.0" text-anchor="middle" fill="#1a1a1a" color="#1a1a1a" font-weight="bold" >***</text>
<text x="469.00" y="259.32" font-size="5.2" text-anchor="middle" fill="#1a1a1a" color="#1a1a1a" font-weight="normal" >DMSO</text>
<text x="493.20" y="259.32" font-size="5.2" text-anchor="middle" fill="#1a1a1a" color="#1a1a1a" font-weight="normal" >TMZ</text>
<text x="532.20" y="158.00" font-size="10" text-anchor="start" fill="#111" color="#111" font-weight="bold" >G</text>
<text x="611.70" y="160.71" font-size="6.6" text-anchor="middle" fill="#1a1a1a" color="#1a1a1a" font-weight="normal" >BON1</text>
<rect x="570.00" y="164.30" width="86.00" height="85.50" fill="none" stroke="#111" stroke-width="0.9" />
<line x1="567.00" y1="249.80" x2="570.00" y2="249.80" stroke="#111" stroke-width="0.8" />
<text x="565.80" y="251.55" font-size="5.0" text-anchor="end" fill="#1a1a1a" color="#1a1a1a" font-weight="normal" >0</text>
<line x1="567.00" y1="232.70" x2="570.00" y2="232.70" stroke="#111" stroke-width="0.8" />
<text x="565.80" y="234.45" font-size="5.0" text-anchor="end" fill="#1a1a1a" color="#1a1a1a" font-weight="normal" >20</text>
<line x1="567.00" y1="215.60" x2="570.00" y2="215.60" stroke="#111" stroke-width="0.8" />
<text x="565.80" y="217.35" font-size="5.0" text-anchor="end" fill="#1a1a1a" color="#1a1a1a" font-weight="normal" >40</text>
<line x1="567.00" y1="198.50" x2="570.00" y2="198.50" stroke="#111" stroke-width="0.8" />
<text x="565.80" y="200.25" font-size="5.0" text-anchor="end" fill="#1a1a1a" color="#1a1a1a" font-weight="normal" >60</text>
<line x1="567.00" y1="181.40" x2="570.00" y2="181.40" stroke="#111" stroke-width="0.8" />
<text x="565.80" y="183.15" font-size="5.0" text-anchor="end" fill="#1a1a1a" color="#1a1a1a" font-weight="normal" >80</text>
<line x1="567.00" y1="164.30" x2="570.00" y2="164.30" stroke="#111" stroke-width="0.8" />
<text x="565.80" y="166.05" font-size="5.0" text-anchor="end" fill="#1a1a1a" color="#1a1a1a" font-weight="normal" >100</text>
<line x1="580.80" y1="249.80" x2="580.80" y2="252.00" stroke="#111" stroke-width="0.8" />
<text x="580.80" y="258.32" font-size="5.2" text-anchor="middle" fill="#1a1a1a" color="#1a1a1a" font-weight="normal" >0</text>
<line x1="596.80" y1="249.80" x2="596.80" y2="252.00" stroke="#111" stroke-width="0.8" />
<text x="596.80" y="258.32" font-size="5.2" text-anchor="middle" fill="#1a1a1a" color="#1a1a1a" font-weight="normal" >12</text>
<line x1="612.80" y1="249.80" x2="612.80" y2="252.00" stroke="#111" stroke-width="0.8" />
<text x="612.80" y="258.32" font-size="5.2" text-anchor="middle" fill="#1a1a1a" color="#1a1a1a" font-weight="normal" >24</text>
<line x1="628.80" y1="249.80" x2="628.80" y2="252.00" stroke="#111" stroke-width="0.8" />
<text x="628.80" y="258.32" font-size="5.2" text-anchor="middle" fill="#1a1a1a" color="#1a1a1a" font-weight="normal" >36</text>
<line x1="644.80" y1="249.80" x2="644.80" y2="252.00" stroke="#111" stroke-width="0.8" />
<text x="644.80" y="258.32" font-size="5.2" text-anchor="middle" fill="#1a1a1a" color="#1a1a1a" font-weight="normal" >48</text>
<text x="612.80" y="266.61" font-size="6.6" text-anchor="middle" fill="#1a1a1a" color="#1a1a1a" font-weight="normal" >Time (h)</text>
<text transform="translate(553.80,206.70) rotate(-90)" x="0" y="0" font-size="6.0" text-anchor="middle" fill="#1a1a1a" color="#1a1a1a" font-weight="normal">Extracellular ATP (nM)</text>
<path d="M580.80,233.56 L596.80,216.46 L612.80,204.49 L628.80,183.97 L644.80,196.79" stroke="#e8473f" stroke-width="1.0" fill="none" />
<path d="M580.80,230.31 L596.80,225.00 L612.80,220.73 L628.80,230.99 L644.80,231.85" stroke="#111" stroke-width="1.0" fill="none" />
<line x1="580.80" y1="235.27" x2="580.80" y2="231.85" stroke="#e8473f" stroke-width="0.9" />
<line x1="578.80" y1="231.85" x2="582.80" y2="231.85" stroke="#e8473f" stroke-width="0.9" />
<line x1="578.80" y1="235.27" x2="582.80" y2="235.27" stroke="#e8473f" stroke-width="0.9" />
<rect x="578.70" y="231.46" width="4.20" height="4.20" fill="#e8473f" stroke="none" stroke-width="0.8" />
<line x1="596.80" y1="217.74" x2="596.80" y2="215.17" stroke="#e8473f" stroke-width="0.9" />
<line x1="594.80" y1="215.17" x2="598.80" y2="215.17" stroke="#e8473f" stroke-width="0.9" />
<line x1="594.80" y1="217.74" x2="598.80" y2="217.74" stroke="#e8473f" stroke-width="0.9" />
<rect x="594.70" y="214.36" width="4.20" height="4.20" fill="#e8473f" stroke="none" stroke-width="0.8" />
<line x1="612.80" y1="207.05" x2="612.80" y2="201.92" stroke="#e8473f" stroke-width="0.9" />
<line x1="610.80" y1="201.92" x2="614.80" y2="201.92" stroke="#e8473f" stroke-width="0.9" />
<line x1="610.80" y1="207.05" x2="614.80" y2="207.05" stroke="#e8473f" stroke-width="0.9" />
<rect x="610.70" y="202.39" width="4.20" height="4.20" fill="#e8473f" stroke="none" stroke-width="0.8" />
<line x1="628.80" y1="188.24" x2="628.80" y2="179.69" stroke="#e8473f" stroke-width="0.9" />
<line x1="626.80" y1="179.69" x2="630.80" y2="179.69" stroke="#e8473f" stroke-width="0.9" />
<line x1="626.80" y1="188.24" x2="630.80" y2="188.24" stroke="#e8473f" stroke-width="0.9" />
<rect x="626.70" y="181.87" width="4.20" height="4.20" fill="#e8473f" stroke="none" stroke-width="0.8" />
<line x1="644.80" y1="199.36" x2="644.80" y2="194.23" stroke="#e8473f" stroke-width="0.9" />
<line x1="642.80" y1="194.23" x2="646.80" y2="194.23" stroke="#e8473f" stroke-width="0.9" />
<line x1="642.80" y1="199.36" x2="646.80" y2="199.36" stroke="#e8473f" stroke-width="0.9" />
<rect x="642.70" y="194.69" width="4.20" height="4.20" fill="#e8473f" stroke="none" stroke-width="0.8" />
<line x1="580.80" y1="233.30" x2="580.80" y2="227.31" stroke="#111" stroke-width="0.9" />
<line x1="578.80" y1="227.31" x2="582.80" y2="227.31" stroke="#111" stroke-width="0.9" />
<line x1="578.80" y1="233.30" x2="582.80" y2="233.30" stroke="#111" stroke-width="0.9" />
<circle cx="580.80" cy="230.31" r="2.30" fill="#111" stroke="none" stroke-width="0.8"/>
<line x1="596.80" y1="226.29" x2="596.80" y2="223.72" stroke="#111" stroke-width="0.9" />
<line x1="594.80" y1="223.72" x2="598.80" y2="223.72" stroke="#111" stroke-width="0.9" />
<line x1="594.80" y1="226.29" x2="598.80" y2="226.29" stroke="#111" stroke-width="0.9" />
<circle cx="596.80" cy="225.00" r="2.30" fill="#111" stroke="none" stroke-width="0.8"/>
<line x1="612.80" y1="222.27" x2="612.80" y2="219.19" stroke="#111" stroke-width="0.9" />
<line x1="610.80" y1="219.19" x2="614.80" y2="219.19" stroke="#111" stroke-width="0.9" />
<line x1="610.80" y1="222.27" x2="614.80" y2="222.27" stroke="#111" stroke-width="0.9" />
<circle cx="612.80" cy="220.73" r="2.30" fill="#111" stroke="none" stroke-width="0.8"/>
<line x1="628.80" y1="233.56" x2="628.80" y2="228.43" stroke="#111" stroke-width="0.9" />
<line x1="626.80" y1="228.43" x2="630.80" y2="228.43" stroke="#111" stroke-width="0.9" />
<line x1="626.80" y1="233.56" x2="630.80" y2="233.56" stroke="#111" stroke-width="0.9" />
<circle cx="628.80" cy="230.99" r="2.30" fill="#111" stroke="none" stroke-width="0.8"/>
<line x1="644.80" y1="236.80" x2="644.80" y2="226.89" stroke="#111" stroke-width="0.9" />
<line x1="642.80" y1="226.89" x2="646.80" y2="226.89" stroke="#111" stroke-width="0.9" />
<line x1="642.80" y1="236.80" x2="646.80" y2="236.80" stroke="#111" stroke-width="0.9" />
<circle cx="644.80" cy="231.85" r="2.30" fill="#111" stroke="none" stroke-width="0.8"/>
<line x1="573.10" y1="175.70" x2="581.80" y2="175.70" stroke="#111" stroke-width="1.0" />
<circle cx="577.50" cy="175.70" r="2.00" fill="#111" stroke="none" stroke-width="0.8"/>
<line x1="573.10" y1="185.60" x2="581.80" y2="185.60" stroke="#e8473f" stroke-width="1.0" />
<circle cx="577.50" cy="185.60" r="2.00" fill="#e8473f" stroke="none" stroke-width="0.8"/>
<text x="585.80" y="177.73" font-size="5.8" text-anchor="start" fill="#1a1a1a" color="#1a1a1a" font-weight="normal" >DMSO</text>
<text x="585.80" y="187.70" font-size="6.0" text-anchor="start" fill="#1a1a1a" color="#1a1a1a" font-weight="normal" >TMZ (200μM)</text>
<text x="6.90" y="285.80" font-size="10" text-anchor="start" fill="#111" color="#111" font-weight="bold" >H</text>
<defs><linearGradient id="dg309" x1="0" y1="0" x2="1" y2="0"><stop offset="0" stop-color="#b9c6bf"/><stop offset="0.3" stop-color="#eef2ef"/><stop offset="0.7" stop-color="#eef2ef"/><stop offset="1" stop-color="#b9c6bf"/></linearGradient></defs>
<path d="M13.80,306.30 L13.80,312.30 A16.2,6.4 0 0 0 46.20,312.30 L46.20,306.30 Z" stroke="#9fb0a7" stroke-width="0.5" fill="url(#dg309)" />
<ellipse cx="30.00" cy="306.30" rx="16.2" ry="4.9" fill="#f4f6f4" stroke="#a9b9b0" stroke-width="0.6"/>
<ellipse cx="30.00" cy="308.30" rx="14.2" ry="4.2" fill="#e8eee9" stroke="#b7c6bd" stroke-width="0.5"/>
<circle cx="23.20" cy="310.40" r="1.4" fill="#d98e22" stroke="#6e4a1e" stroke-width="0.5"/>
<circle cx="24.10" cy="311.10" r="0.9" fill="#d98e22" stroke="#6e4a1e" stroke-width="0.4"/>
<circle cx="22.50" cy="312.60" r="1.4" fill="#d98e22" stroke="#6e4a1e" stroke-width="0.5"/>
<circle cx="23.40" cy="313.30" r="0.9" fill="#d98e22" stroke="#6e4a1e" stroke-width="0.4"/>
<circle cx="27.10" cy="308.60" r="1.4" fill="#d98e22" stroke="#6e4a1e" stroke-width="0.5"/>
<circle cx="28.00" cy="309.30" r="0.9" fill="#d98e22" stroke="#6e4a1e" stroke-width="0.4"/>
<circle cx="27.40" cy="313.40" r="1.4" fill="#d98e22" stroke="#6e4a1e" stroke-width="0.5"/>
<circle cx="28.30" cy="314.10" r="0.9" fill="#d98e22" stroke="#6e4a1e" stroke-width="0.4"/>
<circle cx="31.10" cy="311.20" r="1.4" fill="#d98e22" stroke="#6e4a1e" stroke-width="0.5"/>
<circle cx="32.00" cy="311.90" r="0.9" fill="#d98e22" stroke="#6e4a1e" stroke-width="0.4"/>
<circle cx="33.40" cy="309.20" r="1.4" fill="#d98e22" stroke="#6e4a1e" stroke-width="0.5"/>
<circle cx="34.30" cy="309.90" r="0.9" fill="#d98e22" stroke="#6e4a1e" stroke-width="0.4"/>
<circle cx="34.40" cy="313.40" r="1.4" fill="#d98e22" stroke="#6e4a1e" stroke-width="0.5"/>
<circle cx="35.30" cy="314.10" r="0.9" fill="#d98e22" stroke="#6e4a1e" stroke-width="0.4"/>
<circle cx="37.00" cy="310.30" r="1.4" fill="#d98e22" stroke="#6e4a1e" stroke-width="0.5"/>
<circle cx="37.90" cy="311.00" r="0.9" fill="#d98e22" stroke="#6e4a1e" stroke-width="0.4"/>
<defs><linearGradient id="dg352" x1="0" y1="0" x2="1" y2="0"><stop offset="0" stop-color="#b9c6bf"/><stop offset="0.3" stop-color="#eef2ef"/><stop offset="0.7" stop-color="#eef2ef"/><stop offset="1" stop-color="#b9c6bf"/></linearGradient></defs>
<path d="M13.80,349.00 L13.80,355.00 A16.2,6.4 0 0 0 46.20,355.00 L46.20,349.00 Z" stroke="#9fb0a7" stroke-width="0.5" fill="url(#dg352)" />
<ellipse cx="30.00" cy="349.00" rx="16.2" ry="4.9" fill="#f4f6f4" stroke="#a9b9b0" stroke-width="0.6"/>
<ellipse cx="30.00" cy="351.00" rx="14.2" ry="4.2" fill="#e8eee9" stroke="#b7c6bd" stroke-width="0.5"/>
<circle cx="23.20" cy="353.10" r="1.4" fill="#cf5626" stroke="#6e2a14" stroke-width="0.5"/>
<circle cx="24.10" cy="353.80" r="0.9" fill="#cf5626" stroke="#6e2a14" stroke-width="0.4"/>
<circle cx="22.50" cy="355.30" r="1.4" fill="#cf5626" stroke="#6e2a14" stroke-width="0.5"/>
<circle cx="23.40" cy="356.00" r="0.9" fill="#cf5626" stroke="#6e2a14" stroke-width="0.4"/>
<circle cx="27.10" cy="351.30" r="1.4" fill="#cf5626" stroke="#6e2a14" stroke-width="0.5"/>
<circle cx="28.00" cy="352.00" r="0.9" fill="#cf5626" stroke="#6e2a14" stroke-width="0.4"/>
<circle cx="27.40" cy="356.10" r="1.4" fill="#cf5626" stroke="#6e2a14" stroke-width="0.5"/>
<circle cx="28.30" cy="356.80" r="0.9" fill="#cf5626" stroke="#6e2a14" stroke-width="0.4"/>
<circle cx="31.10" cy="353.90" r="1.4" fill="#cf5626" stroke="#6e2a14" stroke-width="0.5"/>
<circle cx="32.00" cy="354.60" r="0.9" fill="#cf5626" stroke="#6e2a14" stroke-width="0.4"/>
<circle cx="33.40" cy="351.90" r="1.4" fill="#cf5626" stroke="#6e2a14" stroke-width="0.5"/>
<circle cx="34.30" cy="352.60" r="0.9" fill="#cf5626" stroke="#6e2a14" stroke-width="0.4"/>
<circle cx="34.40" cy="356.10" r="1.4" fill="#cf5626" stroke="#6e2a14" stroke-width="0.5"/>
<circle cx="35.30" cy="356.80" r="0.9" fill="#cf5626" stroke="#6e2a14" stroke-width="0.4"/>
<circle cx="37.00" cy="353.00" r="1.4" fill="#cf5626" stroke="#6e2a14" stroke-width="0.5"/>
<circle cx="37.90" cy="353.70" r="0.9" fill="#cf5626" stroke="#6e2a14" stroke-width="0.4"/>
<text x="29.70" y="328.40" font-size="6.0" text-anchor="middle" fill="#1a1a1a" color="#1a1a1a" font-weight="normal" >Regular Medium</text>
<text x="29.80" y="370.30" font-size="6.0" text-anchor="middle" fill="#1a1a1a" color="#1a1a1a" font-weight="normal" >High-Fat Medium</text>
<circle cx="82.10" cy="318.20" r="1.6" fill="#e9a030" stroke="#8a5a18" stroke-width="0.45"/>
<circle cx="82.90" cy="315.20" r="1.6" fill="#e9a030" stroke="#8a5a18" stroke-width="0.45"/>
<circle cx="87.50" cy="313.70" r="1.6" fill="#e9a030" stroke="#8a5a18" stroke-width="0.45"/>
<circle cx="88.20" cy="316.00" r="1.6" fill="#e9a030" stroke="#8a5a18" stroke-width="0.45"/>
<circle cx="87.50" cy="319.70" r="1.6" fill="#e9a030" stroke="#8a5a18" stroke-width="0.45"/>
<circle cx="93.50" cy="318.20" r="1.6" fill="#e9a030" stroke="#8a5a18" stroke-width="0.45"/>
<circle cx="96.60" cy="314.40" r="1.6" fill="#e9a030" stroke="#8a5a18" stroke-width="0.45"/>
<circle cx="98.10" cy="319.70" r="1.6" fill="#e9a030" stroke="#8a5a18" stroke-width="0.45"/>
<circle cx="101.10" cy="315.20" r="1.6" fill="#e9a030" stroke="#8a5a18" stroke-width="0.45"/>
<circle cx="101.90" cy="317.30" r="1.6" fill="#e9a030" stroke="#8a5a18" stroke-width="0.45"/>
<circle cx="91.50" cy="316.00" r="1.6" fill="#e9a030" stroke="#8a5a18" stroke-width="0.45"/>
<circle cx="81.40" cy="348.60" r="1.7" fill="#d8502a" stroke="#7a2a12" stroke-width="0.45"/>
<circle cx="83.70" cy="347.30" r="1.7" fill="#d8502a" stroke="#7a2a12" stroke-width="0.45"/>
<circle cx="88.20" cy="345.50" r="1.7" fill="#d8502a" stroke="#7a2a12" stroke-width="0.45"/>
<circle cx="89.00" cy="351.10" r="1.7" fill="#d8502a" stroke="#7a2a12" stroke-width="0.45"/>
<circle cx="95.00" cy="349.30" r="1.7" fill="#d8502a" stroke="#7a2a12" stroke-width="0.45"/>
<circle cx="98.10" cy="345.50" r="1.7" fill="#d8502a" stroke="#7a2a12" stroke-width="0.45"/>
<circle cx="99.60" cy="351.10" r="1.7" fill="#d8502a" stroke="#7a2a12" stroke-width="0.45"/>
<circle cx="102.60" cy="347.00" r="1.7" fill="#d8502a" stroke="#7a2a12" stroke-width="0.45"/>
<circle cx="92.00" cy="347.50" r="1.7" fill="#d8502a" stroke="#7a2a12" stroke-width="0.45"/>
<circle cx="86.50" cy="349.60" r="1.7" fill="#d8502a" stroke="#7a2a12" stroke-width="0.45"/>
<path d="M49.60,319.70 Q58.60,332.50 74.00,333.00" stroke="#111" stroke-width="1.4" fill="none" />
<path d="M49.60,345.30 Q58.60,333.50 74.00,333.00" stroke="#111" stroke-width="1.4" fill="none" />
<path d="M79.00,333.00 L71.00,329.80 L73.50,333.00 L71.00,336.20 Z" stroke="none" stroke-width="0" fill="#111" />
<path d="M107.20,319.70 Q116.20,332.60 129.60,333.10" stroke="#111" stroke-width="1.4" fill="none" />
<path d="M107.20,345.50 Q116.20,333.60 129.60,333.10" stroke="#111" stroke-width="1.4" fill="none" />
<path d="M134.60,333.10 L126.60,329.90 L129.10,333.10 L126.60,336.30 Z" stroke="none" stroke-width="0" fill="#111" />
<text x="63.80" y="326.43" font-size="5.8" text-anchor="middle" fill="#1a1a1a" color="#1a1a1a" font-weight="normal" >48h</text>
<text x="125.00" y="322.60" font-size="6.0" text-anchor="middle" fill="#1a1a1a" color="#1a1a1a" font-weight="normal" >TMZ (72h)</text>
<text x="136.00" y="335.50" font-size="6.0" text-anchor="start" fill="#1a1a1a" color="#1a1a1a" font-weight="normal" >IC50</text>
<text x="150.40" y="287.70" font-size="10" text-anchor="start" fill="#111" color="#111" font-weight="bold" >I</text>
<text x="215.30" y="291.15" font-size="7.0" text-anchor="middle" fill="#1a1a1a" color="#1a1a1a" font-weight="normal" >BON1</text>
<line x1="181.20" y1="295.10" x2="181.20" y2="366.70" stroke="#111" stroke-width="0.9" />
<line x1="180.80" y1="366.30" x2="253.00" y2="366.30" stroke="#111" stroke-width="0.9" />
<line x1="178.10" y1="366.30" x2="181.20" y2="366.30" stroke="#111" stroke-width="0.8" />
<text x="177.60" y="368.19" font-size="5.4" text-anchor="end" fill="#1a1a1a" color="#1a1a1a" font-weight="normal" >0</text>
<line x1="178.10" y1="354.50" x2="181.20" y2="354.50" stroke="#111" stroke-width="0.8" />
<text x="177.60" y="356.39" font-size="5.4" text-anchor="end" fill="#1a1a1a" color="#1a1a1a" font-weight="normal" >20</text>
<line x1="178.10" y1="342.70" x2="181.20" y2="342.70" stroke="#111" stroke-width="0.8" />
<text x="177.60" y="344.59" font-size="5.4" text-anchor="end" fill="#1a1a1a" color="#1a1a1a" font-weight="normal" >40</text>
<line x1="178.10" y1="330.90" x2="181.20" y2="330.90" stroke="#111" stroke-width="0.8" />
<text x="177.60" y="332.79" font-size="5.4" text-anchor="end" fill="#1a1a1a" color="#1a1a1a" font-weight="normal" >60</text>
<line x1="178.10" y1="319.10" x2="181.20" y2="319.10" stroke="#111" stroke-width="0.8" />
<text x="177.60" y="320.99" font-size="5.4" text-anchor="end" fill="#1a1a1a" color="#1a1a1a" font-weight="normal" >80</text>
<line x1="178.10" y1="307.30" x2="181.20" y2="307.30" stroke="#111" stroke-width="0.8" />
<text x="177.60" y="309.19" font-size="5.4" text-anchor="end" fill="#1a1a1a" color="#1a1a1a" font-weight="normal" >100</text>
<line x1="178.10" y1="295.50" x2="181.20" y2="295.50" stroke="#111" stroke-width="0.8" />
<text x="177.60" y="297.39" font-size="5.4" text-anchor="end" fill="#1a1a1a" color="#1a1a1a" font-weight="normal" >120</text>
<line x1="181.20" y1="366.30" x2="181.20" y2="368.90" stroke="#111" stroke-width="0.8" />
<text x="181.20" y="374.79" font-size="5.4" text-anchor="middle" fill="#1a1a1a" color="#1a1a1a" font-weight="normal" >1.0</text>
<line x1="193.10" y1="366.30" x2="193.10" y2="368.90" stroke="#111" stroke-width="0.8" />
<text x="193.10" y="374.79" font-size="5.4" text-anchor="middle" fill="#1a1a1a" color="#1a1a1a" font-weight="normal" >1.5</text>
<line x1="205.00" y1="366.30" x2="205.00" y2="368.90" stroke="#111" stroke-width="0.8" />
<text x="205.00" y="374.79" font-size="5.4" text-anchor="middle" fill="#1a1a1a" color="#1a1a1a" font-weight="normal" >2.0</text>
<line x1="216.90" y1="366.30" x2="216.90" y2="368.90" stroke="#111" stroke-width="0.8" />
<text x="216.90" y="374.79" font-size="5.4" text-anchor="middle" fill="#1a1a1a" color="#1a1a1a" font-weight="normal" >2.5</text>
<line x1="228.80" y1="366.30" x2="228.80" y2="368.90" stroke="#111" stroke-width="0.8" />
<text x="228.80" y="374.79" font-size="5.4" text-anchor="middle" fill="#1a1a1a" color="#1a1a1a" font-weight="normal" >3.0</text>
<line x1="240.70" y1="366.30" x2="240.70" y2="368.90" stroke="#111" stroke-width="0.8" />
<text x="240.70" y="374.79" font-size="5.4" text-anchor="middle" fill="#1a1a1a" color="#1a1a1a" font-weight="normal" >3.5</text>
<line x1="252.60" y1="366.30" x2="252.60" y2="368.90" stroke="#111" stroke-width="0.8" />
<text x="252.60" y="374.79" font-size="5.4" text-anchor="middle" fill="#1a1a1a" color="#1a1a1a" font-weight="normal" >4.0</text>
<text x="214.41" y="382.18" font-size="4.8" text-anchor="middle" fill="#1a1a1a" color="#1a1a1a" font-weight="normal" >TMZ Log Concentration (μM)</text>
<text transform="translate(166.40,331.30) rotate(-90)" x="0" y="0" font-size="5.2" text-anchor="middle" fill="#1a1a1a" color="#1a1a1a" font-weight="normal">Survival Fraction (%)</text>
<path d="M193.10,308.03 L194.07,308.15 L195.04,308.28 L196.02,308.44 L196.99,308.62 L197.96,308.83 L198.93,309.07 L199.90,309.35 L200.87,309.67 L201.85,310.03 L202.82,310.45 L203.79,310.93 L204.76,311.48 L205.73,312.10 L206.71,312.80 L207.68,313.60 L208.65,314.49 L209.62,315.49 L210.59,316.60 L211.56,317.83 L212.54,319.19 L213.51,320.67 L214.48,322.27 L215.45,323.99 L216.42,325.83 L217.40,327.76 L218.37,329.77 L219.34,331.86 L220.31,333.99 L221.28,336.13 L222.25,338.28 L223.23,340.40 L224.20,342.47 L225.17,344.47 L226.14,346.39 L227.11,348.20 L228.09,349.90 L229.06,351.47 L230.03,352.93 L231.00,354.26 L231.97,355.46 L232.95,356.55 L233.92,357.53 L234.89,358.40 L235.86,359.18 L236.83,359.87 L237.80,360.47 L238.78,361.00 L239.75,361.47 L240.72,361.88 L241.69,362.23 L242.66,362.54 L243.64,362.81 L244.61,363.05 L245.58,363.25 L246.55,363.42 L247.52,363.58 L248.49,363.71 L249.47,363.82 L250.44,363.92 L251.41,364.00" stroke="#e8473f" stroke-width="1.0" fill="none" />
<path d="M193.10,310.70 L194.07,310.95 L195.04,311.24 L196.02,311.58 L196.99,311.97 L197.96,312.41 L198.93,312.91 L199.90,313.49 L200.87,314.14 L201.85,314.88 L202.82,315.71 L203.79,316.64 L204.76,317.68 L205.73,318.83 L206.71,320.10 L207.68,321.48 L208.65,322.99 L209.62,324.62 L210.59,326.36 L211.56,328.20 L212.54,330.12 L213.51,332.12 L214.48,334.17 L215.45,336.25 L216.42,338.33 L217.40,340.40 L218.37,342.42 L219.34,344.39 L220.31,346.28 L221.28,348.07 L222.25,349.76 L223.23,351.33 L224.20,352.78 L225.17,354.12 L226.14,355.33 L227.11,356.43 L228.09,357.41 L229.06,358.29 L230.03,359.08 L231.00,359.78 L231.97,360.39 L232.95,360.93 L233.92,361.41 L234.89,361.82 L235.86,362.18 L236.83,362.50 L237.80,362.77 L238.78,363.01 L239.75,363.22 L240.72,363.40 L241.69,363.55 L242.66,363.69 L243.64,363.80 L244.61,363.90 L245.58,363.99 L246.55,364.07 L247.52,364.13 L248.49,364.19 L249.47,364.23 L250.44,364.27 L251.41,364.31" stroke="#111" stroke-width="1.0" fill="none" />
<line x1="193.10" y1="308.48" x2="193.10" y2="306.12" stroke="#e8473f" stroke-width="0.8" />
<line x1="191.50" y1="306.12" x2="194.70" y2="306.12" stroke="#e8473f" stroke-width="0.8" />
<line x1="191.50" y1="308.48" x2="194.70" y2="308.48" stroke="#e8473f" stroke-width="0.8" />
<circle cx="193.10" cy="307.30" r="2.30" fill="#e8473f" stroke="none" stroke-width="0.8"/>
<line x1="200.24" y1="312.02" x2="200.24" y2="308.48" stroke="#e8473f" stroke-width="0.8" />
<line x1="198.64" y1="308.48" x2="201.84" y2="308.48" stroke="#e8473f" stroke-width="0.8" />
<line x1="198.64" y1="312.02" x2="201.84" y2="312.02" stroke="#e8473f" stroke-width="0.8" />
<circle cx="200.24" cy="310.25" r="2.30" fill="#e8473f" stroke="none" stroke-width="0.8"/>
<line x1="207.38" y1="317.33" x2="207.38" y2="314.97" stroke="#e8473f" stroke-width="0.8" />
<line x1="205.78" y1="314.97" x2="208.98" y2="314.97" stroke="#e8473f" stroke-width="0.8" />
<line x1="205.78" y1="317.33" x2="208.98" y2="317.33" stroke="#e8473f" stroke-width="0.8" />
<circle cx="207.38" cy="316.15" r="2.30" fill="#e8473f" stroke="none" stroke-width="0.8"/>
<line x1="214.52" y1="330.90" x2="214.52" y2="321.46" stroke="#e8473f" stroke-width="0.8" />
<line x1="212.92" y1="321.46" x2="216.12" y2="321.46" stroke="#e8473f" stroke-width="0.8" />
<line x1="212.92" y1="330.90" x2="216.12" y2="330.90" stroke="#e8473f" stroke-width="0.8" />
<circle cx="214.52" cy="326.18" r="2.30" fill="#e8473f" stroke="none" stroke-width="0.8"/>
<line x1="221.66" y1="341.52" x2="221.66" y2="339.16" stroke="#e8473f" stroke-width="0.8" />
<line x1="220.06" y1="339.16" x2="223.26" y2="339.16" stroke="#e8473f" stroke-width="0.8" />
<line x1="220.06" y1="341.52" x2="223.26" y2="341.52" stroke="#e8473f" stroke-width="0.8" />
<circle cx="221.66" cy="340.34" r="2.30" fill="#e8473f" stroke="none" stroke-width="0.8"/>
<line x1="228.80" y1="352.14" x2="228.80" y2="348.60" stroke="#e8473f" stroke-width="0.8" />
<line x1="227.20" y1="348.60" x2="230.40" y2="348.60" stroke="#e8473f" stroke-width="0.8" />
<line x1="227.20" y1="352.14" x2="230.40" y2="352.14" stroke="#e8473f" stroke-width="0.8" />
<circle cx="228.80" cy="350.37" r="2.30" fill="#e8473f" stroke="none" stroke-width="0.8"/>
<line x1="235.94" y1="356.27" x2="235.94" y2="353.91" stroke="#e8473f" stroke-width="0.8" />
<line x1="234.34" y1="353.91" x2="237.54" y2="353.91" stroke="#e8473f" stroke-width="0.8" />
<line x1="234.34" y1="356.27" x2="237.54" y2="356.27" stroke="#e8473f" stroke-width="0.8" />
<circle cx="235.94" cy="355.09" r="2.30" fill="#e8473f" stroke="none" stroke-width="0.8"/>
<line x1="243.08" y1="358.34" x2="243.08" y2="355.98" stroke="#e8473f" stroke-width="0.8" />
<line x1="241.48" y1="355.98" x2="244.68" y2="355.98" stroke="#e8473f" stroke-width="0.8" />
<line x1="241.48" y1="358.34" x2="244.68" y2="358.34" stroke="#e8473f" stroke-width="0.8" />
<circle cx="243.08" cy="357.16" r="2.30" fill="#e8473f" stroke="none" stroke-width="0.8"/>
<line x1="250.22" y1="362.76" x2="250.22" y2="360.40" stroke="#e8473f" stroke-width="0.8" />
<line x1="248.62" y1="360.40" x2="251.82" y2="360.40" stroke="#e8473f" stroke-width="0.8" />
<line x1="248.62" y1="362.76" x2="251.82" y2="362.76" stroke="#e8473f" stroke-width="0.8" />
<circle cx="250.22" cy="361.58" r="2.30" fill="#e8473f" stroke="none" stroke-width="0.8"/>
<line x1="193.10" y1="316.44" x2="193.10" y2="309.37" stroke="#111" stroke-width="0.8" />
<line x1="191.50" y1="309.37" x2="194.70" y2="309.37" stroke="#111" stroke-width="0.8" />
<line x1="191.50" y1="316.44" x2="194.70" y2="316.44" stroke="#111" stroke-width="0.8" />
<circle cx="193.10" cy="312.91" r="2.30" fill="#111" stroke="none" stroke-width="0.8"/>
<line x1="200.24" y1="313.20" x2="200.24" y2="310.84" stroke="#111" stroke-width="0.8" />
<line x1="198.64" y1="310.84" x2="201.84" y2="310.84" stroke="#111" stroke-width="0.8" />
<line x1="198.64" y1="313.20" x2="201.84" y2="313.20" stroke="#111" stroke-width="0.8" />
<circle cx="200.24" cy="312.02" r="2.30" fill="#111" stroke="none" stroke-width="0.8"/>
<line x1="207.38" y1="325.00" x2="207.38" y2="322.64" stroke="#111" stroke-width="0.8" />
<line x1="205.78" y1="322.64" x2="208.98" y2="322.64" stroke="#111" stroke-width="0.8" />
<line x1="205.78" y1="325.00" x2="208.98" y2="325.00" stroke="#111" stroke-width="0.8" />
<circle cx="207.38" cy="323.82" r="2.30" fill="#111" stroke="none" stroke-width="0.8"/>
<line x1="214.52" y1="343.88" x2="214.52" y2="334.44" stroke="#111" stroke-width="0.8" />
<line x1="212.92" y1="334.44" x2="216.12" y2="334.44" stroke="#111" stroke-width="0.8" />
<line x1="212.92" y1="343.88" x2="216.12" y2="343.88" stroke="#111" stroke-width="0.8" />
<circle cx="214.52" cy="339.16" r="2.30" fill="#111" stroke="none" stroke-width="0.8"/>
<line x1="221.66" y1="347.42" x2="221.66" y2="343.88" stroke="#111" stroke-width="0.8" />
<line x1="220.06" y1="343.88" x2="223.26" y2="343.88" stroke="#111" stroke-width="0.8" />
<line x1="220.06" y1="347.42" x2="223.26" y2="347.42" stroke="#111" stroke-width="0.8" />
<circle cx="221.66" cy="345.65" r="2.30" fill="#111" stroke="none" stroke-width="0.8"/>
<line x1="228.80" y1="359.22" x2="228.80" y2="354.50" stroke="#111" stroke-width="0.8" />
<line x1="227.20" y1="354.50" x2="230.40" y2="354.50" stroke="#111" stroke-width="0.8" />
<line x1="227.20" y1="359.22" x2="230.40" y2="359.22" stroke="#111" stroke-width="0.8" />
<circle cx="228.80" cy="356.86" r="2.30" fill="#111" stroke="none" stroke-width="0.8"/>
<line x1="235.94" y1="358.04" x2="235.94" y2="354.50" stroke="#111" stroke-width="0.8" />
<line x1="234.34" y1="354.50" x2="237.54" y2="354.50" stroke="#111" stroke-width="0.8" />
<line x1="234.34" y1="358.04" x2="237.54" y2="358.04" stroke="#111" stroke-width="0.8" />
<circle cx="235.94" cy="356.27" r="2.30" fill="#111" stroke="none" stroke-width="0.8"/>
<line x1="243.08" y1="361.58" x2="243.08" y2="359.22" stroke="#111" stroke-width="0.8" />
<line x1="241.48" y1="359.22" x2="244.68" y2="359.22" stroke="#111" stroke-width="0.8" />
<line x1="241.48" y1="361.58" x2="244.68" y2="361.58" stroke="#111" stroke-width="0.8" />
<circle cx="243.08" cy="360.40" r="2.30" fill="#111" stroke="none" stroke-width="0.8"/>
<line x1="250.22" y1="362.76" x2="250.22" y2="360.40" stroke="#111" stroke-width="0.8" />
<line x1="248.62" y1="360.40" x2="251.82" y2="360.40" stroke="#111" stroke-width="0.8" />
<line x1="248.62" y1="362.76" x2="251.82" y2="362.76" stroke="#111" stroke-width="0.8" />
<circle cx="250.22" cy="361.58" r="2.30" fill="#111" stroke="none" stroke-width="0.8"/>
<line x1="208.70" y1="301.60" x2="217.30" y2="301.60" stroke="#111" stroke-width="1.0" />
<circle cx="213.00" cy="301.60" r="2.10" fill="#111" stroke="none" stroke-width="0.8"/>
<line x1="208.70" y1="309.70" x2="217.30" y2="309.70" stroke="#e8473f" stroke-width="1.0" />
<circle cx="213.00" cy="309.70" r="2.10" fill="#e8473f" stroke="none" stroke-width="0.8"/>
<text x="219.50" y="303.46" font-size="5.3" text-anchor="start" fill="#1a1a1a" color="#1a1a1a" font-weight="normal" >Regular Medium (IC50=283μM)</text>
<text x="219.50" y="311.56" font-size="5.3" text-anchor="start" fill="#1a1a1a" color="#1a1a1a" font-weight="normal" >High-Fat Medium (IC50=474μM)</text>
<text x="232.20" y="332.20" font-size="6.3" text-anchor="start" fill="#1a1a1a" color="#1a1a1a" font-weight="normal" >P&lt;0.001</text>
<text x="362.00" y="292.05" font-size="7.0" text-anchor="middle" fill="#1a1a1a" color="#1a1a1a" font-weight="normal" >QGP1</text>
<line x1="325.20" y1="295.70" x2="325.20" y2="369.70" stroke="#111" stroke-width="0.9" />
<line x1="324.80" y1="369.30" x2="399.10" y2="369.30" stroke="#111" stroke-width="0.9" />
<line x1="322.10" y1="369.30" x2="325.20" y2="369.30" stroke="#111" stroke-width="0.8" />
<text x="321.60" y="371.19" font-size="5.4" text-anchor="end" fill="#1a1a1a" color="#1a1a1a" font-weight="normal" >0</text>
<line x1="322.10" y1="357.10" x2="325.20" y2="357.10" stroke="#111" stroke-width="0.8" />
<text x="321.60" y="358.99" font-size="5.4" text-anchor="end" fill="#1a1a1a" color="#1a1a1a" font-weight="normal" >20</text>
<line x1="322.10" y1="344.90" x2="325.20" y2="344.90" stroke="#111" stroke-width="0.8" />
<text x="321.60" y="346.79" font-size="5.4" text-anchor="end" fill="#1a1a1a" color="#1a1a1a" font-weight="normal" >40</text>
<line x1="322.10" y1="332.70" x2="325.20" y2="332.70" stroke="#111" stroke-width="0.8" />
<text x="321.60" y="334.59" font-size="5.4" text-anchor="end" fill="#1a1a1a" color="#1a1a1a" font-weight="normal" >60</text>
<line x1="322.10" y1="320.50" x2="325.20" y2="320.50" stroke="#111" stroke-width="0.8" />
<text x="321.60" y="322.39" font-size="5.4" text-anchor="end" fill="#1a1a1a" color="#1a1a1a" font-weight="normal" >80</text>
<line x1="322.10" y1="308.30" x2="325.20" y2="308.30" stroke="#111" stroke-width="0.8" />
<text x="321.60" y="310.19" font-size="5.4" text-anchor="end" fill="#1a1a1a" color="#1a1a1a" font-weight="normal" >100</text>
<line x1="322.10" y1="296.10" x2="325.20" y2="296.10" stroke="#111" stroke-width="0.8" />
<text x="321.60" y="297.99" font-size="5.4" text-anchor="end" fill="#1a1a1a" color="#1a1a1a" font-weight="normal" >120</text>
<line x1="325.20" y1="369.30" x2="325.20" y2="371.90" stroke="#111" stroke-width="0.8" />
<text x="325.20" y="377.99" font-size="5.4" text-anchor="middle" fill="#1a1a1a" color="#1a1a1a" font-weight="normal" >1.0</text>
<line x1="337.45" y1="369.30" x2="337.45" y2="371.90" stroke="#111" stroke-width="0.8" />
<text x="337.45" y="377.99" font-size="5.4" text-anchor="middle" fill="#1a1a1a" color="#1a1a1a" font-weight="normal" >1.5</text>
<line x1="349.70" y1="369.30" x2="349.70" y2="371.90" stroke="#111" stroke-width="0.8" />
<text x="349.70" y="377.99" font-size="5.4" text-anchor="middle" fill="#1a1a1a" color="#1a1a1a" font-weight="normal" >2.0</text>
<line x1="361.95" y1="369.30" x2="361.95" y2="371.90" stroke="#111" stroke-width="0.8" />
<text x="361.95" y="377.99" font-size="5.4" text-anchor="middle" fill="#1a1a1a" color="#1a1a1a" font-weight="normal" >2.5</text>
<line x1="374.20" y1="369.30" x2="374.20" y2="371.90" stroke="#111" stroke-width="0.8" />
<text x="374.20" y="377.99" font-size="5.4" text-anchor="middle" fill="#1a1a1a" color="#1a1a1a" font-weight="normal" >3.0</text>
<line x1="386.45" y1="369.30" x2="386.45" y2="371.90" stroke="#111" stroke-width="0.8" />
<text x="386.45" y="377.99" font-size="5.4" text-anchor="middle" fill="#1a1a1a" color="#1a1a1a" font-weight="normal" >3.5</text>
<line x1="398.70" y1="369.30" x2="398.70" y2="371.90" stroke="#111" stroke-width="0.8" />
<text x="398.70" y="377.99" font-size="5.4" text-anchor="middle" fill="#1a1a1a" color="#1a1a1a" font-weight="normal" >4.0</text>
<text x="359.49" y="385.38" font-size="4.8" text-anchor="middle" fill="#1a1a1a" color="#1a1a1a" font-weight="normal" >TMZ Log Concentration (μM)</text>
<text transform="translate(311.40,334.50) rotate(-90)" x="0" y="0" font-size="5.2" text-anchor="middle" fill="#1a1a1a" color="#1a1a1a" font-weight="normal">Survival Fraction (%)</text>
<path d="M337.45,314.07 L338.45,314.48 L339.45,314.92 L340.45,315.40 L341.45,315.91 L342.45,316.47 L343.45,317.06 L344.45,317.70 L345.45,318.38 L346.45,319.11 L347.45,319.89 L348.45,320.71 L349.45,321.59 L350.46,322.51 L351.46,323.48 L352.46,324.50 L353.46,325.57 L354.46,326.69 L355.46,327.84 L356.46,329.04 L357.46,330.28 L358.46,331.54 L359.46,332.84 L360.46,334.16 L361.46,335.50 L362.46,336.86 L363.46,338.22 L364.46,339.58 L365.46,340.94 L366.46,342.28 L367.46,343.61 L368.46,344.92 L369.46,346.20 L370.46,347.45 L371.46,348.66 L372.46,349.84 L373.46,350.97 L374.47,352.06 L375.47,353.10 L376.47,354.09 L377.47,355.03 L378.47,355.92 L379.47,356.77 L380.47,357.57 L381.47,358.31 L382.47,359.02 L383.47,359.67 L384.47,360.29 L385.47,360.86 L386.47,361.39 L387.47,361.88 L388.47,362.34 L389.47,362.76 L390.47,363.15 L391.47,363.51 L392.47,363.85 L393.47,364.15 L394.47,364.43 L395.47,364.69 L396.47,364.93 L397.48,365.15" stroke="#e8473f" stroke-width="1.0" fill="none" />
<path d="M337.45,317.53 L338.45,318.23 L339.45,319.00 L340.45,319.84 L341.45,320.75 L342.45,321.75 L343.45,322.81 L344.45,323.96 L345.45,325.19 L346.45,326.49 L347.45,327.87 L348.45,329.31 L349.45,330.82 L350.46,332.38 L351.46,333.99 L352.46,335.63 L353.46,337.30 L354.46,338.97 L355.46,340.65 L356.46,342.31 L357.46,343.94 L358.46,345.54 L359.46,347.09 L360.46,348.59 L361.46,350.02 L362.46,351.38 L363.46,352.67 L364.46,353.88 L365.46,355.01 L366.46,356.06 L367.46,357.04 L368.46,357.94 L369.46,358.76 L370.46,359.52 L371.46,360.21 L372.46,360.84 L373.46,361.40 L374.47,361.92 L375.47,362.38 L376.47,362.80 L377.47,363.17 L378.47,363.51 L379.47,363.81 L380.47,364.08 L381.47,364.32 L382.47,364.54 L383.47,364.73 L384.47,364.90 L385.47,365.05 L386.47,365.19 L387.47,365.31 L388.47,365.41 L389.47,365.51 L390.47,365.59 L391.47,365.67 L392.47,365.73 L393.47,365.79 L394.47,365.84 L395.47,365.89 L396.47,365.93 L397.48,365.97" stroke="#111" stroke-width="1.0" fill="none" />
<line x1="337.45" y1="317.45" x2="337.45" y2="312.57" stroke="#e8473f" stroke-width="0.8" />
<line x1="335.85" y1="312.57" x2="339.05" y2="312.57" stroke="#e8473f" stroke-width="0.8" />
<line x1="335.85" y1="317.45" x2="339.05" y2="317.45" stroke="#e8473f" stroke-width="0.8" />
<circle cx="337.45" cy="315.01" r="2.30" fill="#e8473f" stroke="none" stroke-width="0.8"/>
<line x1="344.80" y1="317.45" x2="344.80" y2="313.79" stroke="#e8473f" stroke-width="0.8" />
<line x1="343.20" y1="313.79" x2="346.40" y2="313.79" stroke="#e8473f" stroke-width="0.8" />
<line x1="343.20" y1="317.45" x2="346.40" y2="317.45" stroke="#e8473f" stroke-width="0.8" />
<circle cx="344.80" cy="315.62" r="2.30" fill="#e8473f" stroke="none" stroke-width="0.8"/>
<line x1="352.15" y1="332.70" x2="352.15" y2="318.06" stroke="#e8473f" stroke-width="0.8" />
<line x1="350.55" y1="318.06" x2="353.75" y2="318.06" stroke="#e8473f" stroke-width="0.8" />
<line x1="350.55" y1="332.70" x2="353.75" y2="332.70" stroke="#e8473f" stroke-width="0.8" />
<circle cx="352.15" cy="325.38" r="2.30" fill="#e8473f" stroke="none" stroke-width="0.8"/>
<line x1="359.50" y1="344.90" x2="359.50" y2="330.26" stroke="#e8473f" stroke-width="0.8" />
<line x1="357.90" y1="330.26" x2="361.10" y2="330.26" stroke="#e8473f" stroke-width="0.8" />
<line x1="357.90" y1="344.90" x2="361.10" y2="344.90" stroke="#e8473f" stroke-width="0.8" />
<circle cx="359.50" cy="337.58" r="2.30" fill="#e8473f" stroke="none" stroke-width="0.8"/>
<line x1="366.85" y1="346.73" x2="366.85" y2="341.85" stroke="#e8473f" stroke-width="0.8" />
<line x1="365.25" y1="341.85" x2="368.45" y2="341.85" stroke="#e8473f" stroke-width="0.8" />
<line x1="365.25" y1="346.73" x2="368.45" y2="346.73" stroke="#e8473f" stroke-width="0.8" />
<circle cx="366.85" cy="344.29" r="2.30" fill="#e8473f" stroke="none" stroke-width="0.8"/>
<line x1="374.20" y1="355.27" x2="374.20" y2="343.07" stroke="#e8473f" stroke-width="0.8" />
<line x1="372.60" y1="343.07" x2="375.80" y2="343.07" stroke="#e8473f" stroke-width="0.8" />
<line x1="372.60" y1="355.27" x2="375.80" y2="355.27" stroke="#e8473f" stroke-width="0.8" />
<circle cx="374.20" cy="349.17" r="2.30" fill="#e8473f" stroke="none" stroke-width="0.8"/>
<line x1="381.55" y1="357.10" x2="381.55" y2="352.22" stroke="#e8473f" stroke-width="0.8" />
<line x1="379.95" y1="352.22" x2="383.15" y2="352.22" stroke="#e8473f" stroke-width="0.8" />
<line x1="379.95" y1="357.10" x2="383.15" y2="357.10" stroke="#e8473f" stroke-width="0.8" />
<circle cx="381.55" cy="354.66" r="2.30" fill="#e8473f" stroke="none" stroke-width="0.8"/>
<line x1="388.90" y1="362.59" x2="388.90" y2="358.93" stroke="#e8473f" stroke-width="0.8" />
<line x1="387.30" y1="358.93" x2="390.50" y2="358.93" stroke="#e8473f" stroke-width="0.8" />
<line x1="387.30" y1="362.59" x2="390.50" y2="362.59" stroke="#e8473f" stroke-width="0.8" />
<circle cx="388.90" cy="360.76" r="2.30" fill="#e8473f" stroke="none" stroke-width="0.8"/>
<line x1="396.25" y1="365.64" x2="396.25" y2="363.20" stroke="#e8473f" stroke-width="0.8" />
<line x1="394.65" y1="363.20" x2="397.85" y2="363.20" stroke="#e8473f" stroke-width="0.8" />
<line x1="394.65" y1="365.64" x2="397.85" y2="365.64" stroke="#e8473f" stroke-width="0.8" />
<circle cx="396.25" cy="364.42" r="2.30" fill="#e8473f" stroke="none" stroke-width="0.8"/>
<line x1="337.45" y1="319.89" x2="337.45" y2="313.79" stroke="#111" stroke-width="0.8" />
<line x1="335.85" y1="313.79" x2="339.05" y2="313.79" stroke="#111" stroke-width="0.8" />
<line x1="335.85" y1="319.89" x2="339.05" y2="319.89" stroke="#111" stroke-width="0.8" />
<circle cx="337.45" cy="316.84" r="2.30" fill="#111" stroke="none" stroke-width="0.8"/>
<line x1="344.80" y1="334.53" x2="344.80" y2="322.33" stroke="#111" stroke-width="0.8" />
<line x1="343.20" y1="322.33" x2="346.40" y2="322.33" stroke="#111" stroke-width="0.8" />
<line x1="343.20" y1="334.53" x2="346.40" y2="334.53" stroke="#111" stroke-width="0.8" />
<circle cx="344.80" cy="328.43" r="2.30" fill="#111" stroke="none" stroke-width="0.8"/>
<line x1="352.15" y1="342.46" x2="352.15" y2="327.82" stroke="#111" stroke-width="0.8" />
<line x1="350.55" y1="327.82" x2="353.75" y2="327.82" stroke="#111" stroke-width="0.8" />
<line x1="350.55" y1="342.46" x2="353.75" y2="342.46" stroke="#111" stroke-width="0.8" />
<circle cx="352.15" cy="335.14" r="2.30" fill="#111" stroke="none" stroke-width="0.8"/>
<line x1="359.50" y1="347.34" x2="359.50" y2="344.90" stroke="#111" stroke-width="0.8" />
<line x1="357.90" y1="344.90" x2="361.10" y2="344.90" stroke="#111" stroke-width="0.8" />
<line x1="357.90" y1="347.34" x2="361.10" y2="347.34" stroke="#111" stroke-width="0.8" />
<circle cx="359.50" cy="346.12" r="2.30" fill="#111" stroke="none" stroke-width="0.8"/>
<line x1="366.85" y1="357.10" x2="366.85" y2="354.66" stroke="#111" stroke-width="0.8" />
<line x1="365.25" y1="354.66" x2="368.45" y2="354.66" stroke="#111" stroke-width="0.8" />
<line x1="365.25" y1="357.10" x2="368.45" y2="357.10" stroke="#111" stroke-width="0.8" />
<circle cx="366.85" cy="355.88" r="2.30" fill="#111" stroke="none" stroke-width="0.8"/>
<line x1="374.20" y1="363.81" x2="374.20" y2="357.71" stroke="#111" stroke-width="0.8" />
<line x1="372.60" y1="357.71" x2="375.80" y2="357.71" stroke="#111" stroke-width="0.8" />
<line x1="372.60" y1="363.81" x2="375.80" y2="363.81" stroke="#111" stroke-width="0.8" />
<circle cx="374.20" cy="360.76" r="2.30" fill="#111" stroke="none" stroke-width="0.8"/>
<line x1="381.55" y1="364.42" x2="381.55" y2="359.54" stroke="#111" stroke-width="0.8" />
<line x1="379.95" y1="359.54" x2="383.15" y2="359.54" stroke="#111" stroke-width="0.8" />
<line x1="379.95" y1="364.42" x2="383.15" y2="364.42" stroke="#111" stroke-width="0.8" />
<circle cx="381.55" cy="361.98" r="2.30" fill="#111" stroke="none" stroke-width="0.8"/>
<line x1="388.90" y1="365.64" x2="388.90" y2="360.76" stroke="#111" stroke-width="0.8" />
<line x1="387.30" y1="360.76" x2="390.50" y2="360.76" stroke="#111" stroke-width="0.8" />
<line x1="387.30" y1="365.64" x2="390.50" y2="365.64" stroke="#111" stroke-width="0.8" />
<circle cx="388.90" cy="363.20" r="2.30" fill="#111" stroke="none" stroke-width="0.8"/>
<line x1="396.25" y1="365.64" x2="396.25" y2="363.20" stroke="#111" stroke-width="0.8" />
<line x1="394.65" y1="363.20" x2="397.85" y2="363.20" stroke="#111" stroke-width="0.8" />
<line x1="394.65" y1="365.64" x2="397.85" y2="365.64" stroke="#111" stroke-width="0.8" />
<circle cx="396.25" cy="364.42" r="2.30" fill="#111" stroke="none" stroke-width="0.8"/>
<line x1="353.70" y1="304.20" x2="362.30" y2="304.20" stroke="#111" stroke-width="1.0" />
<circle cx="358.00" cy="304.20" r="2.10" fill="#111" stroke="none" stroke-width="0.8"/>
<line x1="353.70" y1="312.10" x2="362.30" y2="312.10" stroke="#e8473f" stroke-width="1.0" />
<circle cx="358.00" cy="312.10" r="2.10" fill="#e8473f" stroke="none" stroke-width="0.8"/>
<text x="364.50" y="306.06" font-size="5.3" text-anchor="start" fill="#1a1a1a" color="#1a1a1a" font-weight="normal" >Regular Medium (IC50=154μM)</text>
<text x="364.50" y="313.96" font-size="5.3" text-anchor="start" fill="#1a1a1a" color="#1a1a1a" font-weight="normal" >High-Fat Medium (IC50=368μM)</text>
<text x="377.60" y="333.40" font-size="6.3" text-anchor="start" fill="#1a1a1a" color="#1a1a1a" font-weight="normal" >P&lt;0.001</text>
<text x="451.80" y="283.90" font-size="10" text-anchor="start" fill="#111" color="#111" font-weight="bold" >J</text>
<line x1="486.60" y1="291.30" x2="486.60" y2="362.10" stroke="#111" stroke-width="0.9" />
<line x1="486.20" y1="361.70" x2="556.80" y2="361.70" stroke="#111" stroke-width="0.9" />
<line x1="484.60" y1="361.70" x2="486.60" y2="361.70" stroke="#111" stroke-width="0.8" />
<text x="483.60" y="363.45" font-size="5.0" text-anchor="end" fill="#1a1a1a" color="#1a1a1a" font-weight="normal" >0.0</text>
<line x1="484.60" y1="344.20" x2="486.60" y2="344.20" stroke="#111" stroke-width="0.8" />
<text x="483.60" y="345.95" font-size="5.0" text-anchor="end" fill="#1a1a1a" color="#1a1a1a" font-weight="normal" >0.2</text>
<line x1="484.60" y1="326.70" x2="486.60" y2="326.70" stroke="#111" stroke-width="0.8" />
<text x="483.60" y="328.45" font-size="5.0" text-anchor="end" fill="#1a1a1a" color="#1a1a1a" font-weight="normal" >0.4</text>
<line x1="484.60" y1="309.20" x2="486.60" y2="309.20" stroke="#111" stroke-width="0.8" />
<text x="483.60" y="310.95" font-size="5.0" text-anchor="end" fill="#1a1a1a" color="#1a1a1a" font-weight="normal" >0.6</text>
<line x1="484.60" y1="291.70" x2="486.60" y2="291.70" stroke="#111" stroke-width="0.8" />
<text x="483.60" y="293.45" font-size="5.0" text-anchor="end" fill="#1a1a1a" color="#1a1a1a" font-weight="normal" >0.8</text>
<line x1="497.10" y1="361.70" x2="497.10" y2="363.90" stroke="#111" stroke-width="0.8" />
<line x1="513.10" y1="361.70" x2="513.10" y2="363.90" stroke="#111" stroke-width="0.8" />
<line x1="529.20" y1="361.70" x2="529.20" y2="363.90" stroke="#111" stroke-width="0.8" />
<line x1="545.20" y1="361.70" x2="545.20" y2="363.90" stroke="#111" stroke-width="0.8" />
<text transform="translate(473.20,327.00) rotate(-90)" x="0" y="0" font-size="5.5" text-anchor="middle" fill="#1a1a1a" color="#1a1a1a" font-weight="normal">Tumor weight (g)</text>
<path d="M492.8,334.4 L501.0,337.6" stroke="#111" stroke-width="3.4" fill="none" stroke-linecap="round"/>
<path d="M509.0,349.0 L511.5,350.8 L514.0,350.5 L517.3,352.8" stroke="#e8262b" stroke-width="3.4" fill="none" stroke-linecap="round" stroke-linejoin="round"/>
<circle cx="526.20" cy="319.10" r="1.95" fill="#2a3f9c" stroke="none" stroke-width="0.8"/>
<circle cx="531.90" cy="319.90" r="1.95" fill="#2a3f9c" stroke="none" stroke-width="0.8"/>
<circle cx="526.20" cy="329.30" r="1.95" fill="#2a3f9c" stroke="none" stroke-width="0.8"/>
<circle cx="531.90" cy="330.30" r="1.95" fill="#2a3f9c" stroke="none" stroke-width="0.8"/>
<line x1="523.70" y1="324.30" x2="534.70" y2="324.30" stroke="#2a3f9c" stroke-width="0.9" />
<circle cx="542.70" cy="330.30" r="1.95" fill="#2e9960" stroke="none" stroke-width="0.8"/>
<circle cx="548.40" cy="330.90" r="1.95" fill="#2e9960" stroke="none" stroke-width="0.8"/>
<circle cx="542.70" cy="337.20" r="1.95" fill="#2e9960" stroke="none" stroke-width="0.8"/>
<circle cx="548.00" cy="340.00" r="1.95" fill="#2e9960" stroke="none" stroke-width="0.8"/>
<line x1="540.10" y1="334.10" x2="550.90" y2="334.10" stroke="#2e9960" stroke-width="0.9" />
<line x1="493.90" y1="328.60" x2="513.10" y2="328.60" stroke="#111" stroke-width="0.9" />
<text x="503.40" y="329.40" font-size="9.0" text-anchor="middle" fill="#1a1a1a" color="#1a1a1a" font-weight="bold" >***</text>
<line x1="493.20" y1="313.40" x2="528.70" y2="313.40" stroke="#111" stroke-width="0.9" />
<text x="510.90" y="314.00" font-size="9.0" text-anchor="middle" fill="#1a1a1a" color="#1a1a1a" font-weight="bold" >***</text>
<line x1="532.10" y1="313.40" x2="547.10" y2="313.40" stroke="#111" stroke-width="0.9" />
<text x="539.60" y="314.00" font-size="9.0" text-anchor="middle" fill="#1a1a1a" color="#1a1a1a" font-weight="bold" >*</text>
<line x1="514.40" y1="301.30" x2="549.60" y2="301.30" stroke="#111" stroke-width="0.9" />
<text x="532.00" y="302.00" font-size="9.0" text-anchor="middle" fill="#1a1a1a" color="#1a1a1a" font-weight="bold" >***</text>
<text x="488.50" y="375.43" font-size="5.8" text-anchor="end" fill="#1a1a1a" color="#1a1a1a" font-weight="normal" >PBS</text>
<text x="497.10" y="375.43" font-size="5.8" text-anchor="middle" fill="#1a1a1a" color="#1a1a1a" font-weight="normal" >+</text>
<text x="513.10" y="375.43" font-size="5.8" text-anchor="middle" fill="#1a1a1a" color="#1a1a1a" font-weight="normal" >-</text>
<text x="529.20" y="375.43" font-size="5.8" text-anchor="middle" fill="#1a1a1a" color="#1a1a1a" font-weight="normal" >+</text>
<text x="545.20" y="375.43" font-size="5.8" text-anchor="middle" fill="#1a1a1a" color="#1a1a1a" font-weight="normal" >-</text>
<text x="488.50" y="381.33" font-size="5.8" text-anchor="end" fill="#1a1a1a" color="#1a1a1a" font-weight="normal" >TMZ</text>
<text x="497.10" y="381.33" font-size="5.8" text-anchor="middle" fill="#1a1a1a" color="#1a1a1a" font-weight="normal" >-</text>
<text x="513.10" y="381.33" font-size="5.8" text-anchor="middle" fill="#1a1a1a" color="#1a1a1a" font-weight="normal" >+</text>
<text x="529.20" y="381.33" font-size="5.8" text-anchor="middle" fill="#1a1a1a" color="#1a1a1a" font-weight="normal" >-</text>
<text x="545.20" y="381.33" font-size="5.8" text-anchor="middle" fill="#1a1a1a" color="#1a1a1a" font-weight="normal" >+</text>
<text x="488.50" y="387.83" font-size="5.8" text-anchor="end" fill="#1a1a1a" color="#1a1a1a" font-weight="normal" >Chow Diet</text>
<text x="497.10" y="387.83" font-size="5.8" text-anchor="middle" fill="#1a1a1a" color="#1a1a1a" font-weight="normal" >+</text>
<text x="513.10" y="387.83" font-size="5.8" text-anchor="middle" fill="#1a1a1a" color="#1a1a1a" font-weight="normal" >+</text>
<text x="529.20" y="387.83" font-size="5.8" text-anchor="middle" fill="#1a1a1a" color="#1a1a1a" font-weight="normal" >-</text>
<text x="545.20" y="387.83" font-size="5.8" text-anchor="middle" fill="#1a1a1a" color="#1a1a1a" font-weight="normal" >-</text>
<text x="488.50" y="393.43" font-size="5.8" text-anchor="end" fill="#1a1a1a" color="#1a1a1a" font-weight="normal" >High-Fat Diet</text>
<text x="497.10" y="393.43" font-size="5.8" text-anchor="middle" fill="#1a1a1a" color="#1a1a1a" font-weight="normal" >-</text>
<text x="513.10" y="393.43" font-size="5.8" text-anchor="middle" fill="#1a1a1a" color="#1a1a1a" font-weight="normal" >-</text>
<text x="529.20" y="393.43" font-size="5.8" text-anchor="middle" fill="#1a1a1a" color="#1a1a1a" font-weight="normal" >+</text>
<text x="545.20" y="393.43" font-size="5.8" text-anchor="middle" fill="#1a1a1a" color="#1a1a1a" font-weight="normal" >+</text>
<defs><clipPath id="cpJ"><rect x="578.3" y="293.8" width="80.5" height="72.0"/></clipPath><radialGradient id="tum" cx="0.55" cy="0.4" r="0.65"><stop offset="0" stop-color="#f4c6b8"/><stop offset="0.55" stop-color="#e6a596"/><stop offset="1" stop-color="#c8727a"/></radialGradient><radialGradient id="tum2" cx="0.6" cy="0.35" r="0.65"><stop offset="0" stop-color="#ec9a90"/><stop offset="0.6" stop-color="#da7c74"/><stop offset="1" stop-color="#a04a66"/></radialGradient><filter id="bl3"><feGaussianBlur stdDeviation="0.55"/></filter></defs>
<g clip-path="url(#cpJ)"><rect x="578.3" y="293.8" width="80.5" height="72.0" fill="#6aa4e3"/><line x1="574.00" y1="293" x2="574.00" y2="367" stroke="#b4d0f1" stroke-width="0.75"/><line x1="578.77" y1="293" x2="578.77" y2="367" stroke="#7fb0e8" stroke-width="0.3"/><line x1="583.55" y1="293" x2="583.55" y2="367" stroke="#b4d0f1" stroke-width="0.75"/><line x1="588.32" y1="293" x2="588.32" y2="367" stroke="#7fb0e8" stroke-width="0.3"/><line x1="593.10" y1="293" x2="593.10" y2="367" stroke="#b4d0f1" stroke-width="0.75"/><line x1="597.87" y1="293" x2="597.87" y2="367" stroke="#7fb0e8" stroke-width="0.3"/><line x1="602.65" y1="293" x2="602.65" y2="367" stroke="#b4d0f1" stroke-width="0.75"/><line x1="607.42" y1="293" x2="607.42" y2="367" stroke="#7fb0e8" stroke-width="0.3"/><line x1="612.20" y1="293" x2="612.20" y2="367" stroke="#b4d0f1" stroke-width="0.75"/><line x1="616.97" y1="293" x2="616.97" y2="367" stroke="#7fb0e8" stroke-width="0.3"/><line x1="621.75" y1="293" x2="621.75" y2="367" stroke="#b4d0f1" stroke-width="0.75"/><line x1="626.52" y1="293" x2="626.52" y2="367" stroke="#7fb0e8" stroke-width="0.3"/><line x1="631.30" y1="293" x2="631.30" y2="367" stroke="#b4d0f1" stroke-width="0.75"/><line x1="636.07" y1="293" x2="636.07" y2="367" stroke="#7fb0e8" stroke-width="0.3"/><line x1="640.85" y1="293" x2="640.85" y2="367" stroke="#b4d0f1" stroke-width="0.75"/><line x1="645.62" y1="293" x2="645.62" y2="367" stroke="#7fb0e8" stroke-width="0.3"/><line x1="650.40" y1="293" x2="650.40" y2="367" stroke="#b4d0f1" stroke-width="0.75"/><line x1="655.17" y1="293" x2="655.17" y2="367" stroke="#7fb0e8" stroke-width="0.3"/><line x1="659.95" y1="293" x2="659.95" y2="367" stroke="#b4d0f1" stroke-width="0.75"/><line x1="664.72" y1="293" x2="664.72" y2="367" stroke="#7fb0e8" stroke-width="0.3"/><line x1="578" y1="296.60" x2="660" y2="296.60" stroke="#b4d0f1" stroke-width="0.75"/><line x1="578" y1="301.20" x2="660" y2="301.20" stroke="#7fb0e8" stroke-width="0.3"/><line x1="578" y1="305.80" x2="660" y2="305.80" stroke="#b4d0f1" stroke-width="0.75"/><line x1="578" y1="310.40" x2="660" y2="310.40" stroke="#7fb0e8" stroke-width="0.3"/><line x1="578" y1="315.00" x2="660" y2="315.00" stroke="#b4d0f1" stroke-width="0.75"/><line x1="578" y1="319.60" x2="660" y2="319.60" stroke="#7fb0e8" stroke-width="0.3"/><line x1="578" y1="324.20" x2="660" y2="324.20" stroke="#b4d0f1" stroke-width="0.75"/><line x1="578" y1="328.80" x2="660" y2="328.80" stroke="#7fb0e8" stroke-width="0.3"/><line x1="578" y1="333.40" x2="660" y2="333.40" stroke="#b4d0f1" stroke-width="0.75"/><line x1="578" y1="338.00" x2="660" y2="338.00" stroke="#7fb0e8" stroke-width="0.3"/><line x1="578" y1="342.60" x2="660" y2="342.60" stroke="#b4d0f1" stroke-width="0.75"/><line x1="578" y1="347.20" x2="660" y2="347.20" stroke="#7fb0e8" stroke-width="0.3"/><line x1="578" y1="351.80" x2="660" y2="351.80" stroke="#b4d0f1" stroke-width="0.75"/><line x1="578" y1="356.40" x2="660" y2="356.40" stroke="#7fb0e8" stroke-width="0.3"/><line x1="578" y1="361.00" x2="660" y2="361.00" stroke="#b4d0f1" stroke-width="0.75"/><line x1="578" y1="365.60" x2="660" y2="365.60" stroke="#7fb0e8" stroke-width="0.3"/><line x1="578" y1="370.20" x2="660" y2="370.20" stroke="#b4d0f1" stroke-width="0.75"/><line x1="578" y1="374.80" x2="660" y2="374.80" stroke="#7fb0e8" stroke-width="0.3"/><g filter="url(#bl3)"><ellipse cx="585.80" cy="299.20" rx="4.60" ry="3.80" fill="#7a4a78" opacity="0.55"/><ellipse cx="586.60" cy="298.60" rx="4.60" ry="3.80" fill="url(#tum)"/><ellipse cx="606.10" cy="300.20" rx="5.40" ry="5.80" fill="#7a4a78" opacity="0.55"/><ellipse cx="606.90" cy="299.60" rx="5.40" ry="5.80" fill="url(#tum)"/><ellipse cx="623.80" cy="300.20" rx="6.50" ry="5.00" fill="#7a4a78" opacity="0.55"/><ellipse cx="624.60" cy="299.60" rx="6.50" ry="5.00" fill="url(#tum2)"/><ellipse cx="643.60" cy="301.70" rx="7.00" ry="5.60" fill="#7a4a78" opacity="0.55"/><ellipse cx="644.40" cy="301.10" rx="7.00" ry="5.60" fill="url(#tum2)"/><ellipse cx="586.10" cy="318.90" rx="3.00" ry="3.00" fill="#7a4a78" opacity="0.55"/><ellipse cx="586.90" cy="318.30" rx="3.00" ry="3.00" fill="url(#tum)"/><ellipse cx="605.50" cy="319.20" rx="3.30" ry="2.90" fill="#7a4a78" opacity="0.55"/><ellipse cx="606.30" cy="318.60" rx="3.30" ry="2.90" fill="url(#tum)"/><ellipse cx="625.50" cy="320.50" rx="3.20" ry="2.20" fill="#7a4a78" opacity="0.55"/><ellipse cx="626.30" cy="319.90" rx="3.20" ry="2.20" fill="url(#tum2)"/><ellipse cx="643.60" cy="319.00" rx="4.00" ry="3.50" fill="#7a4a78" opacity="0.55"/><ellipse cx="644.40" cy="318.40" rx="4.00" ry="3.50" fill="url(#tum)"/><ellipse cx="588.40" cy="336.90" rx="6.30" ry="5.60" fill="#7a4a78" opacity="0.55"/><ellipse cx="589.20" cy="336.30" rx="6.30" ry="5.60" fill="url(#tum)"/><ellipse cx="605.30" cy="338.10" rx="6.00" ry="5.50" fill="#7a4a78" opacity="0.55"/><ellipse cx="606.10" cy="337.50" rx="6.00" ry="5.50" fill="url(#tum)"/><ellipse cx="626.60" cy="338.80" rx="7.50" ry="7.30" fill="#7a4a78" opacity="0.55"/><ellipse cx="627.40" cy="338.20" rx="7.50" ry="7.30" fill="url(#tum)"/><ellipse cx="646.70" cy="337.50" rx="8.50" ry="7.80" fill="#7a4a78" opacity="0.55"/><ellipse cx="647.50" cy="336.90" rx="8.50" ry="7.80" fill="url(#tum)"/><ellipse cx="585.90" cy="357.00" rx="6.50" ry="5.00" fill="#7a4a78" opacity="0.55"/><ellipse cx="586.70" cy="356.40" rx="6.50" ry="5.00" fill="url(#tum)"/><ellipse cx="605.30" cy="358.00" rx="7.00" ry="6.20" fill="#7a4a78" opacity="0.55"/><ellipse cx="606.10" cy="357.40" rx="7.00" ry="6.20" fill="url(#tum)"/><ellipse cx="625.40" cy="357.00" rx="5.00" ry="5.00" fill="#7a4a78" opacity="0.55"/><ellipse cx="626.20" cy="356.40" rx="5.00" ry="5.00" fill="url(#tum)"/><ellipse cx="643.60" cy="355.70" rx="5.50" ry="4.30" fill="#7a4a78" opacity="0.55"/><ellipse cx="644.40" cy="355.10" rx="5.50" ry="4.30" fill="url(#tum)"/></g></g>
<circle cx="572.50" cy="300.50" r="2.60" fill="#000" stroke="none" stroke-width="0.8"/>
<circle cx="572.50" cy="319.40" r="2.60" fill="#e8262b" stroke="none" stroke-width="0.8"/>
<circle cx="572.50" cy="337.70" r="2.60" fill="#2a3f9c" stroke="none" stroke-width="0.8"/>
<circle cx="572.50" cy="354.90" r="2.60" fill="#2e9960" stroke="none" stroke-width="0.8"/>
</svg></body></html>
